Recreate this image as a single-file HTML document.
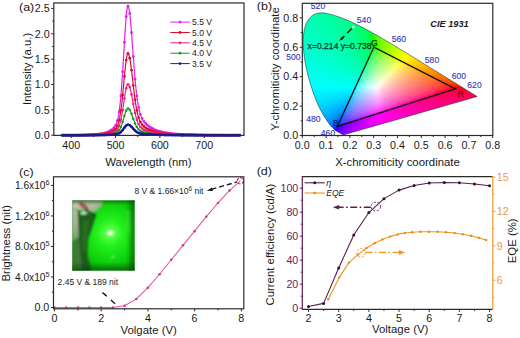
<!DOCTYPE html>
<html><head><meta charset="utf-8"><style>
html,body{margin:0;padding:0;background:#fff;width:520px;height:338px;overflow:hidden}
svg{display:block;font-family:"Liberation Sans", sans-serif}
</style></head><body>
<svg width="520" height="338" viewBox="0 0 520 338">
<defs><clipPath id="cie"><path d="M343.74,134.76 L343.73,134.76 L343.73,134.76 L343.73,134.76 L343.72,134.76 L343.72,134.76 L343.71,134.76 L343.71,134.77 L343.7,134.77 L343.69,134.77 L343.68,134.78 L343.67,134.78 L343.66,134.78 L343.66,134.78 L343.65,134.78 L343.64,134.78 L343.63,134.78 L343.63,134.78 L343.62,134.78 L343.61,134.78 L343.59,134.78 L343.58,134.79 L343.57,134.79 L343.56,134.79 L343.55,134.79 L343.53,134.8 L343.52,134.8 L343.51,134.8 L343.5,134.79 L343.49,134.79 L343.47,134.79 L343.46,134.79 L343.44,134.79 L343.43,134.79 L343.41,134.79 L343.4,134.79 L343.38,134.79 L343.36,134.79 L343.34,134.8 L343.32,134.8 L343.3,134.8 L343.28,134.8 L343.26,134.79 L343.24,134.79 L343.21,134.79 L343.19,134.78 L343.16,134.77 L343.13,134.76 L343.09,134.75 L343.06,134.74 L343.02,134.72 L342.97,134.71 L342.93,134.69 L342.88,134.67 L342.83,134.65 L342.78,134.62 L342.73,134.6 L342.68,134.58 L342.62,134.55 L342.56,134.52 L342.5,134.49 L342.43,134.45 L342.35,134.41 L342.28,134.37 L342.19,134.33 L342.11,134.28 L342.02,134.24 L341.93,134.19 L341.84,134.13 L341.74,134.08 L341.64,134.02 L341.54,133.96 L341.43,133.9 L341.31,133.83 L341.19,133.77 L341.06,133.7 L340.93,133.63 L340.79,133.55 L340.64,133.47 L340.48,133.39 L340.32,133.3 L340.14,133.2 L339.96,133.11 L339.77,133 L339.57,132.9 L339.37,132.79 L339.16,132.68 L338.94,132.56 L338.72,132.44 L338.48,132.3 L338.24,132.16 L337.98,132.01 L337.72,131.86 L337.45,131.7 L337.17,131.52 L336.87,131.34 L336.57,131.13 L336.26,130.92 L335.95,130.71 L335.63,130.48 L335.29,130.24 L334.93,129.96 L334.55,129.63 L334.15,129.28 L333.72,128.9 L333.28,128.49 L332.82,128.04 L332.34,127.55 L331.84,127 L331.31,126.42 L330.77,125.8 L330.21,125.13 L329.63,124.41 L329.02,123.61 L328.38,122.74 L327.72,121.8 L327.04,120.8 L326.33,119.73 L325.59,118.57 L324.82,117.33 L324.03,115.99 L323.19,114.56 L322.32,113.04 L321.41,111.44 L320.49,109.74 L319.57,107.92 L318.65,106 L317.73,103.95 L316.8,101.79 L315.87,99.52 L314.94,97.15 L314.01,94.69 L313.11,92.14 L312.2,89.46 L311.28,86.67 L310.38,83.77 L309.5,80.81 L308.67,77.82 L307.89,74.83 L307.16,71.81 L306.47,68.71 L305.81,65.58 L305.21,62.46 L304.69,59.37 L304.25,56.36 L303.89,53.39 L303.59,50.44 L303.36,47.52 L303.22,44.67 L303.17,41.9 L303.23,39.24 L303.39,36.67 L303.64,34.16 L303.98,31.73 L304.42,29.42 L304.97,27.24 L305.61,25.22 L306.36,23.35 L307.24,21.61 L308.21,20 L309.26,18.55 L310.38,17.25 L311.56,16.14 L312.81,15.21 L314.14,14.47 L315.55,13.9 L317,13.46 L318.49,13.15 L319.98,12.93 L321.5,12.85 L323.06,12.91 L324.66,13.1 L326.26,13.38 L327.88,13.7 L329.48,14.05 L331.08,14.43 L332.7,14.88 L334.32,15.39 L335.94,15.93 L337.54,16.48 L339.12,17.03 L340.67,17.59 L342.2,18.16 L343.72,18.75 L345.23,19.36 L346.72,19.98 L348.21,20.6 L349.69,21.24 L351.15,21.9 L352.61,22.56 L354.06,23.23 L355.5,23.92 L356.94,24.62 L358.39,25.33 L359.83,26.05 L361.27,26.78 L362.7,27.52 L364.13,28.27 L365.56,29.03 L366.99,29.79 L368.41,30.57 L369.83,31.35 L371.25,32.14 L372.66,32.93 L374.08,33.73 L375.5,34.54 L376.91,35.35 L378.33,36.16 L379.74,36.99 L381.16,37.81 L382.58,38.64 L384,39.48 L385.42,40.31 L386.84,41.16 L388.26,42 L389.68,42.85 L391.1,43.7 L392.51,44.55 L393.93,45.4 L395.34,46.26 L396.75,47.12 L398.16,47.97 L399.57,48.83 L400.98,49.68 L402.39,50.54 L403.8,51.4 L405.2,52.25 L406.6,53.11 L408,53.96 L409.38,54.81 L410.77,55.66 L412.15,56.51 L413.53,57.35 L414.89,58.19 L416.25,59.03 L417.61,59.86 L418.96,60.69 L420.3,61.52 L421.63,62.34 L422.96,63.16 L424.27,63.97 L425.58,64.77 L426.88,65.57 L428.17,66.37 L429.45,67.15 L430.71,67.93 L431.96,68.7 L433.2,69.46 L434.43,70.22 L435.65,70.96 L436.85,71.7 L438.03,72.43 L439.2,73.14 L440.34,73.85 L441.47,74.55 L442.59,75.24 L443.68,75.91 L444.75,76.57 L445.79,77.21 L446.8,77.84 L447.79,78.45 L448.75,79.04 L449.7,79.62 L450.62,80.19 L451.53,80.74 L452.42,81.29 L453.29,81.83 L454.15,82.35 L454.98,82.87 L455.79,83.36 L456.57,83.84 L457.33,84.31 L458.06,84.75 L458.77,85.19 L459.45,85.6 L460.12,86.01 L460.76,86.4 L461.38,86.78 L461.98,87.15 L462.55,87.51 L463.11,87.85 L463.65,88.18 L464.16,88.5 L464.66,88.81 L465.14,89.11 L465.6,89.39 L466.04,89.66 L466.46,89.93 L466.88,90.18 L467.27,90.42 L467.66,90.66 L468.02,90.88 L468.37,91.09 L468.71,91.3 L469.04,91.5 L469.36,91.7 L469.66,91.89 L469.96,92.07 L470.24,92.24 L470.51,92.41 L470.78,92.58 L471.04,92.74 L471.29,92.89 L471.54,93.05 L471.78,93.19 L472.01,93.33 L472.23,93.47 L472.45,93.61 L472.66,93.74 L472.86,93.86 L473.05,93.98 L473.24,94.1 L473.42,94.21 L473.6,94.31 L473.77,94.42 L473.93,94.51 L474.08,94.61 L474.23,94.69 L474.37,94.78 L474.51,94.86 L474.64,94.94 L474.76,95.02 L474.87,95.09 L474.98,95.16 L475.09,95.22 L475.19,95.29 L475.29,95.35 L475.38,95.4 L475.47,95.46 L475.55,95.51 L475.64,95.56 L475.71,95.61 L475.79,95.65 L475.86,95.7 L475.92,95.74 L475.98,95.77 L476.04,95.81 L476.09,95.84 L476.14,95.87 L476.18,95.9 L476.22,95.92 L476.26,95.95 L476.3,95.97 L476.34,95.99 L476.37,96.02 L476.4,96.04 L476.44,96.06 L476.47,96.08 L476.52,96.1 L476.57,96.13 L476.62,96.17 L476.68,96.21 L476.74,96.24 L476.8,96.28 L476.85,96.31 L476.9,96.34 L476.94,96.37 L476.98,96.39 L477.02,96.42 L477.06,96.44 L477.09,96.46 L477.11,96.47 L477.13,96.48 L477.14,96.49 L477.15,96.49 L477.15,96.5 L477.16,96.5 Z"/></clipPath><linearGradient id="r0" gradientUnits="userSpaceOnUse" x1="320" y1="0" x2="323" y2="0"><stop offset="0" stop-color="#00ffa7"/><stop offset="1" stop-color="#00ffa7"/></linearGradient><linearGradient id="r1" gradientUnits="userSpaceOnUse" x1="315" y1="0" x2="328" y2="0"><stop offset="0" stop-color="#00ffab"/><stop offset="0.2" stop-color="#00ffab"/><stop offset="0.4" stop-color="#00ffa9"/><stop offset="0.6" stop-color="#00ffa6"/><stop offset="0.8" stop-color="#00ffa4"/><stop offset="1" stop-color="#00ffa3"/></linearGradient><linearGradient id="r2" gradientUnits="userSpaceOnUse" x1="313" y1="0" x2="333" y2="0"><stop offset="0" stop-color="#00ffae"/><stop offset="0.14" stop-color="#00ffad"/><stop offset="0.29" stop-color="#00ffab"/><stop offset="0.43" stop-color="#00ffa8"/><stop offset="0.57" stop-color="#00ffa5"/><stop offset="0.71" stop-color="#00ffa2"/><stop offset="0.86" stop-color="#00ff9f"/><stop offset="1" stop-color="#00ff9e"/></linearGradient><linearGradient id="r3" gradientUnits="userSpaceOnUse" x1="311" y1="0" x2="336" y2="0"><stop offset="0" stop-color="#00ffb0"/><stop offset="0.11" stop-color="#00ffaf"/><stop offset="0.22" stop-color="#00ffad"/><stop offset="0.33" stop-color="#00ffab"/><stop offset="0.44" stop-color="#00ffa8"/><stop offset="0.56" stop-color="#00ffa6"/><stop offset="0.67" stop-color="#00ffa3"/><stop offset="0.78" stop-color="#00ffa0"/><stop offset="0.89" stop-color="#00ff9c"/><stop offset="1" stop-color="#00ff9b"/></linearGradient><linearGradient id="r4" gradientUnits="userSpaceOnUse" x1="310" y1="0" x2="339" y2="0"><stop offset="0" stop-color="#00ffb2"/><stop offset="0.1" stop-color="#00ffb1"/><stop offset="0.2" stop-color="#00ffaf"/><stop offset="0.3" stop-color="#00ffac"/><stop offset="0.4" stop-color="#00ffaa"/><stop offset="0.5" stop-color="#00ffa7"/><stop offset="0.6" stop-color="#00ffa4"/><stop offset="0.7" stop-color="#00ffa1"/><stop offset="0.8" stop-color="#00ff9d"/><stop offset="0.9" stop-color="#00ff99"/><stop offset="1" stop-color="#00ff98"/></linearGradient><linearGradient id="r5" gradientUnits="userSpaceOnUse" x1="309" y1="0" x2="342" y2="0"><stop offset="0" stop-color="#00ffb3"/><stop offset="0.09" stop-color="#00ffb2"/><stop offset="0.18" stop-color="#00ffb0"/><stop offset="0.27" stop-color="#00ffad"/><stop offset="0.36" stop-color="#00ffab"/><stop offset="0.45" stop-color="#00ffa8"/><stop offset="0.55" stop-color="#00ffa5"/><stop offset="0.64" stop-color="#00ffa2"/><stop offset="0.73" stop-color="#00ff9e"/><stop offset="0.82" stop-color="#00ff9a"/><stop offset="0.91" stop-color="#00ff96"/><stop offset="1" stop-color="#00ff94"/></linearGradient><linearGradient id="r6" gradientUnits="userSpaceOnUse" x1="308" y1="0" x2="345" y2="0"><stop offset="0" stop-color="#00ffb5"/><stop offset="0.08" stop-color="#00ffb4"/><stop offset="0.15" stop-color="#00ffb2"/><stop offset="0.23" stop-color="#00ffaf"/><stop offset="0.31" stop-color="#00ffad"/><stop offset="0.38" stop-color="#00ffaa"/><stop offset="0.46" stop-color="#00ffa8"/><stop offset="0.54" stop-color="#00ffa5"/><stop offset="0.62" stop-color="#00ffa2"/><stop offset="0.69" stop-color="#00ff9e"/><stop offset="0.77" stop-color="#00ff9b"/><stop offset="0.85" stop-color="#00ff96"/><stop offset="0.92" stop-color="#00ff92"/><stop offset="1" stop-color="#00ff91"/></linearGradient><linearGradient id="r7" gradientUnits="userSpaceOnUse" x1="307" y1="0" x2="347" y2="0"><stop offset="0" stop-color="#00ffb6"/><stop offset="0.07" stop-color="#00ffb5"/><stop offset="0.14" stop-color="#00ffb3"/><stop offset="0.21" stop-color="#00ffb1"/><stop offset="0.29" stop-color="#00ffaf"/><stop offset="0.36" stop-color="#00ffac"/><stop offset="0.43" stop-color="#00ffa9"/><stop offset="0.5" stop-color="#00ffa6"/><stop offset="0.57" stop-color="#00ffa3"/><stop offset="0.64" stop-color="#00ffa0"/><stop offset="0.71" stop-color="#00ff9c"/><stop offset="0.79" stop-color="#00ff99"/><stop offset="0.86" stop-color="#00ff94"/><stop offset="0.93" stop-color="#00ff90"/><stop offset="1" stop-color="#00ff8e"/></linearGradient><linearGradient id="r8" gradientUnits="userSpaceOnUse" x1="306" y1="0" x2="349" y2="0"><stop offset="0" stop-color="#00ffb7"/><stop offset="0.07" stop-color="#00ffb7"/><stop offset="0.13" stop-color="#00ffb4"/><stop offset="0.2" stop-color="#00ffb2"/><stop offset="0.27" stop-color="#00ffb0"/><stop offset="0.33" stop-color="#00ffae"/><stop offset="0.4" stop-color="#00ffab"/><stop offset="0.47" stop-color="#00ffa8"/><stop offset="0.53" stop-color="#00ffa5"/><stop offset="0.6" stop-color="#00ffa2"/><stop offset="0.67" stop-color="#00ff9e"/><stop offset="0.73" stop-color="#00ff9b"/><stop offset="0.8" stop-color="#00ff96"/><stop offset="0.87" stop-color="#00ff92"/><stop offset="0.93" stop-color="#00ff8d"/><stop offset="1" stop-color="#00ff8a"/></linearGradient><linearGradient id="r9" gradientUnits="userSpaceOnUse" x1="306" y1="0" x2="352" y2="0"><stop offset="0" stop-color="#00ffb8"/><stop offset="0.06" stop-color="#00ffb7"/><stop offset="0.12" stop-color="#00ffb5"/><stop offset="0.19" stop-color="#00ffb3"/><stop offset="0.25" stop-color="#00ffb1"/><stop offset="0.31" stop-color="#00ffae"/><stop offset="0.38" stop-color="#00ffac"/><stop offset="0.44" stop-color="#00ffa9"/><stop offset="0.5" stop-color="#00ffa6"/><stop offset="0.56" stop-color="#00ffa3"/><stop offset="0.62" stop-color="#00ff9f"/><stop offset="0.69" stop-color="#00ff9b"/><stop offset="0.75" stop-color="#00ff97"/><stop offset="0.81" stop-color="#00ff93"/><stop offset="0.88" stop-color="#00ff8e"/><stop offset="0.94" stop-color="#00ff88"/><stop offset="1" stop-color="#00ff86"/></linearGradient><linearGradient id="r10" gradientUnits="userSpaceOnUse" x1="305" y1="0" x2="354" y2="0"><stop offset="0" stop-color="#00ffb9"/><stop offset="0.06" stop-color="#00ffb9"/><stop offset="0.12" stop-color="#00ffb7"/><stop offset="0.18" stop-color="#00ffb5"/><stop offset="0.24" stop-color="#00ffb2"/><stop offset="0.29" stop-color="#00ffb0"/><stop offset="0.35" stop-color="#00ffad"/><stop offset="0.41" stop-color="#00ffab"/><stop offset="0.47" stop-color="#00ffa8"/><stop offset="0.53" stop-color="#00ffa5"/><stop offset="0.59" stop-color="#00ffa1"/><stop offset="0.65" stop-color="#00ff9d"/><stop offset="0.71" stop-color="#00ff99"/><stop offset="0.76" stop-color="#00ff95"/><stop offset="0.82" stop-color="#00ff90"/><stop offset="0.88" stop-color="#00ff8b"/><stop offset="0.94" stop-color="#00ff84"/><stop offset="1" stop-color="#00ff82"/></linearGradient><linearGradient id="r11" gradientUnits="userSpaceOnUse" x1="305" y1="0" x2="356" y2="0"><stop offset="0" stop-color="#00ffba"/><stop offset="0.06" stop-color="#00ffb9"/><stop offset="0.12" stop-color="#00ffb7"/><stop offset="0.18" stop-color="#00ffb5"/><stop offset="0.24" stop-color="#00ffb3"/><stop offset="0.29" stop-color="#00ffb0"/><stop offset="0.35" stop-color="#00ffad"/><stop offset="0.41" stop-color="#00ffab"/><stop offset="0.47" stop-color="#00ffa8"/><stop offset="0.53" stop-color="#00ffa4"/><stop offset="0.59" stop-color="#00ffa0"/><stop offset="0.65" stop-color="#00ff9c"/><stop offset="0.71" stop-color="#00ff98"/><stop offset="0.76" stop-color="#00ff93"/><stop offset="0.82" stop-color="#00ff8e"/><stop offset="0.88" stop-color="#00ff88"/><stop offset="0.94" stop-color="#00ff81"/><stop offset="1" stop-color="#00ff7e"/></linearGradient><linearGradient id="r12" gradientUnits="userSpaceOnUse" x1="304" y1="0" x2="358" y2="0"><stop offset="0" stop-color="#00ffbb"/><stop offset="0.06" stop-color="#00ffbb"/><stop offset="0.11" stop-color="#00ffb9"/><stop offset="0.17" stop-color="#00ffb6"/><stop offset="0.22" stop-color="#00ffb4"/><stop offset="0.28" stop-color="#00ffb2"/><stop offset="0.33" stop-color="#00ffaf"/><stop offset="0.39" stop-color="#00ffac"/><stop offset="0.44" stop-color="#00ffa9"/><stop offset="0.5" stop-color="#00ffa6"/><stop offset="0.56" stop-color="#00ffa3"/><stop offset="0.61" stop-color="#00ff9f"/><stop offset="0.67" stop-color="#00ff9a"/><stop offset="0.72" stop-color="#00ff96"/><stop offset="0.78" stop-color="#00ff91"/><stop offset="0.83" stop-color="#00ff8b"/><stop offset="0.89" stop-color="#00ff84"/><stop offset="0.94" stop-color="#00ff7d"/><stop offset="1" stop-color="#00ff79"/></linearGradient><linearGradient id="r13" gradientUnits="userSpaceOnUse" x1="304" y1="0" x2="360" y2="0"><stop offset="0" stop-color="#00ffbc"/><stop offset="0.05" stop-color="#00ffbb"/><stop offset="0.11" stop-color="#00ffb9"/><stop offset="0.16" stop-color="#00ffb7"/><stop offset="0.21" stop-color="#00ffb5"/><stop offset="0.26" stop-color="#00ffb3"/><stop offset="0.32" stop-color="#00ffb0"/><stop offset="0.37" stop-color="#00ffae"/><stop offset="0.42" stop-color="#00ffab"/><stop offset="0.47" stop-color="#00ffa7"/><stop offset="0.53" stop-color="#00ffa4"/><stop offset="0.58" stop-color="#00ffa0"/><stop offset="0.63" stop-color="#00ff9c"/><stop offset="0.68" stop-color="#00ff98"/><stop offset="0.74" stop-color="#00ff93"/><stop offset="0.79" stop-color="#00ff8d"/><stop offset="0.84" stop-color="#00ff87"/><stop offset="0.89" stop-color="#00ff80"/><stop offset="0.95" stop-color="#00ff78"/><stop offset="1" stop-color="#00ff73"/></linearGradient><linearGradient id="r14" gradientUnits="userSpaceOnUse" x1="304" y1="0" x2="362" y2="0"><stop offset="0" stop-color="#00ffbd"/><stop offset="0.05" stop-color="#00ffbc"/><stop offset="0.1" stop-color="#00ffba"/><stop offset="0.15" stop-color="#00ffb8"/><stop offset="0.2" stop-color="#00ffb6"/><stop offset="0.25" stop-color="#00ffb4"/><stop offset="0.3" stop-color="#00ffb1"/><stop offset="0.35" stop-color="#00ffaf"/><stop offset="0.4" stop-color="#00ffac"/><stop offset="0.45" stop-color="#00ffa9"/><stop offset="0.5" stop-color="#00ffa5"/><stop offset="0.55" stop-color="#00ffa2"/><stop offset="0.6" stop-color="#00ff9e"/><stop offset="0.65" stop-color="#00ff9a"/><stop offset="0.7" stop-color="#00ff95"/><stop offset="0.75" stop-color="#00ff90"/><stop offset="0.8" stop-color="#00ff8a"/><stop offset="0.85" stop-color="#00ff83"/><stop offset="0.9" stop-color="#00ff7b"/><stop offset="0.95" stop-color="#00ff72"/><stop offset="1" stop-color="#00ff6d"/></linearGradient><linearGradient id="r15" gradientUnits="userSpaceOnUse" x1="303" y1="0" x2="364" y2="0"><stop offset="0" stop-color="#00ffbe"/><stop offset="0.05" stop-color="#00ffbe"/><stop offset="0.1" stop-color="#00ffbc"/><stop offset="0.14" stop-color="#00ffba"/><stop offset="0.19" stop-color="#00ffb8"/><stop offset="0.24" stop-color="#00ffb5"/><stop offset="0.29" stop-color="#00ffb3"/><stop offset="0.33" stop-color="#00ffb0"/><stop offset="0.38" stop-color="#00ffae"/><stop offset="0.43" stop-color="#00ffab"/><stop offset="0.48" stop-color="#00ffa7"/><stop offset="0.52" stop-color="#00ffa4"/><stop offset="0.57" stop-color="#00ffa0"/><stop offset="0.62" stop-color="#00ff9c"/><stop offset="0.67" stop-color="#00ff97"/><stop offset="0.71" stop-color="#00ff92"/><stop offset="0.76" stop-color="#00ff8d"/><stop offset="0.81" stop-color="#00ff86"/><stop offset="0.86" stop-color="#00ff7f"/><stop offset="0.9" stop-color="#00ff76"/><stop offset="0.95" stop-color="#00ff6c"/><stop offset="1" stop-color="#00ff67"/></linearGradient><linearGradient id="r16" gradientUnits="userSpaceOnUse" x1="303" y1="0" x2="366" y2="0"><stop offset="0" stop-color="#00ffbf"/><stop offset="0.05" stop-color="#00ffbe"/><stop offset="0.1" stop-color="#00ffbc"/><stop offset="0.14" stop-color="#00ffba"/><stop offset="0.19" stop-color="#00ffb8"/><stop offset="0.24" stop-color="#00ffb6"/><stop offset="0.29" stop-color="#00ffb3"/><stop offset="0.33" stop-color="#00ffb1"/><stop offset="0.38" stop-color="#00ffae"/><stop offset="0.43" stop-color="#00ffab"/><stop offset="0.48" stop-color="#00ffa7"/><stop offset="0.52" stop-color="#00ffa4"/><stop offset="0.57" stop-color="#00ff9f"/><stop offset="0.62" stop-color="#00ff9b"/><stop offset="0.67" stop-color="#00ff96"/><stop offset="0.71" stop-color="#00ff91"/><stop offset="0.76" stop-color="#00ff8a"/><stop offset="0.81" stop-color="#00ff83"/><stop offset="0.86" stop-color="#00ff7b"/><stop offset="0.9" stop-color="#00ff71"/><stop offset="0.95" stop-color="#00ff65"/><stop offset="1" stop-color="#00ff5f"/></linearGradient><linearGradient id="r17" gradientUnits="userSpaceOnUse" x1="303" y1="0" x2="368" y2="0"><stop offset="0" stop-color="#00ffc0"/><stop offset="0.05" stop-color="#00ffbf"/><stop offset="0.09" stop-color="#00ffbd"/><stop offset="0.14" stop-color="#00ffbb"/><stop offset="0.18" stop-color="#00ffb9"/><stop offset="0.23" stop-color="#00ffb7"/><stop offset="0.27" stop-color="#00ffb4"/><stop offset="0.32" stop-color="#00ffb2"/><stop offset="0.36" stop-color="#00ffaf"/><stop offset="0.41" stop-color="#00ffac"/><stop offset="0.45" stop-color="#00ffa9"/><stop offset="0.5" stop-color="#00ffa5"/><stop offset="0.55" stop-color="#00ffa1"/><stop offset="0.59" stop-color="#00ff9d"/><stop offset="0.64" stop-color="#00ff98"/><stop offset="0.68" stop-color="#00ff93"/><stop offset="0.73" stop-color="#00ff8d"/><stop offset="0.77" stop-color="#00ff86"/><stop offset="0.82" stop-color="#00ff7e"/><stop offset="0.86" stop-color="#00ff75"/><stop offset="0.91" stop-color="#00ff6a"/><stop offset="0.95" stop-color="#00ff5c"/><stop offset="1" stop-color="#00ff56"/></linearGradient><linearGradient id="r18" gradientUnits="userSpaceOnUse" x1="303" y1="0" x2="370" y2="0"><stop offset="0" stop-color="#00ffc1"/><stop offset="0.04" stop-color="#00ffc0"/><stop offset="0.09" stop-color="#00ffbe"/><stop offset="0.13" stop-color="#00ffbc"/><stop offset="0.17" stop-color="#00ffba"/><stop offset="0.22" stop-color="#00ffb8"/><stop offset="0.26" stop-color="#00ffb5"/><stop offset="0.3" stop-color="#00ffb3"/><stop offset="0.35" stop-color="#00ffb0"/><stop offset="0.39" stop-color="#00ffad"/><stop offset="0.43" stop-color="#00ffaa"/><stop offset="0.48" stop-color="#00ffa7"/><stop offset="0.52" stop-color="#00ffa3"/><stop offset="0.57" stop-color="#00ff9f"/><stop offset="0.61" stop-color="#00ff9a"/><stop offset="0.65" stop-color="#00ff95"/><stop offset="0.7" stop-color="#00ff8f"/><stop offset="0.74" stop-color="#00ff89"/><stop offset="0.78" stop-color="#00ff81"/><stop offset="0.83" stop-color="#00ff79"/><stop offset="0.87" stop-color="#00ff6e"/><stop offset="0.91" stop-color="#00ff62"/><stop offset="0.96" stop-color="#00ff51"/><stop offset="1" stop-color="#00ff4a"/></linearGradient><linearGradient id="r19" gradientUnits="userSpaceOnUse" x1="303" y1="0" x2="372" y2="0"><stop offset="0" stop-color="#00ffc1"/><stop offset="0.04" stop-color="#00ffc0"/><stop offset="0.09" stop-color="#00ffbf"/><stop offset="0.13" stop-color="#00ffbd"/><stop offset="0.17" stop-color="#00ffba"/><stop offset="0.22" stop-color="#00ffb8"/><stop offset="0.26" stop-color="#00ffb6"/><stop offset="0.3" stop-color="#00ffb3"/><stop offset="0.35" stop-color="#00ffb0"/><stop offset="0.39" stop-color="#00ffad"/><stop offset="0.43" stop-color="#00ffaa"/><stop offset="0.48" stop-color="#00ffa6"/><stop offset="0.52" stop-color="#00ffa2"/><stop offset="0.57" stop-color="#00ff9e"/><stop offset="0.61" stop-color="#00ff99"/><stop offset="0.65" stop-color="#00ff93"/><stop offset="0.7" stop-color="#00ff8d"/><stop offset="0.74" stop-color="#00ff86"/><stop offset="0.78" stop-color="#00ff7e"/><stop offset="0.83" stop-color="#00ff74"/><stop offset="0.87" stop-color="#00ff68"/><stop offset="0.91" stop-color="#00ff59"/><stop offset="0.96" stop-color="#00ff43"/><stop offset="1" stop-color="#00ff3b"/></linearGradient><linearGradient id="r20" gradientUnits="userSpaceOnUse" x1="302" y1="0" x2="373" y2="0"><stop offset="0" stop-color="#00ffc2"/><stop offset="0.04" stop-color="#00ffc2"/><stop offset="0.08" stop-color="#00ffc0"/><stop offset="0.12" stop-color="#00ffbe"/><stop offset="0.17" stop-color="#00ffbc"/><stop offset="0.21" stop-color="#00ffba"/><stop offset="0.25" stop-color="#00ffb8"/><stop offset="0.29" stop-color="#00ffb5"/><stop offset="0.33" stop-color="#00ffb2"/><stop offset="0.38" stop-color="#00ffb0"/><stop offset="0.42" stop-color="#00ffac"/><stop offset="0.46" stop-color="#00ffa9"/><stop offset="0.5" stop-color="#00ffa5"/><stop offset="0.54" stop-color="#00ffa1"/><stop offset="0.58" stop-color="#00ff9d"/><stop offset="0.62" stop-color="#00ff98"/><stop offset="0.67" stop-color="#00ff92"/><stop offset="0.71" stop-color="#00ff8b"/><stop offset="0.75" stop-color="#00ff84"/><stop offset="0.79" stop-color="#00ff7b"/><stop offset="0.83" stop-color="#00ff71"/><stop offset="0.88" stop-color="#00ff64"/><stop offset="0.92" stop-color="#00ff53"/><stop offset="0.96" stop-color="#00ff3a"/><stop offset="1" stop-color="#00ff23"/></linearGradient><linearGradient id="r21" gradientUnits="userSpaceOnUse" x1="302" y1="0" x2="375" y2="0"><stop offset="0" stop-color="#00ffc3"/><stop offset="0.04" stop-color="#00ffc3"/><stop offset="0.08" stop-color="#00ffc1"/><stop offset="0.12" stop-color="#00ffbf"/><stop offset="0.16" stop-color="#00ffbd"/><stop offset="0.2" stop-color="#00ffbb"/><stop offset="0.24" stop-color="#00ffb9"/><stop offset="0.28" stop-color="#00ffb6"/><stop offset="0.32" stop-color="#00ffb4"/><stop offset="0.36" stop-color="#00ffb1"/><stop offset="0.4" stop-color="#00ffae"/><stop offset="0.44" stop-color="#00ffaa"/><stop offset="0.48" stop-color="#00ffa7"/><stop offset="0.52" stop-color="#00ffa3"/><stop offset="0.56" stop-color="#00ff9e"/><stop offset="0.6" stop-color="#00ff9a"/><stop offset="0.64" stop-color="#00ff94"/><stop offset="0.68" stop-color="#00ff8e"/><stop offset="0.72" stop-color="#00ff87"/><stop offset="0.76" stop-color="#00ff7f"/><stop offset="0.8" stop-color="#00ff75"/><stop offset="0.84" stop-color="#00ff69"/><stop offset="0.88" stop-color="#00ff5a"/><stop offset="0.92" stop-color="#00ff44"/><stop offset="0.96" stop-color="#00ff19"/><stop offset="1" stop-color="#1eff00"/></linearGradient><linearGradient id="r22" gradientUnits="userSpaceOnUse" x1="302" y1="0" x2="377" y2="0"><stop offset="0" stop-color="#00ffc4"/><stop offset="0.04" stop-color="#00ffc3"/><stop offset="0.08" stop-color="#00ffc2"/><stop offset="0.12" stop-color="#00ffc0"/><stop offset="0.16" stop-color="#00ffbe"/><stop offset="0.2" stop-color="#00ffbb"/><stop offset="0.24" stop-color="#00ffb9"/><stop offset="0.28" stop-color="#00ffb7"/><stop offset="0.32" stop-color="#00ffb4"/><stop offset="0.36" stop-color="#00ffb1"/><stop offset="0.4" stop-color="#00ffae"/><stop offset="0.44" stop-color="#00ffaa"/><stop offset="0.48" stop-color="#00ffa7"/><stop offset="0.52" stop-color="#00ffa2"/><stop offset="0.56" stop-color="#00ff9e"/><stop offset="0.6" stop-color="#00ff98"/><stop offset="0.64" stop-color="#00ff93"/><stop offset="0.68" stop-color="#00ff8c"/><stop offset="0.72" stop-color="#00ff84"/><stop offset="0.76" stop-color="#00ff7b"/><stop offset="0.8" stop-color="#00ff70"/><stop offset="0.84" stop-color="#00ff62"/><stop offset="0.88" stop-color="#00ff4f"/><stop offset="0.92" stop-color="#00ff30"/><stop offset="0.96" stop-color="#2aff00"/><stop offset="1" stop-color="#3bff00"/></linearGradient><linearGradient id="r23" gradientUnits="userSpaceOnUse" x1="302" y1="0" x2="379" y2="0"><stop offset="0" stop-color="#00ffc5"/><stop offset="0.04" stop-color="#00ffc4"/><stop offset="0.08" stop-color="#00ffc2"/><stop offset="0.12" stop-color="#00ffc1"/><stop offset="0.15" stop-color="#00ffbf"/><stop offset="0.19" stop-color="#00ffbc"/><stop offset="0.23" stop-color="#00ffba"/><stop offset="0.27" stop-color="#00ffb8"/><stop offset="0.31" stop-color="#00ffb5"/><stop offset="0.35" stop-color="#00ffb2"/><stop offset="0.38" stop-color="#00ffaf"/><stop offset="0.42" stop-color="#00ffac"/><stop offset="0.46" stop-color="#00ffa8"/><stop offset="0.5" stop-color="#00ffa4"/><stop offset="0.54" stop-color="#00ffa0"/><stop offset="0.58" stop-color="#00ff9b"/><stop offset="0.62" stop-color="#00ff95"/><stop offset="0.65" stop-color="#00ff8e"/><stop offset="0.69" stop-color="#00ff87"/><stop offset="0.73" stop-color="#00ff7e"/><stop offset="0.77" stop-color="#00ff74"/><stop offset="0.81" stop-color="#00ff67"/><stop offset="0.85" stop-color="#00ff56"/><stop offset="0.88" stop-color="#00ff3d"/><stop offset="0.92" stop-color="#10ff00"/><stop offset="0.96" stop-color="#45ff00"/><stop offset="1" stop-color="#4dff00"/></linearGradient><linearGradient id="r24" gradientUnits="userSpaceOnUse" x1="302" y1="0" x2="380" y2="0"><stop offset="0" stop-color="#00ffc6"/><stop offset="0.04" stop-color="#00ffc5"/><stop offset="0.08" stop-color="#00ffc3"/><stop offset="0.12" stop-color="#00ffc1"/><stop offset="0.15" stop-color="#00ffbf"/><stop offset="0.19" stop-color="#00ffbd"/><stop offset="0.23" stop-color="#00ffbb"/><stop offset="0.27" stop-color="#00ffb8"/><stop offset="0.31" stop-color="#00ffb6"/><stop offset="0.35" stop-color="#00ffb3"/><stop offset="0.38" stop-color="#00ffb0"/><stop offset="0.42" stop-color="#00ffac"/><stop offset="0.46" stop-color="#00ffa9"/><stop offset="0.5" stop-color="#00ffa4"/><stop offset="0.54" stop-color="#00ffa0"/><stop offset="0.58" stop-color="#00ff9b"/><stop offset="0.62" stop-color="#00ff95"/><stop offset="0.65" stop-color="#00ff8e"/><stop offset="0.69" stop-color="#00ff86"/><stop offset="0.73" stop-color="#00ff7d"/><stop offset="0.77" stop-color="#00ff72"/><stop offset="0.81" stop-color="#00ff64"/><stop offset="0.85" stop-color="#00ff52"/><stop offset="0.88" stop-color="#00ff34"/><stop offset="0.92" stop-color="#28ff00"/><stop offset="0.96" stop-color="#4eff00"/><stop offset="1" stop-color="#5cff00"/></linearGradient><linearGradient id="r25" gradientUnits="userSpaceOnUse" x1="302" y1="0" x2="382" y2="0"><stop offset="0" stop-color="#00ffc7"/><stop offset="0.04" stop-color="#00ffc6"/><stop offset="0.07" stop-color="#00ffc4"/><stop offset="0.11" stop-color="#00ffc2"/><stop offset="0.15" stop-color="#00ffc0"/><stop offset="0.19" stop-color="#00ffbe"/><stop offset="0.22" stop-color="#00ffbc"/><stop offset="0.26" stop-color="#00ffba"/><stop offset="0.3" stop-color="#00ffb7"/><stop offset="0.33" stop-color="#00ffb4"/><stop offset="0.37" stop-color="#00ffb1"/><stop offset="0.41" stop-color="#00ffae"/><stop offset="0.44" stop-color="#00ffaa"/><stop offset="0.48" stop-color="#00ffa6"/><stop offset="0.52" stop-color="#00ffa2"/><stop offset="0.56" stop-color="#00ff9d"/><stop offset="0.59" stop-color="#00ff97"/><stop offset="0.63" stop-color="#00ff91"/><stop offset="0.67" stop-color="#00ff89"/><stop offset="0.7" stop-color="#00ff81"/><stop offset="0.74" stop-color="#00ff76"/><stop offset="0.78" stop-color="#00ff69"/><stop offset="0.81" stop-color="#00ff59"/><stop offset="0.85" stop-color="#00ff40"/><stop offset="0.89" stop-color="#0aff00"/><stop offset="0.93" stop-color="#45ff00"/><stop offset="0.96" stop-color="#60ff00"/><stop offset="1" stop-color="#69ff00"/></linearGradient><linearGradient id="r26" gradientUnits="userSpaceOnUse" x1="302" y1="0" x2="384" y2="0"><stop offset="0" stop-color="#00ffc7"/><stop offset="0.04" stop-color="#00ffc7"/><stop offset="0.07" stop-color="#00ffc5"/><stop offset="0.11" stop-color="#00ffc3"/><stop offset="0.14" stop-color="#00ffc1"/><stop offset="0.18" stop-color="#00ffbf"/><stop offset="0.21" stop-color="#00ffbd"/><stop offset="0.25" stop-color="#00ffbb"/><stop offset="0.29" stop-color="#00ffb8"/><stop offset="0.32" stop-color="#00ffb5"/><stop offset="0.36" stop-color="#00ffb2"/><stop offset="0.39" stop-color="#00ffaf"/><stop offset="0.43" stop-color="#00ffac"/><stop offset="0.46" stop-color="#00ffa8"/><stop offset="0.5" stop-color="#00ffa3"/><stop offset="0.54" stop-color="#00ff9f"/><stop offset="0.57" stop-color="#00ff99"/><stop offset="0.61" stop-color="#00ff93"/><stop offset="0.64" stop-color="#00ff8c"/><stop offset="0.68" stop-color="#00ff84"/><stop offset="0.71" stop-color="#00ff7a"/><stop offset="0.75" stop-color="#00ff6e"/><stop offset="0.79" stop-color="#00ff5f"/><stop offset="0.82" stop-color="#00ff49"/><stop offset="0.86" stop-color="#00ff20"/><stop offset="0.89" stop-color="#3aff00"/><stop offset="0.93" stop-color="#59ff00"/><stop offset="0.96" stop-color="#6eff00"/><stop offset="1" stop-color="#74ff00"/></linearGradient><linearGradient id="r27" gradientUnits="userSpaceOnUse" x1="302" y1="0" x2="386" y2="0"><stop offset="0" stop-color="#00ffc8"/><stop offset="0.04" stop-color="#00ffc7"/><stop offset="0.07" stop-color="#00ffc6"/><stop offset="0.11" stop-color="#00ffc4"/><stop offset="0.14" stop-color="#00ffc2"/><stop offset="0.18" stop-color="#00ffc0"/><stop offset="0.21" stop-color="#00ffbe"/><stop offset="0.25" stop-color="#00ffbb"/><stop offset="0.29" stop-color="#00ffb9"/><stop offset="0.32" stop-color="#00ffb6"/><stop offset="0.36" stop-color="#00ffb3"/><stop offset="0.39" stop-color="#00ffaf"/><stop offset="0.43" stop-color="#00ffac"/><stop offset="0.46" stop-color="#00ffa8"/><stop offset="0.5" stop-color="#00ffa3"/><stop offset="0.54" stop-color="#00ff9e"/><stop offset="0.57" stop-color="#00ff98"/><stop offset="0.61" stop-color="#00ff91"/><stop offset="0.64" stop-color="#00ff8a"/><stop offset="0.68" stop-color="#00ff81"/><stop offset="0.71" stop-color="#00ff76"/><stop offset="0.75" stop-color="#00ff68"/><stop offset="0.79" stop-color="#00ff56"/><stop offset="0.82" stop-color="#00ff38"/><stop offset="0.86" stop-color="#24ff00"/><stop offset="0.89" stop-color="#4fff00"/><stop offset="0.93" stop-color="#67ff00"/><stop offset="0.96" stop-color="#7bff00"/><stop offset="1" stop-color="#7fff00"/></linearGradient><linearGradient id="r28" gradientUnits="userSpaceOnUse" x1="302" y1="0" x2="387" y2="0"><stop offset="0" stop-color="#00ffc9"/><stop offset="0.03" stop-color="#00ffc8"/><stop offset="0.07" stop-color="#00ffc7"/><stop offset="0.1" stop-color="#00ffc5"/><stop offset="0.14" stop-color="#00ffc3"/><stop offset="0.17" stop-color="#00ffc1"/><stop offset="0.21" stop-color="#00ffbf"/><stop offset="0.24" stop-color="#00ffbd"/><stop offset="0.28" stop-color="#00ffba"/><stop offset="0.31" stop-color="#00ffb7"/><stop offset="0.34" stop-color="#00ffb4"/><stop offset="0.38" stop-color="#00ffb1"/><stop offset="0.41" stop-color="#00ffae"/><stop offset="0.45" stop-color="#00ffaa"/><stop offset="0.48" stop-color="#00ffa6"/><stop offset="0.52" stop-color="#00ffa1"/><stop offset="0.55" stop-color="#00ff9b"/><stop offset="0.59" stop-color="#00ff95"/><stop offset="0.62" stop-color="#00ff8e"/><stop offset="0.66" stop-color="#00ff86"/><stop offset="0.69" stop-color="#00ff7c"/><stop offset="0.72" stop-color="#00ff70"/><stop offset="0.76" stop-color="#00ff61"/><stop offset="0.79" stop-color="#00ff4b"/><stop offset="0.83" stop-color="#00ff23"/><stop offset="0.86" stop-color="#3aff00"/><stop offset="0.9" stop-color="#5aff00"/><stop offset="0.93" stop-color="#70ff00"/><stop offset="0.97" stop-color="#81ff00"/><stop offset="1" stop-color="#89ff00"/></linearGradient><linearGradient id="r29" gradientUnits="userSpaceOnUse" x1="302" y1="0" x2="389" y2="0"><stop offset="0" stop-color="#00ffca"/><stop offset="0.03" stop-color="#00ffc9"/><stop offset="0.07" stop-color="#00ffc7"/><stop offset="0.1" stop-color="#00ffc6"/><stop offset="0.14" stop-color="#00ffc4"/><stop offset="0.17" stop-color="#00ffc2"/><stop offset="0.21" stop-color="#00ffc0"/><stop offset="0.24" stop-color="#00ffbd"/><stop offset="0.28" stop-color="#00ffbb"/><stop offset="0.31" stop-color="#00ffb8"/><stop offset="0.34" stop-color="#00ffb5"/><stop offset="0.38" stop-color="#00ffb1"/><stop offset="0.41" stop-color="#00ffae"/><stop offset="0.45" stop-color="#00ffaa"/><stop offset="0.48" stop-color="#00ffa5"/><stop offset="0.52" stop-color="#00ffa0"/><stop offset="0.55" stop-color="#00ff9a"/><stop offset="0.59" stop-color="#00ff94"/><stop offset="0.62" stop-color="#00ff8c"/><stop offset="0.66" stop-color="#00ff83"/><stop offset="0.69" stop-color="#00ff78"/><stop offset="0.72" stop-color="#00ff6b"/><stop offset="0.76" stop-color="#00ff58"/><stop offset="0.79" stop-color="#00ff3c"/><stop offset="0.83" stop-color="#21ff00"/><stop offset="0.86" stop-color="#4fff00"/><stop offset="0.9" stop-color="#68ff00"/><stop offset="0.93" stop-color="#7cff00"/><stop offset="0.97" stop-color="#8cff00"/><stop offset="1" stop-color="#92ff00"/></linearGradient><linearGradient id="r30" gradientUnits="userSpaceOnUse" x1="302" y1="0" x2="391" y2="0"><stop offset="0" stop-color="#00ffcb"/><stop offset="0.03" stop-color="#00ffca"/><stop offset="0.07" stop-color="#00ffc8"/><stop offset="0.1" stop-color="#00ffc7"/><stop offset="0.13" stop-color="#00ffc5"/><stop offset="0.17" stop-color="#00ffc3"/><stop offset="0.2" stop-color="#00ffc1"/><stop offset="0.23" stop-color="#00ffbe"/><stop offset="0.27" stop-color="#00ffbc"/><stop offset="0.3" stop-color="#00ffb9"/><stop offset="0.33" stop-color="#00ffb6"/><stop offset="0.37" stop-color="#00ffb3"/><stop offset="0.4" stop-color="#00ffaf"/><stop offset="0.43" stop-color="#00ffab"/><stop offset="0.47" stop-color="#00ffa7"/><stop offset="0.5" stop-color="#00ffa2"/><stop offset="0.53" stop-color="#00ff9d"/><stop offset="0.57" stop-color="#00ff96"/><stop offset="0.6" stop-color="#00ff8f"/><stop offset="0.63" stop-color="#00ff87"/><stop offset="0.67" stop-color="#00ff7c"/><stop offset="0.7" stop-color="#00ff70"/><stop offset="0.73" stop-color="#00ff5f"/><stop offset="0.77" stop-color="#00ff46"/><stop offset="0.8" stop-color="#00ff09"/><stop offset="0.83" stop-color="#45ff00"/><stop offset="0.87" stop-color="#62ff00"/><stop offset="0.9" stop-color="#77ff00"/><stop offset="0.93" stop-color="#89ff00"/><stop offset="0.97" stop-color="#97ff00"/><stop offset="1" stop-color="#9bff00"/></linearGradient><linearGradient id="r31" gradientUnits="userSpaceOnUse" x1="302" y1="0" x2="392" y2="0"><stop offset="0" stop-color="#00ffcc"/><stop offset="0.03" stop-color="#00ffcb"/><stop offset="0.07" stop-color="#00ffc9"/><stop offset="0.1" stop-color="#00ffc7"/><stop offset="0.13" stop-color="#00ffc6"/><stop offset="0.17" stop-color="#00ffc4"/><stop offset="0.2" stop-color="#00ffc1"/><stop offset="0.23" stop-color="#00ffbf"/><stop offset="0.27" stop-color="#00ffbd"/><stop offset="0.3" stop-color="#00ffba"/><stop offset="0.33" stop-color="#00ffb7"/><stop offset="0.37" stop-color="#00ffb4"/><stop offset="0.4" stop-color="#00ffb0"/><stop offset="0.43" stop-color="#00ffac"/><stop offset="0.47" stop-color="#00ffa8"/><stop offset="0.5" stop-color="#00ffa3"/><stop offset="0.53" stop-color="#00ff9d"/><stop offset="0.57" stop-color="#00ff96"/><stop offset="0.6" stop-color="#00ff8f"/><stop offset="0.63" stop-color="#00ff86"/><stop offset="0.67" stop-color="#00ff7b"/><stop offset="0.7" stop-color="#00ff6d"/><stop offset="0.73" stop-color="#00ff5b"/><stop offset="0.77" stop-color="#00ff3f"/><stop offset="0.8" stop-color="#1eff00"/><stop offset="0.83" stop-color="#4fff00"/><stop offset="0.87" stop-color="#6aff00"/><stop offset="0.9" stop-color="#7eff00"/><stop offset="0.93" stop-color="#8fff00"/><stop offset="0.97" stop-color="#9dff00"/><stop offset="1" stop-color="#a4ff00"/></linearGradient><linearGradient id="r32" gradientUnits="userSpaceOnUse" x1="302" y1="0" x2="394" y2="0"><stop offset="0" stop-color="#00ffcd"/><stop offset="0.03" stop-color="#00ffcc"/><stop offset="0.06" stop-color="#00ffca"/><stop offset="0.1" stop-color="#00ffc8"/><stop offset="0.13" stop-color="#00ffc7"/><stop offset="0.16" stop-color="#00ffc5"/><stop offset="0.19" stop-color="#00ffc3"/><stop offset="0.23" stop-color="#00ffc0"/><stop offset="0.26" stop-color="#00ffbe"/><stop offset="0.29" stop-color="#00ffbb"/><stop offset="0.32" stop-color="#00ffb8"/><stop offset="0.35" stop-color="#00ffb5"/><stop offset="0.39" stop-color="#00ffb2"/><stop offset="0.42" stop-color="#00ffae"/><stop offset="0.45" stop-color="#00ffa9"/><stop offset="0.48" stop-color="#00ffa5"/><stop offset="0.52" stop-color="#00ff9f"/><stop offset="0.55" stop-color="#00ff99"/><stop offset="0.58" stop-color="#00ff92"/><stop offset="0.61" stop-color="#00ff89"/><stop offset="0.65" stop-color="#00ff7f"/><stop offset="0.68" stop-color="#00ff72"/><stop offset="0.71" stop-color="#00ff61"/><stop offset="0.74" stop-color="#00ff49"/><stop offset="0.77" stop-color="#00ff11"/><stop offset="0.81" stop-color="#45ff00"/><stop offset="0.84" stop-color="#63ff00"/><stop offset="0.87" stop-color="#79ff00"/><stop offset="0.9" stop-color="#8bff00"/><stop offset="0.94" stop-color="#9aff00"/><stop offset="0.97" stop-color="#a8ff00"/><stop offset="1" stop-color="#acff00"/></linearGradient><linearGradient id="r33" gradientUnits="userSpaceOnUse" x1="302" y1="0" x2="396" y2="0"><stop offset="0" stop-color="#00ffcd"/><stop offset="0.03" stop-color="#00ffcd"/><stop offset="0.06" stop-color="#00ffcb"/><stop offset="0.09" stop-color="#00ffc9"/><stop offset="0.12" stop-color="#00ffc8"/><stop offset="0.16" stop-color="#00ffc6"/><stop offset="0.19" stop-color="#00ffc4"/><stop offset="0.22" stop-color="#00ffc1"/><stop offset="0.25" stop-color="#00ffbf"/><stop offset="0.28" stop-color="#00ffbc"/><stop offset="0.31" stop-color="#00ffba"/><stop offset="0.34" stop-color="#00ffb7"/><stop offset="0.38" stop-color="#00ffb3"/><stop offset="0.41" stop-color="#00ffaf"/><stop offset="0.44" stop-color="#00ffab"/><stop offset="0.47" stop-color="#00ffa7"/><stop offset="0.5" stop-color="#00ffa1"/><stop offset="0.53" stop-color="#00ff9b"/><stop offset="0.56" stop-color="#00ff94"/><stop offset="0.59" stop-color="#00ff8c"/><stop offset="0.62" stop-color="#00ff83"/><stop offset="0.66" stop-color="#00ff77"/><stop offset="0.69" stop-color="#00ff67"/><stop offset="0.72" stop-color="#00ff51"/><stop offset="0.75" stop-color="#00ff2a"/><stop offset="0.78" stop-color="#3aff00"/><stop offset="0.81" stop-color="#5dff00"/><stop offset="0.84" stop-color="#74ff00"/><stop offset="0.88" stop-color="#87ff00"/><stop offset="0.91" stop-color="#97ff00"/><stop offset="0.94" stop-color="#a5ff00"/><stop offset="0.97" stop-color="#b2ff00"/><stop offset="1" stop-color="#b5ff00"/></linearGradient><linearGradient id="r34" gradientUnits="userSpaceOnUse" x1="302" y1="0" x2="397" y2="0"><stop offset="0" stop-color="#00ffce"/><stop offset="0.03" stop-color="#00ffce"/><stop offset="0.06" stop-color="#00ffcc"/><stop offset="0.09" stop-color="#00ffca"/><stop offset="0.12" stop-color="#00ffc9"/><stop offset="0.16" stop-color="#00ffc7"/><stop offset="0.19" stop-color="#00ffc5"/><stop offset="0.22" stop-color="#00ffc2"/><stop offset="0.25" stop-color="#00ffc0"/><stop offset="0.28" stop-color="#00ffbd"/><stop offset="0.31" stop-color="#00ffba"/><stop offset="0.34" stop-color="#00ffb7"/><stop offset="0.38" stop-color="#00ffb4"/><stop offset="0.41" stop-color="#00ffb0"/><stop offset="0.44" stop-color="#00ffac"/><stop offset="0.47" stop-color="#00ffa7"/><stop offset="0.5" stop-color="#00ffa2"/><stop offset="0.53" stop-color="#00ff9b"/><stop offset="0.56" stop-color="#00ff94"/><stop offset="0.59" stop-color="#00ff8c"/><stop offset="0.62" stop-color="#00ff82"/><stop offset="0.66" stop-color="#00ff75"/><stop offset="0.69" stop-color="#00ff64"/><stop offset="0.72" stop-color="#00ff4c"/><stop offset="0.75" stop-color="#00ff18"/><stop offset="0.78" stop-color="#45ff00"/><stop offset="0.81" stop-color="#65ff00"/><stop offset="0.84" stop-color="#7bff00"/><stop offset="0.88" stop-color="#8dff00"/><stop offset="0.91" stop-color="#9dff00"/><stop offset="0.94" stop-color="#abff00"/><stop offset="0.97" stop-color="#b7ff00"/><stop offset="1" stop-color="#bdff00"/></linearGradient><linearGradient id="r35" gradientUnits="userSpaceOnUse" x1="302" y1="0" x2="399" y2="0"><stop offset="0" stop-color="#00ffcf"/><stop offset="0.03" stop-color="#00ffcf"/><stop offset="0.06" stop-color="#00ffcd"/><stop offset="0.09" stop-color="#00ffcb"/><stop offset="0.12" stop-color="#00ffca"/><stop offset="0.15" stop-color="#00ffc8"/><stop offset="0.18" stop-color="#00ffc6"/><stop offset="0.21" stop-color="#00ffc4"/><stop offset="0.24" stop-color="#00ffc1"/><stop offset="0.27" stop-color="#00ffbf"/><stop offset="0.3" stop-color="#00ffbc"/><stop offset="0.33" stop-color="#00ffb9"/><stop offset="0.36" stop-color="#00ffb5"/><stop offset="0.39" stop-color="#00ffb2"/><stop offset="0.42" stop-color="#00ffae"/><stop offset="0.45" stop-color="#00ffa9"/><stop offset="0.48" stop-color="#00ffa4"/><stop offset="0.52" stop-color="#00ff9e"/><stop offset="0.55" stop-color="#00ff97"/><stop offset="0.58" stop-color="#00ff8f"/><stop offset="0.61" stop-color="#00ff85"/><stop offset="0.64" stop-color="#00ff79"/><stop offset="0.67" stop-color="#00ff6a"/><stop offset="0.7" stop-color="#00ff54"/><stop offset="0.73" stop-color="#00ff2e"/><stop offset="0.76" stop-color="#3aff00"/><stop offset="0.79" stop-color="#5eff00"/><stop offset="0.82" stop-color="#76ff00"/><stop offset="0.85" stop-color="#8aff00"/><stop offset="0.88" stop-color="#9aff00"/><stop offset="0.91" stop-color="#a8ff00"/><stop offset="0.94" stop-color="#b5ff00"/><stop offset="0.97" stop-color="#c1ff00"/><stop offset="1" stop-color="#c5ff00"/></linearGradient><linearGradient id="r36" gradientUnits="userSpaceOnUse" x1="302" y1="0" x2="401" y2="0"><stop offset="0" stop-color="#00ffd0"/><stop offset="0.03" stop-color="#00ffcf"/><stop offset="0.06" stop-color="#00ffce"/><stop offset="0.09" stop-color="#00ffcc"/><stop offset="0.12" stop-color="#00ffca"/><stop offset="0.15" stop-color="#00ffc9"/><stop offset="0.18" stop-color="#00ffc6"/><stop offset="0.21" stop-color="#00ffc4"/><stop offset="0.24" stop-color="#00ffc2"/><stop offset="0.27" stop-color="#00ffbf"/><stop offset="0.3" stop-color="#00ffbc"/><stop offset="0.33" stop-color="#00ffb9"/><stop offset="0.36" stop-color="#00ffb6"/><stop offset="0.39" stop-color="#00ffb2"/><stop offset="0.42" stop-color="#00ffae"/><stop offset="0.45" stop-color="#00ffa9"/><stop offset="0.48" stop-color="#00ffa3"/><stop offset="0.52" stop-color="#00ff9d"/><stop offset="0.55" stop-color="#00ff96"/><stop offset="0.58" stop-color="#00ff8d"/><stop offset="0.61" stop-color="#00ff82"/><stop offset="0.64" stop-color="#00ff75"/><stop offset="0.67" stop-color="#00ff63"/><stop offset="0.7" stop-color="#00ff48"/><stop offset="0.73" stop-color="#22ff1b"/><stop offset="0.76" stop-color="#4fff00"/><stop offset="0.79" stop-color="#6dff00"/><stop offset="0.82" stop-color="#83ff00"/><stop offset="0.85" stop-color="#95ff00"/><stop offset="0.88" stop-color="#a4ff00"/><stop offset="0.91" stop-color="#b2ff00"/><stop offset="0.94" stop-color="#bfff00"/><stop offset="0.97" stop-color="#caff00"/><stop offset="1" stop-color="#cdff00"/></linearGradient><linearGradient id="r37" gradientUnits="userSpaceOnUse" x1="302" y1="0" x2="402" y2="0"><stop offset="0" stop-color="#00ffd1"/><stop offset="0.03" stop-color="#00ffd0"/><stop offset="0.06" stop-color="#00ffcf"/><stop offset="0.09" stop-color="#00ffcd"/><stop offset="0.12" stop-color="#00ffcc"/><stop offset="0.15" stop-color="#00ffca"/><stop offset="0.18" stop-color="#00ffc8"/><stop offset="0.21" stop-color="#00ffc6"/><stop offset="0.24" stop-color="#00ffc3"/><stop offset="0.26" stop-color="#00ffc1"/><stop offset="0.29" stop-color="#00ffbe"/><stop offset="0.32" stop-color="#00ffbb"/><stop offset="0.35" stop-color="#00ffb8"/><stop offset="0.38" stop-color="#00ffb4"/><stop offset="0.41" stop-color="#00ffb0"/><stop offset="0.44" stop-color="#00ffac"/><stop offset="0.47" stop-color="#00ffa6"/><stop offset="0.5" stop-color="#00ffa1"/><stop offset="0.53" stop-color="#00ff9a"/><stop offset="0.56" stop-color="#00ff92"/><stop offset="0.59" stop-color="#00ff88"/><stop offset="0.62" stop-color="#00ff7c"/><stop offset="0.65" stop-color="#00ff6d"/><stop offset="0.68" stop-color="#00ff57"/><stop offset="0.71" stop-color="#00ff31"/><stop offset="0.74" stop-color="#42ff1f"/><stop offset="0.76" stop-color="#5fff00"/><stop offset="0.79" stop-color="#79ff00"/><stop offset="0.82" stop-color="#8cff00"/><stop offset="0.85" stop-color="#9dff00"/><stop offset="0.88" stop-color="#acff00"/><stop offset="0.91" stop-color="#b9ff00"/><stop offset="0.94" stop-color="#c5ff00"/><stop offset="0.97" stop-color="#d0ff00"/><stop offset="1" stop-color="#d5ff00"/></linearGradient><linearGradient id="r38" gradientUnits="userSpaceOnUse" x1="302" y1="0" x2="404" y2="0"><stop offset="0" stop-color="#00ffd2"/><stop offset="0.03" stop-color="#00ffd1"/><stop offset="0.06" stop-color="#00ffd0"/><stop offset="0.09" stop-color="#00ffce"/><stop offset="0.12" stop-color="#00ffcc"/><stop offset="0.15" stop-color="#00ffcb"/><stop offset="0.18" stop-color="#00ffc9"/><stop offset="0.21" stop-color="#00ffc6"/><stop offset="0.24" stop-color="#00ffc4"/><stop offset="0.26" stop-color="#00ffc2"/><stop offset="0.29" stop-color="#00ffbf"/><stop offset="0.32" stop-color="#00ffbc"/><stop offset="0.35" stop-color="#00ffb8"/><stop offset="0.38" stop-color="#00ffb4"/><stop offset="0.41" stop-color="#00ffb0"/><stop offset="0.44" stop-color="#00ffac"/><stop offset="0.47" stop-color="#00ffa6"/><stop offset="0.5" stop-color="#00ffa0"/><stop offset="0.53" stop-color="#00ff99"/><stop offset="0.56" stop-color="#00ff90"/><stop offset="0.59" stop-color="#00ff85"/><stop offset="0.62" stop-color="#00ff78"/><stop offset="0.65" stop-color="#00ff66"/><stop offset="0.68" stop-color="#00ff4b"/><stop offset="0.71" stop-color="#34ff33"/><stop offset="0.74" stop-color="#57ff24"/><stop offset="0.76" stop-color="#6eff04"/><stop offset="0.79" stop-color="#85ff00"/><stop offset="0.82" stop-color="#97ff00"/><stop offset="0.85" stop-color="#a7ff00"/><stop offset="0.88" stop-color="#b6ff00"/><stop offset="0.91" stop-color="#c3ff00"/><stop offset="0.94" stop-color="#cfff00"/><stop offset="0.97" stop-color="#daff00"/><stop offset="1" stop-color="#ddff00"/></linearGradient><linearGradient id="r39" gradientUnits="userSpaceOnUse" x1="302" y1="0" x2="405" y2="0"><stop offset="0" stop-color="#00ffd3"/><stop offset="0.03" stop-color="#00ffd2"/><stop offset="0.06" stop-color="#00ffd1"/><stop offset="0.09" stop-color="#00ffcf"/><stop offset="0.11" stop-color="#00ffce"/><stop offset="0.14" stop-color="#00ffcc"/><stop offset="0.17" stop-color="#00ffca"/><stop offset="0.2" stop-color="#00ffc8"/><stop offset="0.23" stop-color="#00ffc6"/><stop offset="0.26" stop-color="#00ffc3"/><stop offset="0.29" stop-color="#00ffc0"/><stop offset="0.31" stop-color="#00ffbe"/><stop offset="0.34" stop-color="#00ffba"/><stop offset="0.37" stop-color="#00ffb7"/><stop offset="0.4" stop-color="#00ffb3"/><stop offset="0.43" stop-color="#00ffae"/><stop offset="0.46" stop-color="#00ffa9"/><stop offset="0.49" stop-color="#00ffa3"/><stop offset="0.51" stop-color="#00ff9d"/><stop offset="0.54" stop-color="#00ff95"/><stop offset="0.57" stop-color="#00ff8b"/><stop offset="0.6" stop-color="#00ff7f"/><stop offset="0.63" stop-color="#00ff70"/><stop offset="0.66" stop-color="#00ff5a"/><stop offset="0.69" stop-color="#22ff40"/><stop offset="0.71" stop-color="#4eff35"/><stop offset="0.74" stop-color="#68ff27"/><stop offset="0.77" stop-color="#7cff0e"/><stop offset="0.8" stop-color="#8fff00"/><stop offset="0.83" stop-color="#a0ff00"/><stop offset="0.86" stop-color="#b0ff00"/><stop offset="0.89" stop-color="#bdff00"/><stop offset="0.91" stop-color="#caff00"/><stop offset="0.94" stop-color="#d5ff00"/><stop offset="0.97" stop-color="#e0ff00"/><stop offset="1" stop-color="#e6ff00"/></linearGradient><linearGradient id="r40" gradientUnits="userSpaceOnUse" x1="302" y1="0" x2="407" y2="0"><stop offset="0" stop-color="#00ffd4"/><stop offset="0.03" stop-color="#00ffd3"/><stop offset="0.06" stop-color="#00ffd2"/><stop offset="0.09" stop-color="#00ffd0"/><stop offset="0.11" stop-color="#00ffcf"/><stop offset="0.14" stop-color="#00ffcd"/><stop offset="0.17" stop-color="#00ffcb"/><stop offset="0.2" stop-color="#00ffc9"/><stop offset="0.23" stop-color="#00ffc6"/><stop offset="0.26" stop-color="#00ffc4"/><stop offset="0.29" stop-color="#00ffc1"/><stop offset="0.31" stop-color="#00ffbe"/><stop offset="0.34" stop-color="#00ffbb"/><stop offset="0.37" stop-color="#00ffb7"/><stop offset="0.4" stop-color="#00ffb3"/><stop offset="0.43" stop-color="#00ffae"/><stop offset="0.46" stop-color="#00ffa9"/><stop offset="0.49" stop-color="#00ffa3"/><stop offset="0.51" stop-color="#00ff9c"/><stop offset="0.54" stop-color="#00ff93"/><stop offset="0.57" stop-color="#00ff88"/><stop offset="0.6" stop-color="#00ff7b"/><stop offset="0.63" stop-color="#00ff69"/><stop offset="0.66" stop-color="#00ff4f"/><stop offset="0.69" stop-color="#41ff43"/><stop offset="0.71" stop-color="#60ff39"/><stop offset="0.74" stop-color="#76ff2b"/><stop offset="0.77" stop-color="#89ff15"/><stop offset="0.8" stop-color="#9aff00"/><stop offset="0.83" stop-color="#abff00"/><stop offset="0.86" stop-color="#baff00"/><stop offset="0.89" stop-color="#c7ff00"/><stop offset="0.91" stop-color="#d3ff00"/><stop offset="0.94" stop-color="#dfff00"/><stop offset="0.97" stop-color="#e9ff00"/><stop offset="1" stop-color="#eeff00"/></linearGradient><linearGradient id="r41" gradientUnits="userSpaceOnUse" x1="302" y1="0" x2="409" y2="0"><stop offset="0" stop-color="#00ffd5"/><stop offset="0.03" stop-color="#00ffd4"/><stop offset="0.06" stop-color="#00ffd3"/><stop offset="0.08" stop-color="#00ffd1"/><stop offset="0.11" stop-color="#00ffd0"/><stop offset="0.14" stop-color="#00ffce"/><stop offset="0.17" stop-color="#00ffcc"/><stop offset="0.19" stop-color="#00ffca"/><stop offset="0.22" stop-color="#00ffc8"/><stop offset="0.25" stop-color="#00ffc5"/><stop offset="0.28" stop-color="#00ffc3"/><stop offset="0.31" stop-color="#00ffc0"/><stop offset="0.33" stop-color="#00ffbd"/><stop offset="0.36" stop-color="#00ffb9"/><stop offset="0.39" stop-color="#00ffb5"/><stop offset="0.42" stop-color="#00ffb0"/><stop offset="0.44" stop-color="#00ffab"/><stop offset="0.47" stop-color="#00ffa5"/><stop offset="0.5" stop-color="#00ff9e"/><stop offset="0.53" stop-color="#00ff96"/><stop offset="0.56" stop-color="#00ff8c"/><stop offset="0.58" stop-color="#00ff80"/><stop offset="0.61" stop-color="#00ff6f"/><stop offset="0.64" stop-color="#00ff58"/><stop offset="0.67" stop-color="#3fff4c"/><stop offset="0.69" stop-color="#5eff43"/><stop offset="0.72" stop-color="#75ff39"/><stop offset="0.75" stop-color="#88ff2b"/><stop offset="0.78" stop-color="#98ff13"/><stop offset="0.81" stop-color="#a9ff00"/><stop offset="0.83" stop-color="#b8ff00"/><stop offset="0.86" stop-color="#c6ff00"/><stop offset="0.89" stop-color="#d2ff00"/><stop offset="0.92" stop-color="#deff00"/><stop offset="0.94" stop-color="#e9ff00"/><stop offset="0.97" stop-color="#f3ff00"/><stop offset="1" stop-color="#f6ff00"/></linearGradient><linearGradient id="r42" gradientUnits="userSpaceOnUse" x1="303" y1="0" x2="410" y2="0"><stop offset="0" stop-color="#00ffd5"/><stop offset="0.03" stop-color="#00ffd5"/><stop offset="0.06" stop-color="#00ffd3"/><stop offset="0.08" stop-color="#00ffd2"/><stop offset="0.11" stop-color="#00ffd0"/><stop offset="0.14" stop-color="#00ffce"/><stop offset="0.17" stop-color="#00ffcc"/><stop offset="0.19" stop-color="#00ffca"/><stop offset="0.22" stop-color="#00ffc8"/><stop offset="0.25" stop-color="#00ffc6"/><stop offset="0.28" stop-color="#00ffc3"/><stop offset="0.31" stop-color="#00ffc0"/><stop offset="0.33" stop-color="#00ffbd"/><stop offset="0.36" stop-color="#00ffb9"/><stop offset="0.39" stop-color="#00ffb5"/><stop offset="0.42" stop-color="#00ffb0"/><stop offset="0.44" stop-color="#00ffab"/><stop offset="0.47" stop-color="#00ffa5"/><stop offset="0.5" stop-color="#00ff9d"/><stop offset="0.53" stop-color="#00ff95"/><stop offset="0.56" stop-color="#00ff8a"/><stop offset="0.58" stop-color="#00ff7d"/><stop offset="0.61" stop-color="#00ff6a"/><stop offset="0.64" stop-color="#25ff57"/><stop offset="0.67" stop-color="#51ff4f"/><stop offset="0.69" stop-color="#6bff47"/><stop offset="0.72" stop-color="#7fff3d"/><stop offset="0.75" stop-color="#91ff31"/><stop offset="0.78" stop-color="#a1ff1e"/><stop offset="0.81" stop-color="#b0ff00"/><stop offset="0.83" stop-color="#bfff00"/><stop offset="0.86" stop-color="#ccff00"/><stop offset="0.89" stop-color="#d9ff00"/><stop offset="0.92" stop-color="#e4ff00"/><stop offset="0.94" stop-color="#efff00"/><stop offset="0.97" stop-color="#faff00"/><stop offset="1" stop-color="#ffff00"/></linearGradient><linearGradient id="r43" gradientUnits="userSpaceOnUse" x1="303" y1="0" x2="412" y2="0"><stop offset="0" stop-color="#00ffd6"/><stop offset="0.03" stop-color="#00ffd6"/><stop offset="0.05" stop-color="#00ffd4"/><stop offset="0.08" stop-color="#00ffd3"/><stop offset="0.11" stop-color="#00ffd1"/><stop offset="0.14" stop-color="#00ffd0"/><stop offset="0.16" stop-color="#00ffce"/><stop offset="0.19" stop-color="#00ffcc"/><stop offset="0.22" stop-color="#00ffca"/><stop offset="0.24" stop-color="#00ffc7"/><stop offset="0.27" stop-color="#00ffc5"/><stop offset="0.3" stop-color="#00ffc2"/><stop offset="0.32" stop-color="#00ffbe"/><stop offset="0.35" stop-color="#00ffbb"/><stop offset="0.38" stop-color="#00ffb7"/><stop offset="0.41" stop-color="#00ffb2"/><stop offset="0.43" stop-color="#00ffad"/><stop offset="0.46" stop-color="#00ffa7"/><stop offset="0.49" stop-color="#00ffa0"/><stop offset="0.51" stop-color="#00ff98"/><stop offset="0.54" stop-color="#00ff8e"/><stop offset="0.57" stop-color="#00ff81"/><stop offset="0.59" stop-color="#00ff70"/><stop offset="0.62" stop-color="#22ff5d"/><stop offset="0.65" stop-color="#4fff57"/><stop offset="0.68" stop-color="#6aff50"/><stop offset="0.7" stop-color="#7fff48"/><stop offset="0.73" stop-color="#91ff3e"/><stop offset="0.76" stop-color="#a1ff31"/><stop offset="0.78" stop-color="#afff1d"/><stop offset="0.81" stop-color="#bdff00"/><stop offset="0.84" stop-color="#cbff00"/><stop offset="0.86" stop-color="#d8ff00"/><stop offset="0.89" stop-color="#e4ff00"/><stop offset="0.92" stop-color="#efff00"/><stop offset="0.95" stop-color="#faff00"/><stop offset="0.97" stop-color="#fffb00"/><stop offset="1" stop-color="#fff700"/></linearGradient><linearGradient id="r44" gradientUnits="userSpaceOnUse" x1="303" y1="0" x2="414" y2="0"><stop offset="0" stop-color="#00ffd7"/><stop offset="0.03" stop-color="#00ffd7"/><stop offset="0.05" stop-color="#00ffd5"/><stop offset="0.08" stop-color="#00ffd4"/><stop offset="0.11" stop-color="#00ffd2"/><stop offset="0.14" stop-color="#00ffd1"/><stop offset="0.16" stop-color="#00ffcf"/><stop offset="0.19" stop-color="#00ffcd"/><stop offset="0.22" stop-color="#00ffca"/><stop offset="0.24" stop-color="#00ffc8"/><stop offset="0.27" stop-color="#00ffc5"/><stop offset="0.3" stop-color="#00ffc2"/><stop offset="0.32" stop-color="#00ffbf"/><stop offset="0.35" stop-color="#00ffbb"/><stop offset="0.38" stop-color="#00ffb7"/><stop offset="0.41" stop-color="#00ffb3"/><stop offset="0.43" stop-color="#00ffad"/><stop offset="0.46" stop-color="#00ffa7"/><stop offset="0.49" stop-color="#00ffa0"/><stop offset="0.51" stop-color="#00ff97"/><stop offset="0.54" stop-color="#00ff8b"/><stop offset="0.57" stop-color="#00ff7d"/><stop offset="0.59" stop-color="#00ff6a"/><stop offset="0.62" stop-color="#41ff60"/><stop offset="0.65" stop-color="#61ff5a"/><stop offset="0.68" stop-color="#78ff53"/><stop offset="0.7" stop-color="#8bff4b"/><stop offset="0.73" stop-color="#9cff41"/><stop offset="0.76" stop-color="#acff34"/><stop offset="0.78" stop-color="#baff22"/><stop offset="0.81" stop-color="#c8ff00"/><stop offset="0.84" stop-color="#d5ff00"/><stop offset="0.86" stop-color="#e2ff00"/><stop offset="0.89" stop-color="#eeff00"/><stop offset="0.92" stop-color="#f9ff00"/><stop offset="0.95" stop-color="#fffb00"/><stop offset="0.97" stop-color="#fff100"/><stop offset="1" stop-color="#ffef00"/></linearGradient><linearGradient id="r45" gradientUnits="userSpaceOnUse" x1="303" y1="0" x2="415" y2="0"><stop offset="0" stop-color="#00ffd8"/><stop offset="0.03" stop-color="#00ffd8"/><stop offset="0.05" stop-color="#00ffd6"/><stop offset="0.08" stop-color="#00ffd5"/><stop offset="0.11" stop-color="#00ffd4"/><stop offset="0.13" stop-color="#00ffd2"/><stop offset="0.16" stop-color="#00ffd0"/><stop offset="0.18" stop-color="#00ffce"/><stop offset="0.21" stop-color="#00ffcc"/><stop offset="0.24" stop-color="#00ffca"/><stop offset="0.26" stop-color="#00ffc7"/><stop offset="0.29" stop-color="#00ffc4"/><stop offset="0.32" stop-color="#00ffc1"/><stop offset="0.34" stop-color="#00ffbe"/><stop offset="0.37" stop-color="#00ffba"/><stop offset="0.39" stop-color="#00ffb5"/><stop offset="0.42" stop-color="#00ffb0"/><stop offset="0.45" stop-color="#00ffab"/><stop offset="0.47" stop-color="#00ffa4"/><stop offset="0.5" stop-color="#00ff9c"/><stop offset="0.53" stop-color="#00ff92"/><stop offset="0.55" stop-color="#00ff85"/><stop offset="0.58" stop-color="#00ff74"/><stop offset="0.61" stop-color="#36ff68"/><stop offset="0.63" stop-color="#5aff62"/><stop offset="0.66" stop-color="#73ff5c"/><stop offset="0.68" stop-color="#87ff55"/><stop offset="0.71" stop-color="#98ff4d"/><stop offset="0.74" stop-color="#a8ff44"/><stop offset="0.76" stop-color="#b6ff38"/><stop offset="0.79" stop-color="#c4ff27"/><stop offset="0.82" stop-color="#d1ff03"/><stop offset="0.84" stop-color="#deff00"/><stop offset="0.87" stop-color="#eaff00"/><stop offset="0.89" stop-color="#f6ff00"/><stop offset="0.92" stop-color="#fffe00"/><stop offset="0.95" stop-color="#fff400"/><stop offset="0.97" stop-color="#ffeb00"/><stop offset="1" stop-color="#ffe700"/></linearGradient><linearGradient id="r46" gradientUnits="userSpaceOnUse" x1="303" y1="0" x2="417" y2="0"><stop offset="0" stop-color="#00ffd9"/><stop offset="0.03" stop-color="#00ffd9"/><stop offset="0.05" stop-color="#00ffd8"/><stop offset="0.08" stop-color="#00ffd6"/><stop offset="0.11" stop-color="#00ffd5"/><stop offset="0.13" stop-color="#00ffd3"/><stop offset="0.16" stop-color="#00ffd1"/><stop offset="0.18" stop-color="#00ffcf"/><stop offset="0.21" stop-color="#00ffcd"/><stop offset="0.24" stop-color="#00ffcb"/><stop offset="0.26" stop-color="#00ffc8"/><stop offset="0.29" stop-color="#00ffc5"/><stop offset="0.32" stop-color="#00ffc2"/><stop offset="0.34" stop-color="#00ffbe"/><stop offset="0.37" stop-color="#00ffba"/><stop offset="0.39" stop-color="#00ffb6"/><stop offset="0.42" stop-color="#00ffb1"/><stop offset="0.45" stop-color="#00ffaa"/><stop offset="0.47" stop-color="#00ffa3"/><stop offset="0.5" stop-color="#00ff9a"/><stop offset="0.53" stop-color="#00ff8f"/><stop offset="0.55" stop-color="#00ff81"/><stop offset="0.58" stop-color="#15ff70"/><stop offset="0.61" stop-color="#4dff6b"/><stop offset="0.63" stop-color="#6aff65"/><stop offset="0.66" stop-color="#80ff5f"/><stop offset="0.68" stop-color="#93ff58"/><stop offset="0.71" stop-color="#a3ff50"/><stop offset="0.74" stop-color="#b3ff47"/><stop offset="0.76" stop-color="#c1ff3b"/><stop offset="0.79" stop-color="#ceff2b"/><stop offset="0.82" stop-color="#dbff0c"/><stop offset="0.84" stop-color="#e8ff00"/><stop offset="0.87" stop-color="#f4ff00"/><stop offset="0.89" stop-color="#fffe00"/><stop offset="0.92" stop-color="#fff400"/><stop offset="0.95" stop-color="#ffeb00"/><stop offset="0.97" stop-color="#ffe300"/><stop offset="1" stop-color="#ffe000"/></linearGradient><linearGradient id="r47" gradientUnits="userSpaceOnUse" x1="303" y1="0" x2="419" y2="0"><stop offset="0" stop-color="#00ffda"/><stop offset="0.03" stop-color="#00ffda"/><stop offset="0.05" stop-color="#00ffd9"/><stop offset="0.08" stop-color="#00ffd7"/><stop offset="0.1" stop-color="#00ffd6"/><stop offset="0.13" stop-color="#00ffd4"/><stop offset="0.15" stop-color="#00ffd2"/><stop offset="0.18" stop-color="#00ffd0"/><stop offset="0.21" stop-color="#00ffce"/><stop offset="0.23" stop-color="#00ffcc"/><stop offset="0.26" stop-color="#00ffca"/><stop offset="0.28" stop-color="#00ffc7"/><stop offset="0.31" stop-color="#00ffc4"/><stop offset="0.33" stop-color="#00ffc0"/><stop offset="0.36" stop-color="#00ffbd"/><stop offset="0.38" stop-color="#00ffb8"/><stop offset="0.41" stop-color="#00ffb3"/><stop offset="0.44" stop-color="#00ffad"/><stop offset="0.46" stop-color="#00ffa6"/><stop offset="0.49" stop-color="#00ff9e"/><stop offset="0.51" stop-color="#00ff93"/><stop offset="0.54" stop-color="#00ff86"/><stop offset="0.56" stop-color="#0fff75"/><stop offset="0.59" stop-color="#4cff71"/><stop offset="0.62" stop-color="#69ff6c"/><stop offset="0.64" stop-color="#80ff66"/><stop offset="0.67" stop-color="#92ff60"/><stop offset="0.69" stop-color="#a3ff59"/><stop offset="0.72" stop-color="#b3ff51"/><stop offset="0.74" stop-color="#c1ff47"/><stop offset="0.77" stop-color="#ceff3b"/><stop offset="0.79" stop-color="#dcff2b"/><stop offset="0.82" stop-color="#e8ff09"/><stop offset="0.85" stop-color="#f5ff00"/><stop offset="0.87" stop-color="#fffe00"/><stop offset="0.9" stop-color="#fff300"/><stop offset="0.92" stop-color="#ffea00"/><stop offset="0.95" stop-color="#ffe200"/><stop offset="0.97" stop-color="#ffda00"/><stop offset="1" stop-color="#ffd900"/></linearGradient><linearGradient id="r48" gradientUnits="userSpaceOnUse" x1="303" y1="0" x2="420" y2="0"><stop offset="0" stop-color="#00ffdb"/><stop offset="0.03" stop-color="#00ffdb"/><stop offset="0.05" stop-color="#00ffda"/><stop offset="0.08" stop-color="#00ffd8"/><stop offset="0.1" stop-color="#00ffd7"/><stop offset="0.13" stop-color="#00ffd5"/><stop offset="0.15" stop-color="#00ffd4"/><stop offset="0.18" stop-color="#00ffd2"/><stop offset="0.21" stop-color="#00ffd0"/><stop offset="0.23" stop-color="#00ffcd"/><stop offset="0.26" stop-color="#00ffcb"/><stop offset="0.28" stop-color="#00ffc8"/><stop offset="0.31" stop-color="#00ffc5"/><stop offset="0.33" stop-color="#00ffc2"/><stop offset="0.36" stop-color="#00ffbe"/><stop offset="0.38" stop-color="#00ffb9"/><stop offset="0.41" stop-color="#00ffb4"/><stop offset="0.44" stop-color="#00ffae"/><stop offset="0.46" stop-color="#00ffa7"/><stop offset="0.49" stop-color="#00ff9e"/><stop offset="0.51" stop-color="#00ff93"/><stop offset="0.54" stop-color="#00ff85"/><stop offset="0.56" stop-color="#2fff79"/><stop offset="0.59" stop-color="#58ff75"/><stop offset="0.62" stop-color="#73ff70"/><stop offset="0.64" stop-color="#88ff6a"/><stop offset="0.67" stop-color="#9aff64"/><stop offset="0.69" stop-color="#aaff5e"/><stop offset="0.72" stop-color="#baff56"/><stop offset="0.74" stop-color="#c8ff4d"/><stop offset="0.77" stop-color="#d6ff42"/><stop offset="0.79" stop-color="#e3ff33"/><stop offset="0.82" stop-color="#efff1d"/><stop offset="0.85" stop-color="#fcff00"/><stop offset="0.87" stop-color="#fff700"/><stop offset="0.9" stop-color="#ffed00"/><stop offset="0.92" stop-color="#ffe400"/><stop offset="0.95" stop-color="#ffdc00"/><stop offset="0.97" stop-color="#ffd500"/><stop offset="1" stop-color="#ffd200"/></linearGradient><linearGradient id="r49" gradientUnits="userSpaceOnUse" x1="304" y1="0" x2="422" y2="0"><stop offset="0" stop-color="#00ffdc"/><stop offset="0.03" stop-color="#00ffdc"/><stop offset="0.05" stop-color="#00ffda"/><stop offset="0.07" stop-color="#00ffd9"/><stop offset="0.1" stop-color="#00ffd8"/><stop offset="0.12" stop-color="#00ffd6"/><stop offset="0.15" stop-color="#00ffd4"/><stop offset="0.17" stop-color="#00ffd3"/><stop offset="0.2" stop-color="#00ffd1"/><stop offset="0.23" stop-color="#00ffce"/><stop offset="0.25" stop-color="#00ffcc"/><stop offset="0.28" stop-color="#00ffc9"/><stop offset="0.3" stop-color="#00ffc6"/><stop offset="0.33" stop-color="#00ffc3"/><stop offset="0.35" stop-color="#00ffbf"/><stop offset="0.38" stop-color="#00ffbb"/><stop offset="0.4" stop-color="#00ffb5"/><stop offset="0.42" stop-color="#00ffb0"/><stop offset="0.45" stop-color="#00ffa9"/><stop offset="0.47" stop-color="#00ffa0"/><stop offset="0.5" stop-color="#00ff95"/><stop offset="0.53" stop-color="#00ff88"/><stop offset="0.55" stop-color="#36ff7e"/><stop offset="0.57" stop-color="#5cff7a"/><stop offset="0.6" stop-color="#75ff75"/><stop offset="0.62" stop-color="#8aff70"/><stop offset="0.65" stop-color="#9cff6b"/><stop offset="0.68" stop-color="#acff65"/><stop offset="0.7" stop-color="#bbff5e"/><stop offset="0.72" stop-color="#caff56"/><stop offset="0.75" stop-color="#d7ff4d"/><stop offset="0.78" stop-color="#e4ff41"/><stop offset="0.8" stop-color="#f1ff32"/><stop offset="0.82" stop-color="#fdff1a"/><stop offset="0.85" stop-color="#fff500"/><stop offset="0.88" stop-color="#ffeb00"/><stop offset="0.9" stop-color="#ffe200"/><stop offset="0.93" stop-color="#ffda00"/><stop offset="0.95" stop-color="#ffd300"/><stop offset="0.97" stop-color="#ffcd00"/><stop offset="1" stop-color="#ffcb00"/></linearGradient><linearGradient id="r50" gradientUnits="userSpaceOnUse" x1="304" y1="0" x2="423" y2="0"><stop offset="0" stop-color="#00ffdd"/><stop offset="0.03" stop-color="#00ffdd"/><stop offset="0.05" stop-color="#00ffdc"/><stop offset="0.07" stop-color="#00ffda"/><stop offset="0.1" stop-color="#00ffd9"/><stop offset="0.12" stop-color="#00ffd7"/><stop offset="0.15" stop-color="#00ffd6"/><stop offset="0.17" stop-color="#00ffd4"/><stop offset="0.2" stop-color="#00ffd2"/><stop offset="0.23" stop-color="#00ffd0"/><stop offset="0.25" stop-color="#00ffcd"/><stop offset="0.28" stop-color="#00ffca"/><stop offset="0.3" stop-color="#00ffc7"/><stop offset="0.33" stop-color="#00ffc4"/><stop offset="0.35" stop-color="#00ffc0"/><stop offset="0.38" stop-color="#00ffbc"/><stop offset="0.4" stop-color="#00ffb7"/><stop offset="0.42" stop-color="#00ffb1"/><stop offset="0.45" stop-color="#00ffa9"/><stop offset="0.47" stop-color="#00ffa1"/><stop offset="0.5" stop-color="#00ff96"/><stop offset="0.53" stop-color="#00ff87"/><stop offset="0.55" stop-color="#46ff82"/><stop offset="0.57" stop-color="#66ff7e"/><stop offset="0.6" stop-color="#7eff79"/><stop offset="0.62" stop-color="#92ff74"/><stop offset="0.65" stop-color="#a4ff6f"/><stop offset="0.68" stop-color="#b4ff69"/><stop offset="0.7" stop-color="#c3ff63"/><stop offset="0.72" stop-color="#d1ff5b"/><stop offset="0.75" stop-color="#deff52"/><stop offset="0.78" stop-color="#ebff48"/><stop offset="0.8" stop-color="#f8ff3a"/><stop offset="0.82" stop-color="#fffa26"/><stop offset="0.85" stop-color="#ffee00"/><stop offset="0.88" stop-color="#ffe500"/><stop offset="0.9" stop-color="#ffdc00"/><stop offset="0.93" stop-color="#ffd500"/><stop offset="0.95" stop-color="#ffce00"/><stop offset="0.97" stop-color="#ffc800"/><stop offset="1" stop-color="#ffc500"/></linearGradient><linearGradient id="r51" gradientUnits="userSpaceOnUse" x1="304" y1="0" x2="425" y2="0"><stop offset="0" stop-color="#00ffde"/><stop offset="0.02" stop-color="#00ffde"/><stop offset="0.05" stop-color="#00ffdd"/><stop offset="0.07" stop-color="#00ffdb"/><stop offset="0.1" stop-color="#00ffda"/><stop offset="0.12" stop-color="#00ffd9"/><stop offset="0.15" stop-color="#00ffd7"/><stop offset="0.17" stop-color="#00ffd5"/><stop offset="0.2" stop-color="#00ffd3"/><stop offset="0.22" stop-color="#00ffd1"/><stop offset="0.24" stop-color="#00ffcf"/><stop offset="0.27" stop-color="#00ffcc"/><stop offset="0.29" stop-color="#00ffc9"/><stop offset="0.32" stop-color="#00ffc6"/><stop offset="0.34" stop-color="#00ffc2"/><stop offset="0.37" stop-color="#00ffbe"/><stop offset="0.39" stop-color="#00ffb9"/><stop offset="0.41" stop-color="#00ffb3"/><stop offset="0.44" stop-color="#00ffad"/><stop offset="0.46" stop-color="#00ffa4"/><stop offset="0.49" stop-color="#00ff9a"/><stop offset="0.51" stop-color="#00ff8c"/><stop offset="0.54" stop-color="#45ff87"/><stop offset="0.56" stop-color="#66ff83"/><stop offset="0.59" stop-color="#7eff7f"/><stop offset="0.61" stop-color="#92ff7b"/><stop offset="0.63" stop-color="#a4ff76"/><stop offset="0.66" stop-color="#b4ff70"/><stop offset="0.68" stop-color="#c3ff6a"/><stop offset="0.71" stop-color="#d1ff64"/><stop offset="0.73" stop-color="#dfff5c"/><stop offset="0.76" stop-color="#ecff53"/><stop offset="0.78" stop-color="#f9ff48"/><stop offset="0.8" stop-color="#fff939"/><stop offset="0.83" stop-color="#ffed23"/><stop offset="0.85" stop-color="#ffe300"/><stop offset="0.88" stop-color="#ffdb00"/><stop offset="0.9" stop-color="#ffd300"/><stop offset="0.93" stop-color="#ffcc00"/><stop offset="0.95" stop-color="#ffc600"/><stop offset="0.98" stop-color="#ffc000"/><stop offset="1" stop-color="#ffbe00"/></linearGradient><linearGradient id="r52" gradientUnits="userSpaceOnUse" x1="304" y1="0" x2="427" y2="0"><stop offset="0" stop-color="#00ffe0"/><stop offset="0.02" stop-color="#00ffdf"/><stop offset="0.05" stop-color="#00ffde"/><stop offset="0.07" stop-color="#00ffdd"/><stop offset="0.1" stop-color="#00ffdb"/><stop offset="0.12" stop-color="#00ffda"/><stop offset="0.15" stop-color="#00ffd8"/><stop offset="0.17" stop-color="#00ffd6"/><stop offset="0.2" stop-color="#00ffd4"/><stop offset="0.22" stop-color="#00ffd2"/><stop offset="0.24" stop-color="#00ffd0"/><stop offset="0.27" stop-color="#00ffcd"/><stop offset="0.29" stop-color="#00ffca"/><stop offset="0.32" stop-color="#00ffc7"/><stop offset="0.34" stop-color="#00ffc3"/><stop offset="0.37" stop-color="#00ffbf"/><stop offset="0.39" stop-color="#00ffba"/><stop offset="0.41" stop-color="#00ffb4"/><stop offset="0.44" stop-color="#00ffac"/><stop offset="0.46" stop-color="#00ffa4"/><stop offset="0.49" stop-color="#00ff98"/><stop offset="0.51" stop-color="#2cff8e"/><stop offset="0.54" stop-color="#59ff8a"/><stop offset="0.56" stop-color="#74ff86"/><stop offset="0.59" stop-color="#8bff82"/><stop offset="0.61" stop-color="#9eff7e"/><stop offset="0.63" stop-color="#afff79"/><stop offset="0.66" stop-color="#bfff74"/><stop offset="0.68" stop-color="#ceff6e"/><stop offset="0.71" stop-color="#dcff67"/><stop offset="0.73" stop-color="#e9ff5f"/><stop offset="0.76" stop-color="#f7ff57"/><stop offset="0.78" stop-color="#fffa4a"/><stop offset="0.8" stop-color="#ffef3a"/><stop offset="0.83" stop-color="#ffe425"/><stop offset="0.85" stop-color="#ffda00"/><stop offset="0.88" stop-color="#ffd200"/><stop offset="0.9" stop-color="#ffcb00"/><stop offset="0.93" stop-color="#ffc400"/><stop offset="0.95" stop-color="#ffbf00"/><stop offset="0.98" stop-color="#ffb900"/><stop offset="1" stop-color="#ffb800"/></linearGradient><linearGradient id="r53" gradientUnits="userSpaceOnUse" x1="304" y1="0" x2="428" y2="0"><stop offset="0" stop-color="#00ffe1"/><stop offset="0.02" stop-color="#00ffe0"/><stop offset="0.05" stop-color="#00ffdf"/><stop offset="0.07" stop-color="#00ffde"/><stop offset="0.1" stop-color="#00ffdd"/><stop offset="0.12" stop-color="#00ffdb"/><stop offset="0.14" stop-color="#00ffda"/><stop offset="0.17" stop-color="#00ffd8"/><stop offset="0.19" stop-color="#00ffd6"/><stop offset="0.21" stop-color="#00ffd4"/><stop offset="0.24" stop-color="#00ffd2"/><stop offset="0.26" stop-color="#00ffcf"/><stop offset="0.29" stop-color="#00ffcd"/><stop offset="0.31" stop-color="#00ffca"/><stop offset="0.33" stop-color="#00ffc6"/><stop offset="0.36" stop-color="#00ffc2"/><stop offset="0.38" stop-color="#00ffbd"/><stop offset="0.4" stop-color="#00ffb8"/><stop offset="0.43" stop-color="#00ffb1"/><stop offset="0.45" stop-color="#00ffa9"/><stop offset="0.48" stop-color="#00ff9f"/><stop offset="0.5" stop-color="#1cff93"/><stop offset="0.52" stop-color="#53ff90"/><stop offset="0.55" stop-color="#70ff8c"/><stop offset="0.57" stop-color="#87ff89"/><stop offset="0.6" stop-color="#9aff85"/><stop offset="0.62" stop-color="#acff80"/><stop offset="0.64" stop-color="#bcff7c"/><stop offset="0.67" stop-color="#cbff76"/><stop offset="0.69" stop-color="#d9ff71"/><stop offset="0.71" stop-color="#e7ff6a"/><stop offset="0.74" stop-color="#f4ff63"/><stop offset="0.76" stop-color="#fffd59"/><stop offset="0.79" stop-color="#fff14b"/><stop offset="0.81" stop-color="#ffe63b"/><stop offset="0.83" stop-color="#ffdc29"/><stop offset="0.86" stop-color="#ffd30a"/><stop offset="0.88" stop-color="#ffcb00"/><stop offset="0.9" stop-color="#ffc400"/><stop offset="0.93" stop-color="#ffbe00"/><stop offset="0.95" stop-color="#ffb900"/><stop offset="0.98" stop-color="#ffb400"/><stop offset="1" stop-color="#ffb200"/></linearGradient><linearGradient id="r54" gradientUnits="userSpaceOnUse" x1="305" y1="0" x2="430" y2="0"><stop offset="0" stop-color="#00ffe2"/><stop offset="0.02" stop-color="#00ffe1"/><stop offset="0.05" stop-color="#00ffe0"/><stop offset="0.07" stop-color="#00ffdf"/><stop offset="0.1" stop-color="#00ffdd"/><stop offset="0.12" stop-color="#00ffdc"/><stop offset="0.14" stop-color="#00ffda"/><stop offset="0.17" stop-color="#00ffd9"/><stop offset="0.19" stop-color="#00ffd7"/><stop offset="0.21" stop-color="#00ffd5"/><stop offset="0.24" stop-color="#00ffd3"/><stop offset="0.26" stop-color="#00ffd0"/><stop offset="0.29" stop-color="#00ffcd"/><stop offset="0.31" stop-color="#00ffca"/><stop offset="0.33" stop-color="#00ffc6"/><stop offset="0.36" stop-color="#00ffc2"/><stop offset="0.38" stop-color="#00ffbd"/><stop offset="0.4" stop-color="#00ffb7"/><stop offset="0.43" stop-color="#00ffb0"/><stop offset="0.45" stop-color="#00ffa7"/><stop offset="0.48" stop-color="#00ff9b"/><stop offset="0.5" stop-color="#46ff96"/><stop offset="0.52" stop-color="#68ff93"/><stop offset="0.55" stop-color="#81ff8f"/><stop offset="0.57" stop-color="#96ff8c"/><stop offset="0.6" stop-color="#a8ff88"/><stop offset="0.62" stop-color="#b9ff83"/><stop offset="0.64" stop-color="#c8ff7e"/><stop offset="0.67" stop-color="#d7ff79"/><stop offset="0.69" stop-color="#e5ff73"/><stop offset="0.71" stop-color="#f3ff6d"/><stop offset="0.74" stop-color="#fffe65"/><stop offset="0.76" stop-color="#fff157"/><stop offset="0.79" stop-color="#ffe64a"/><stop offset="0.81" stop-color="#ffdc3b"/><stop offset="0.83" stop-color="#ffd229"/><stop offset="0.86" stop-color="#ffca0d"/><stop offset="0.88" stop-color="#ffc300"/><stop offset="0.9" stop-color="#ffbd00"/><stop offset="0.93" stop-color="#ffb700"/><stop offset="0.95" stop-color="#ffb200"/><stop offset="0.98" stop-color="#ffad00"/><stop offset="1" stop-color="#ffac00"/></linearGradient><linearGradient id="r55" gradientUnits="userSpaceOnUse" x1="305" y1="0" x2="432" y2="0"><stop offset="0" stop-color="#00ffe3"/><stop offset="0.02" stop-color="#00ffe2"/><stop offset="0.05" stop-color="#00ffe1"/><stop offset="0.07" stop-color="#00ffe0"/><stop offset="0.09" stop-color="#00ffdf"/><stop offset="0.12" stop-color="#00ffdd"/><stop offset="0.14" stop-color="#00ffdc"/><stop offset="0.16" stop-color="#00ffda"/><stop offset="0.19" stop-color="#00ffd9"/><stop offset="0.21" stop-color="#00ffd7"/><stop offset="0.23" stop-color="#00ffd4"/><stop offset="0.26" stop-color="#00ffd2"/><stop offset="0.28" stop-color="#00ffcf"/><stop offset="0.3" stop-color="#00ffcc"/><stop offset="0.33" stop-color="#00ffc9"/><stop offset="0.35" stop-color="#00ffc4"/><stop offset="0.37" stop-color="#00ffc0"/><stop offset="0.4" stop-color="#00ffba"/><stop offset="0.42" stop-color="#00ffb3"/><stop offset="0.44" stop-color="#00ffaa"/><stop offset="0.47" stop-color="#00ffa0"/><stop offset="0.49" stop-color="#46ff9b"/><stop offset="0.51" stop-color="#68ff98"/><stop offset="0.53" stop-color="#81ff95"/><stop offset="0.56" stop-color="#96ff91"/><stop offset="0.58" stop-color="#a9ff8d"/><stop offset="0.6" stop-color="#baff89"/><stop offset="0.63" stop-color="#c9ff85"/><stop offset="0.65" stop-color="#d8ff80"/><stop offset="0.67" stop-color="#e6ff7b"/><stop offset="0.7" stop-color="#f4ff75"/><stop offset="0.72" stop-color="#fffc6d"/><stop offset="0.74" stop-color="#fff060"/><stop offset="0.77" stop-color="#ffe554"/><stop offset="0.79" stop-color="#ffdb47"/><stop offset="0.81" stop-color="#ffd138"/><stop offset="0.84" stop-color="#ffc927"/><stop offset="0.86" stop-color="#ffc10b"/><stop offset="0.88" stop-color="#ffba00"/><stop offset="0.91" stop-color="#ffb500"/><stop offset="0.93" stop-color="#ffb000"/><stop offset="0.95" stop-color="#ffab00"/><stop offset="0.98" stop-color="#ffa700"/><stop offset="1" stop-color="#ffa600"/></linearGradient><linearGradient id="r56" gradientUnits="userSpaceOnUse" x1="305" y1="0" x2="433" y2="0"><stop offset="0" stop-color="#00ffe4"/><stop offset="0.02" stop-color="#00ffe4"/><stop offset="0.05" stop-color="#00ffe3"/><stop offset="0.07" stop-color="#00ffe1"/><stop offset="0.09" stop-color="#00ffe0"/><stop offset="0.12" stop-color="#00ffdf"/><stop offset="0.14" stop-color="#00ffdd"/><stop offset="0.16" stop-color="#00ffdc"/><stop offset="0.19" stop-color="#00ffda"/><stop offset="0.21" stop-color="#00ffd8"/><stop offset="0.23" stop-color="#00ffd6"/><stop offset="0.26" stop-color="#00ffd4"/><stop offset="0.28" stop-color="#00ffd1"/><stop offset="0.3" stop-color="#00ffce"/><stop offset="0.33" stop-color="#00ffca"/><stop offset="0.35" stop-color="#00ffc6"/><stop offset="0.37" stop-color="#00ffc1"/><stop offset="0.4" stop-color="#00ffbb"/><stop offset="0.42" stop-color="#00ffb4"/><stop offset="0.44" stop-color="#00ffac"/><stop offset="0.47" stop-color="#19ffa2"/><stop offset="0.49" stop-color="#53ff9f"/><stop offset="0.51" stop-color="#72ff9c"/><stop offset="0.53" stop-color="#8aff99"/><stop offset="0.56" stop-color="#9eff95"/><stop offset="0.58" stop-color="#b0ff92"/><stop offset="0.6" stop-color="#c1ff8e"/><stop offset="0.63" stop-color="#d1ff8a"/><stop offset="0.65" stop-color="#e0ff85"/><stop offset="0.67" stop-color="#eeff80"/><stop offset="0.7" stop-color="#fcff7a"/><stop offset="0.72" stop-color="#fff56f"/><stop offset="0.74" stop-color="#ffe963"/><stop offset="0.77" stop-color="#ffde56"/><stop offset="0.79" stop-color="#ffd44a"/><stop offset="0.81" stop-color="#ffcb3d"/><stop offset="0.84" stop-color="#ffc32d"/><stop offset="0.86" stop-color="#ffbb18"/><stop offset="0.88" stop-color="#ffb400"/><stop offset="0.91" stop-color="#ffaf00"/><stop offset="0.93" stop-color="#ffaa00"/><stop offset="0.95" stop-color="#ffa600"/><stop offset="0.98" stop-color="#ffa100"/><stop offset="1" stop-color="#ffa000"/></linearGradient><linearGradient id="r57" gradientUnits="userSpaceOnUse" x1="305" y1="0" x2="435" y2="0"><stop offset="0" stop-color="#00ffe5"/><stop offset="0.02" stop-color="#00ffe5"/><stop offset="0.05" stop-color="#00ffe4"/><stop offset="0.07" stop-color="#00ffe3"/><stop offset="0.09" stop-color="#00ffe2"/><stop offset="0.11" stop-color="#00ffe0"/><stop offset="0.14" stop-color="#00ffdf"/><stop offset="0.16" stop-color="#00ffdd"/><stop offset="0.18" stop-color="#00ffdc"/><stop offset="0.2" stop-color="#00ffda"/><stop offset="0.23" stop-color="#00ffd8"/><stop offset="0.25" stop-color="#00ffd6"/><stop offset="0.27" stop-color="#00ffd3"/><stop offset="0.3" stop-color="#00ffd0"/><stop offset="0.32" stop-color="#00ffcd"/><stop offset="0.34" stop-color="#00ffc9"/><stop offset="0.36" stop-color="#00ffc4"/><stop offset="0.39" stop-color="#00ffbf"/><stop offset="0.41" stop-color="#00ffb8"/><stop offset="0.43" stop-color="#00ffb0"/><stop offset="0.45" stop-color="#19ffa6"/><stop offset="0.48" stop-color="#54ffa4"/><stop offset="0.5" stop-color="#73ffa1"/><stop offset="0.52" stop-color="#8bff9e"/><stop offset="0.55" stop-color="#9fff9b"/><stop offset="0.57" stop-color="#b1ff98"/><stop offset="0.59" stop-color="#c2ff94"/><stop offset="0.61" stop-color="#d2ff90"/><stop offset="0.64" stop-color="#e1ff8c"/><stop offset="0.66" stop-color="#efff87"/><stop offset="0.68" stop-color="#fdff82"/><stop offset="0.7" stop-color="#fff376"/><stop offset="0.73" stop-color="#ffe86a"/><stop offset="0.75" stop-color="#ffdd5f"/><stop offset="0.77" stop-color="#ffd353"/><stop offset="0.8" stop-color="#ffca47"/><stop offset="0.82" stop-color="#ffc23a"/><stop offset="0.84" stop-color="#ffba2b"/><stop offset="0.86" stop-color="#ffb317"/><stop offset="0.89" stop-color="#ffac00"/><stop offset="0.91" stop-color="#ffa700"/><stop offset="0.93" stop-color="#ffa300"/><stop offset="0.95" stop-color="#ff9f00"/><stop offset="0.98" stop-color="#ff9b00"/><stop offset="1" stop-color="#ff9a00"/></linearGradient><linearGradient id="r58" gradientUnits="userSpaceOnUse" x1="305" y1="0" x2="436" y2="0"><stop offset="0" stop-color="#00ffe6"/><stop offset="0.02" stop-color="#00ffe6"/><stop offset="0.05" stop-color="#00ffe5"/><stop offset="0.07" stop-color="#00ffe4"/><stop offset="0.09" stop-color="#00ffe3"/><stop offset="0.11" stop-color="#00ffe2"/><stop offset="0.14" stop-color="#00ffe0"/><stop offset="0.16" stop-color="#00ffdf"/><stop offset="0.18" stop-color="#00ffdd"/><stop offset="0.2" stop-color="#00ffdb"/><stop offset="0.23" stop-color="#00ffd9"/><stop offset="0.25" stop-color="#00ffd7"/><stop offset="0.27" stop-color="#00ffd5"/><stop offset="0.3" stop-color="#00ffd2"/><stop offset="0.32" stop-color="#00ffce"/><stop offset="0.34" stop-color="#00ffcb"/><stop offset="0.36" stop-color="#00ffc6"/><stop offset="0.39" stop-color="#00ffc0"/><stop offset="0.41" stop-color="#00ffba"/><stop offset="0.43" stop-color="#00ffb1"/><stop offset="0.45" stop-color="#34ffaa"/><stop offset="0.48" stop-color="#60ffa8"/><stop offset="0.5" stop-color="#7cffa5"/><stop offset="0.52" stop-color="#93ffa2"/><stop offset="0.55" stop-color="#a7ff9f"/><stop offset="0.57" stop-color="#b9ff9c"/><stop offset="0.59" stop-color="#c9ff99"/><stop offset="0.61" stop-color="#d9ff95"/><stop offset="0.64" stop-color="#e8ff91"/><stop offset="0.66" stop-color="#f7ff8c"/><stop offset="0.68" stop-color="#fff984"/><stop offset="0.7" stop-color="#ffec78"/><stop offset="0.73" stop-color="#ffe16c"/><stop offset="0.75" stop-color="#ffd661"/><stop offset="0.77" stop-color="#ffcd56"/><stop offset="0.8" stop-color="#ffc44a"/><stop offset="0.82" stop-color="#ffbc3e"/><stop offset="0.84" stop-color="#ffb431"/><stop offset="0.86" stop-color="#ffad1f"/><stop offset="0.89" stop-color="#ffa600"/><stop offset="0.91" stop-color="#ffa200"/><stop offset="0.93" stop-color="#ff9d00"/><stop offset="0.95" stop-color="#ff9900"/><stop offset="0.98" stop-color="#ff9600"/><stop offset="1" stop-color="#ff9400"/></linearGradient><linearGradient id="r59" gradientUnits="userSpaceOnUse" x1="306" y1="0" x2="438" y2="0"><stop offset="0" stop-color="#00ffe8"/><stop offset="0.02" stop-color="#00ffe7"/><stop offset="0.05" stop-color="#00ffe6"/><stop offset="0.07" stop-color="#00ffe5"/><stop offset="0.09" stop-color="#00ffe4"/><stop offset="0.11" stop-color="#00ffe3"/><stop offset="0.14" stop-color="#00ffe1"/><stop offset="0.16" stop-color="#00ffe0"/><stop offset="0.18" stop-color="#00ffde"/><stop offset="0.2" stop-color="#00ffdc"/><stop offset="0.23" stop-color="#00ffda"/><stop offset="0.25" stop-color="#00ffd8"/><stop offset="0.27" stop-color="#00ffd6"/><stop offset="0.3" stop-color="#00ffd3"/><stop offset="0.32" stop-color="#00ffcf"/><stop offset="0.34" stop-color="#00ffcb"/><stop offset="0.36" stop-color="#00ffc6"/><stop offset="0.39" stop-color="#00ffc0"/><stop offset="0.41" stop-color="#00ffb9"/><stop offset="0.43" stop-color="#0fffb0"/><stop offset="0.45" stop-color="#54ffae"/><stop offset="0.48" stop-color="#74ffab"/><stop offset="0.5" stop-color="#8dffa9"/><stop offset="0.52" stop-color="#a2ffa6"/><stop offset="0.55" stop-color="#b5ffa3"/><stop offset="0.57" stop-color="#c6ffa0"/><stop offset="0.59" stop-color="#d6ff9c"/><stop offset="0.61" stop-color="#e6ff98"/><stop offset="0.64" stop-color="#f5ff94"/><stop offset="0.66" stop-color="#fffa8d"/><stop offset="0.68" stop-color="#ffed81"/><stop offset="0.7" stop-color="#ffe175"/><stop offset="0.73" stop-color="#ffd76a"/><stop offset="0.75" stop-color="#ffcd5f"/><stop offset="0.77" stop-color="#ffc454"/><stop offset="0.8" stop-color="#ffbc49"/><stop offset="0.82" stop-color="#ffb43d"/><stop offset="0.84" stop-color="#ffac30"/><stop offset="0.86" stop-color="#ffa620"/><stop offset="0.89" stop-color="#ff9f01"/><stop offset="0.91" stop-color="#ff9b00"/><stop offset="0.93" stop-color="#ff9700"/><stop offset="0.95" stop-color="#ff9300"/><stop offset="0.98" stop-color="#ff8f00"/><stop offset="1" stop-color="#ff8e00"/></linearGradient><linearGradient id="r60" gradientUnits="userSpaceOnUse" x1="306" y1="0" x2="440" y2="0"><stop offset="0" stop-color="#00ffe9"/><stop offset="0.02" stop-color="#00ffe8"/><stop offset="0.04" stop-color="#00ffe8"/><stop offset="0.07" stop-color="#00ffe7"/><stop offset="0.09" stop-color="#00ffe5"/><stop offset="0.11" stop-color="#00ffe4"/><stop offset="0.13" stop-color="#00ffe3"/><stop offset="0.16" stop-color="#00ffe2"/><stop offset="0.18" stop-color="#00ffe0"/><stop offset="0.2" stop-color="#00ffde"/><stop offset="0.22" stop-color="#00ffdc"/><stop offset="0.24" stop-color="#00ffda"/><stop offset="0.27" stop-color="#00ffd8"/><stop offset="0.29" stop-color="#00ffd5"/><stop offset="0.31" stop-color="#00ffd2"/><stop offset="0.33" stop-color="#00ffce"/><stop offset="0.36" stop-color="#00ffc9"/><stop offset="0.38" stop-color="#00ffc4"/><stop offset="0.4" stop-color="#00ffbd"/><stop offset="0.42" stop-color="#11ffb5"/><stop offset="0.44" stop-color="#54ffb2"/><stop offset="0.47" stop-color="#75ffb0"/><stop offset="0.49" stop-color="#8effae"/><stop offset="0.51" stop-color="#a3ffab"/><stop offset="0.53" stop-color="#b6ffa8"/><stop offset="0.56" stop-color="#c7ffa5"/><stop offset="0.58" stop-color="#d8ffa2"/><stop offset="0.6" stop-color="#e7ff9f"/><stop offset="0.62" stop-color="#f7ff9b"/><stop offset="0.64" stop-color="#fff993"/><stop offset="0.67" stop-color="#ffec87"/><stop offset="0.69" stop-color="#ffe07b"/><stop offset="0.71" stop-color="#ffd571"/><stop offset="0.73" stop-color="#ffcb66"/><stop offset="0.76" stop-color="#ffc25c"/><stop offset="0.78" stop-color="#ffba51"/><stop offset="0.8" stop-color="#ffb247"/><stop offset="0.82" stop-color="#ffab3b"/><stop offset="0.84" stop-color="#ffa42f"/><stop offset="0.87" stop-color="#ff9e1e"/><stop offset="0.89" stop-color="#ff9700"/><stop offset="0.91" stop-color="#ff9300"/><stop offset="0.93" stop-color="#ff9000"/><stop offset="0.96" stop-color="#ff8c00"/><stop offset="0.98" stop-color="#ff8900"/><stop offset="1" stop-color="#ff8800"/></linearGradient><linearGradient id="r61" gradientUnits="userSpaceOnUse" x1="306" y1="0" x2="441" y2="0"><stop offset="0" stop-color="#00ffea"/><stop offset="0.02" stop-color="#00ffea"/><stop offset="0.04" stop-color="#00ffe9"/><stop offset="0.07" stop-color="#00ffe8"/><stop offset="0.09" stop-color="#00ffe7"/><stop offset="0.11" stop-color="#00ffe6"/><stop offset="0.13" stop-color="#00ffe5"/><stop offset="0.16" stop-color="#00ffe3"/><stop offset="0.18" stop-color="#00ffe2"/><stop offset="0.2" stop-color="#00ffe0"/><stop offset="0.22" stop-color="#00ffde"/><stop offset="0.24" stop-color="#00ffdc"/><stop offset="0.27" stop-color="#00ffda"/><stop offset="0.29" stop-color="#00ffd7"/><stop offset="0.31" stop-color="#00ffd4"/><stop offset="0.33" stop-color="#00ffd0"/><stop offset="0.36" stop-color="#00ffcb"/><stop offset="0.38" stop-color="#00ffc6"/><stop offset="0.4" stop-color="#00ffbf"/><stop offset="0.42" stop-color="#31ffb9"/><stop offset="0.44" stop-color="#60ffb7"/><stop offset="0.47" stop-color="#7effb5"/><stop offset="0.49" stop-color="#96ffb2"/><stop offset="0.51" stop-color="#abffb0"/><stop offset="0.53" stop-color="#bdffad"/><stop offset="0.56" stop-color="#cfffaa"/><stop offset="0.58" stop-color="#dfffa7"/><stop offset="0.6" stop-color="#efffa4"/><stop offset="0.62" stop-color="#ffffa0"/><stop offset="0.64" stop-color="#fff194"/><stop offset="0.67" stop-color="#ffe488"/><stop offset="0.69" stop-color="#ffd97c"/><stop offset="0.71" stop-color="#ffcf72"/><stop offset="0.73" stop-color="#ffc568"/><stop offset="0.76" stop-color="#ffbd5e"/><stop offset="0.78" stop-color="#ffb454"/><stop offset="0.8" stop-color="#ffad49"/><stop offset="0.82" stop-color="#ffa63f"/><stop offset="0.84" stop-color="#ff9f33"/><stop offset="0.87" stop-color="#ff9825"/><stop offset="0.89" stop-color="#ff920f"/><stop offset="0.91" stop-color="#ff8e00"/><stop offset="0.93" stop-color="#ff8a00"/><stop offset="0.96" stop-color="#ff8700"/><stop offset="0.98" stop-color="#ff8400"/><stop offset="1" stop-color="#ff8200"/></linearGradient><linearGradient id="r62" gradientUnits="userSpaceOnUse" x1="306" y1="0" x2="443" y2="0"><stop offset="0" stop-color="#00ffeb"/><stop offset="0.02" stop-color="#00ffeb"/><stop offset="0.04" stop-color="#00ffea"/><stop offset="0.07" stop-color="#00ffe9"/><stop offset="0.09" stop-color="#00ffe9"/><stop offset="0.11" stop-color="#00ffe7"/><stop offset="0.13" stop-color="#00ffe6"/><stop offset="0.15" stop-color="#00ffe5"/><stop offset="0.17" stop-color="#00ffe4"/><stop offset="0.2" stop-color="#00ffe2"/><stop offset="0.22" stop-color="#00ffe0"/><stop offset="0.24" stop-color="#00ffde"/><stop offset="0.26" stop-color="#00ffdc"/><stop offset="0.28" stop-color="#00ffda"/><stop offset="0.3" stop-color="#00ffd7"/><stop offset="0.33" stop-color="#00ffd3"/><stop offset="0.35" stop-color="#00ffcf"/><stop offset="0.37" stop-color="#00ffca"/><stop offset="0.39" stop-color="#00ffc3"/><stop offset="0.41" stop-color="#32ffbe"/><stop offset="0.43" stop-color="#61ffbc"/><stop offset="0.46" stop-color="#7fffba"/><stop offset="0.48" stop-color="#97ffb8"/><stop offset="0.5" stop-color="#acffb5"/><stop offset="0.52" stop-color="#bfffb3"/><stop offset="0.54" stop-color="#d0ffb0"/><stop offset="0.57" stop-color="#e1ffad"/><stop offset="0.59" stop-color="#f1ffaa"/><stop offset="0.61" stop-color="#fffea6"/><stop offset="0.63" stop-color="#ffef99"/><stop offset="0.65" stop-color="#ffe38d"/><stop offset="0.67" stop-color="#ffd782"/><stop offset="0.7" stop-color="#ffcd78"/><stop offset="0.72" stop-color="#ffc46e"/><stop offset="0.74" stop-color="#ffbb64"/><stop offset="0.76" stop-color="#ffb35b"/><stop offset="0.78" stop-color="#ffab51"/><stop offset="0.8" stop-color="#ffa447"/><stop offset="0.83" stop-color="#ff9d3d"/><stop offset="0.85" stop-color="#ff9731"/><stop offset="0.87" stop-color="#ff9123"/><stop offset="0.89" stop-color="#ff8b0e"/><stop offset="0.91" stop-color="#ff8600"/><stop offset="0.93" stop-color="#ff8300"/><stop offset="0.96" stop-color="#ff8000"/><stop offset="0.98" stop-color="#ff7d00"/><stop offset="1" stop-color="#ff7c00"/></linearGradient><linearGradient id="r63" gradientUnits="userSpaceOnUse" x1="307" y1="0" x2="445" y2="0"><stop offset="0" stop-color="#00ffed"/><stop offset="0.02" stop-color="#00ffec"/><stop offset="0.04" stop-color="#00ffec"/><stop offset="0.07" stop-color="#00ffeb"/><stop offset="0.09" stop-color="#00ffea"/><stop offset="0.11" stop-color="#00ffe9"/><stop offset="0.13" stop-color="#00ffe8"/><stop offset="0.15" stop-color="#00ffe6"/><stop offset="0.17" stop-color="#00ffe5"/><stop offset="0.2" stop-color="#00ffe3"/><stop offset="0.22" stop-color="#00ffe2"/><stop offset="0.24" stop-color="#00ffe0"/><stop offset="0.26" stop-color="#00ffdd"/><stop offset="0.28" stop-color="#00ffdb"/><stop offset="0.3" stop-color="#00ffd8"/><stop offset="0.33" stop-color="#00ffd4"/><stop offset="0.35" stop-color="#00ffd0"/><stop offset="0.37" stop-color="#00ffca"/><stop offset="0.39" stop-color="#00ffc3"/><stop offset="0.41" stop-color="#54ffc1"/><stop offset="0.43" stop-color="#76ffbf"/><stop offset="0.46" stop-color="#90ffbe"/><stop offset="0.48" stop-color="#a7ffbb"/><stop offset="0.5" stop-color="#baffb9"/><stop offset="0.52" stop-color="#cdffb7"/><stop offset="0.54" stop-color="#deffb4"/><stop offset="0.57" stop-color="#eeffb2"/><stop offset="0.59" stop-color="#feffaf"/><stop offset="0.61" stop-color="#fff1a2"/><stop offset="0.63" stop-color="#ffe495"/><stop offset="0.65" stop-color="#ffd88a"/><stop offset="0.67" stop-color="#ffcd80"/><stop offset="0.7" stop-color="#ffc476"/><stop offset="0.72" stop-color="#ffbb6c"/><stop offset="0.74" stop-color="#ffb263"/><stop offset="0.76" stop-color="#ffab59"/><stop offset="0.78" stop-color="#ffa350"/><stop offset="0.8" stop-color="#ff9c46"/><stop offset="0.83" stop-color="#ff963c"/><stop offset="0.85" stop-color="#ff8f31"/><stop offset="0.87" stop-color="#ff8923"/><stop offset="0.89" stop-color="#ff840f"/><stop offset="0.91" stop-color="#ff7f00"/><stop offset="0.93" stop-color="#ff7c00"/><stop offset="0.96" stop-color="#ff7900"/><stop offset="0.98" stop-color="#ff7700"/><stop offset="1" stop-color="#ff7600"/></linearGradient><linearGradient id="r64" gradientUnits="userSpaceOnUse" x1="307" y1="0" x2="446" y2="0"><stop offset="0" stop-color="#00ffee"/><stop offset="0.02" stop-color="#00ffee"/><stop offset="0.04" stop-color="#00ffed"/><stop offset="0.06" stop-color="#00ffec"/><stop offset="0.09" stop-color="#00ffeb"/><stop offset="0.11" stop-color="#00ffea"/><stop offset="0.13" stop-color="#00ffe9"/><stop offset="0.15" stop-color="#00ffe8"/><stop offset="0.17" stop-color="#00ffe7"/><stop offset="0.19" stop-color="#00ffe6"/><stop offset="0.21" stop-color="#00ffe4"/><stop offset="0.23" stop-color="#00ffe2"/><stop offset="0.26" stop-color="#00ffe0"/><stop offset="0.28" stop-color="#00ffde"/><stop offset="0.3" stop-color="#00ffdb"/><stop offset="0.32" stop-color="#00ffd8"/><stop offset="0.34" stop-color="#00ffd4"/><stop offset="0.36" stop-color="#00ffcf"/><stop offset="0.38" stop-color="#00ffc9"/><stop offset="0.4" stop-color="#50ffc6"/><stop offset="0.43" stop-color="#74ffc5"/><stop offset="0.45" stop-color="#8effc3"/><stop offset="0.47" stop-color="#a5ffc1"/><stop offset="0.49" stop-color="#b9ffbf"/><stop offset="0.51" stop-color="#cbffbd"/><stop offset="0.53" stop-color="#ddffbb"/><stop offset="0.55" stop-color="#edffb8"/><stop offset="0.57" stop-color="#fdffb6"/><stop offset="0.6" stop-color="#fff2a9"/><stop offset="0.62" stop-color="#ffe49d"/><stop offset="0.64" stop-color="#ffd892"/><stop offset="0.66" stop-color="#ffce87"/><stop offset="0.68" stop-color="#ffc47d"/><stop offset="0.7" stop-color="#ffbb74"/><stop offset="0.72" stop-color="#ffb36b"/><stop offset="0.74" stop-color="#ffab62"/><stop offset="0.77" stop-color="#ffa359"/><stop offset="0.79" stop-color="#ff9c50"/><stop offset="0.81" stop-color="#ff9647"/><stop offset="0.83" stop-color="#ff8f3d"/><stop offset="0.85" stop-color="#ff8933"/><stop offset="0.87" stop-color="#ff8326"/><stop offset="0.89" stop-color="#ff7e15"/><stop offset="0.91" stop-color="#ff7900"/><stop offset="0.94" stop-color="#ff7600"/><stop offset="0.96" stop-color="#ff7400"/><stop offset="0.98" stop-color="#ff7100"/><stop offset="1" stop-color="#ff7000"/></linearGradient><linearGradient id="r65" gradientUnits="userSpaceOnUse" x1="307" y1="0" x2="448" y2="0"><stop offset="0" stop-color="#00ffef"/><stop offset="0.02" stop-color="#00ffef"/><stop offset="0.04" stop-color="#00ffef"/><stop offset="0.06" stop-color="#00ffee"/><stop offset="0.09" stop-color="#00ffed"/><stop offset="0.11" stop-color="#00ffec"/><stop offset="0.13" stop-color="#00ffeb"/><stop offset="0.15" stop-color="#00ffea"/><stop offset="0.17" stop-color="#00ffe9"/><stop offset="0.19" stop-color="#00ffe8"/><stop offset="0.21" stop-color="#00ffe6"/><stop offset="0.23" stop-color="#00ffe4"/><stop offset="0.26" stop-color="#00ffe2"/><stop offset="0.28" stop-color="#00ffe0"/><stop offset="0.3" stop-color="#00ffdd"/><stop offset="0.32" stop-color="#00ffda"/><stop offset="0.34" stop-color="#00ffd6"/><stop offset="0.36" stop-color="#00ffd1"/><stop offset="0.38" stop-color="#2effcc"/><stop offset="0.4" stop-color="#62ffcb"/><stop offset="0.43" stop-color="#81ffc9"/><stop offset="0.45" stop-color="#9affc8"/><stop offset="0.47" stop-color="#b0ffc6"/><stop offset="0.49" stop-color="#c4ffc4"/><stop offset="0.51" stop-color="#d6ffc2"/><stop offset="0.53" stop-color="#e8ffc0"/><stop offset="0.55" stop-color="#f9ffbd"/><stop offset="0.57" stop-color="#fff5b4"/><stop offset="0.6" stop-color="#ffe7a7"/><stop offset="0.62" stop-color="#ffdb9b"/><stop offset="0.64" stop-color="#ffcf90"/><stop offset="0.66" stop-color="#ffc586"/><stop offset="0.68" stop-color="#ffbc7c"/><stop offset="0.7" stop-color="#ffb373"/><stop offset="0.72" stop-color="#ffab6a"/><stop offset="0.74" stop-color="#ffa361"/><stop offset="0.77" stop-color="#ff9c59"/><stop offset="0.79" stop-color="#ff9550"/><stop offset="0.81" stop-color="#ff8f47"/><stop offset="0.83" stop-color="#ff883d"/><stop offset="0.85" stop-color="#ff8233"/><stop offset="0.87" stop-color="#ff7c27"/><stop offset="0.89" stop-color="#ff7717"/><stop offset="0.91" stop-color="#ff7200"/><stop offset="0.94" stop-color="#ff6f00"/><stop offset="0.96" stop-color="#ff6d00"/><stop offset="0.98" stop-color="#ff6b00"/><stop offset="1" stop-color="#ff6a00"/></linearGradient><linearGradient id="r66" gradientUnits="userSpaceOnUse" x1="307" y1="0" x2="449" y2="0"><stop offset="0" stop-color="#00fff1"/><stop offset="0.02" stop-color="#00fff1"/><stop offset="0.04" stop-color="#00fff0"/><stop offset="0.06" stop-color="#00ffef"/><stop offset="0.08" stop-color="#00ffef"/><stop offset="0.1" stop-color="#00ffee"/><stop offset="0.12" stop-color="#00ffed"/><stop offset="0.15" stop-color="#00ffec"/><stop offset="0.17" stop-color="#00ffeb"/><stop offset="0.19" stop-color="#00ffea"/><stop offset="0.21" stop-color="#00ffe9"/><stop offset="0.23" stop-color="#00ffe7"/><stop offset="0.25" stop-color="#00ffe5"/><stop offset="0.27" stop-color="#00ffe3"/><stop offset="0.29" stop-color="#00ffe1"/><stop offset="0.31" stop-color="#00ffde"/><stop offset="0.33" stop-color="#00ffda"/><stop offset="0.35" stop-color="#00ffd6"/><stop offset="0.38" stop-color="#24ffd1"/><stop offset="0.4" stop-color="#5effd0"/><stop offset="0.42" stop-color="#7fffcf"/><stop offset="0.44" stop-color="#99ffcd"/><stop offset="0.46" stop-color="#afffcc"/><stop offset="0.48" stop-color="#c3ffca"/><stop offset="0.5" stop-color="#d5ffc8"/><stop offset="0.52" stop-color="#e7ffc6"/><stop offset="0.54" stop-color="#f8ffc4"/><stop offset="0.56" stop-color="#fff6bb"/><stop offset="0.58" stop-color="#ffe8ae"/><stop offset="0.6" stop-color="#ffdba2"/><stop offset="0.62" stop-color="#ffd097"/><stop offset="0.65" stop-color="#ffc58d"/><stop offset="0.67" stop-color="#ffbc83"/><stop offset="0.69" stop-color="#ffb37a"/><stop offset="0.71" stop-color="#ffab71"/><stop offset="0.73" stop-color="#ffa369"/><stop offset="0.75" stop-color="#ff9c61"/><stop offset="0.77" stop-color="#ff9558"/><stop offset="0.79" stop-color="#ff8e50"/><stop offset="0.81" stop-color="#ff8847"/><stop offset="0.83" stop-color="#ff823e"/><stop offset="0.85" stop-color="#ff7c35"/><stop offset="0.88" stop-color="#ff762a"/><stop offset="0.9" stop-color="#ff711b"/><stop offset="0.92" stop-color="#ff6b02"/><stop offset="0.94" stop-color="#ff6900"/><stop offset="0.96" stop-color="#ff6700"/><stop offset="0.98" stop-color="#ff6400"/><stop offset="1" stop-color="#ff6300"/></linearGradient><linearGradient id="r67" gradientUnits="userSpaceOnUse" x1="308" y1="0" x2="451" y2="0"><stop offset="0" stop-color="#00fff2"/><stop offset="0.02" stop-color="#00fff2"/><stop offset="0.04" stop-color="#00fff1"/><stop offset="0.06" stop-color="#00fff1"/><stop offset="0.08" stop-color="#00fff0"/><stop offset="0.1" stop-color="#00ffef"/><stop offset="0.12" stop-color="#00ffef"/><stop offset="0.15" stop-color="#00ffee"/><stop offset="0.17" stop-color="#00ffed"/><stop offset="0.19" stop-color="#00ffec"/><stop offset="0.21" stop-color="#00ffea"/><stop offset="0.23" stop-color="#00ffe9"/><stop offset="0.25" stop-color="#00ffe7"/><stop offset="0.27" stop-color="#00ffe5"/><stop offset="0.29" stop-color="#00ffe3"/><stop offset="0.31" stop-color="#00ffe0"/><stop offset="0.33" stop-color="#00ffdc"/><stop offset="0.35" stop-color="#00ffd8"/><stop offset="0.38" stop-color="#4fffd6"/><stop offset="0.4" stop-color="#75ffd4"/><stop offset="0.42" stop-color="#91ffd3"/><stop offset="0.44" stop-color="#a9ffd2"/><stop offset="0.46" stop-color="#beffd0"/><stop offset="0.48" stop-color="#d1ffcf"/><stop offset="0.5" stop-color="#e4ffcd"/><stop offset="0.52" stop-color="#f5ffcb"/><stop offset="0.54" stop-color="#fff8c4"/><stop offset="0.56" stop-color="#ffe9b6"/><stop offset="0.58" stop-color="#ffdca9"/><stop offset="0.6" stop-color="#ffd09e"/><stop offset="0.62" stop-color="#ffc694"/><stop offset="0.65" stop-color="#ffbc8a"/><stop offset="0.67" stop-color="#ffb381"/><stop offset="0.69" stop-color="#ffaa78"/><stop offset="0.71" stop-color="#ffa270"/><stop offset="0.73" stop-color="#ff9b67"/><stop offset="0.75" stop-color="#ff945f"/><stop offset="0.77" stop-color="#ff8d57"/><stop offset="0.79" stop-color="#ff874f"/><stop offset="0.81" stop-color="#ff8147"/><stop offset="0.83" stop-color="#ff7b3e"/><stop offset="0.85" stop-color="#ff7534"/><stop offset="0.88" stop-color="#ff6f29"/><stop offset="0.9" stop-color="#ff691c"/><stop offset="0.92" stop-color="#ff6403"/><stop offset="0.94" stop-color="#ff6100"/><stop offset="0.96" stop-color="#ff5f00"/><stop offset="0.98" stop-color="#ff5d00"/><stop offset="1" stop-color="#ff5d00"/></linearGradient><linearGradient id="r68" gradientUnits="userSpaceOnUse" x1="308" y1="0" x2="453" y2="0"><stop offset="0" stop-color="#00fff4"/><stop offset="0.02" stop-color="#00fff4"/><stop offset="0.04" stop-color="#00fff3"/><stop offset="0.06" stop-color="#00fff3"/><stop offset="0.08" stop-color="#00fff2"/><stop offset="0.1" stop-color="#00fff1"/><stop offset="0.12" stop-color="#00fff1"/><stop offset="0.14" stop-color="#00fff0"/><stop offset="0.16" stop-color="#00ffef"/><stop offset="0.18" stop-color="#00ffee"/><stop offset="0.2" stop-color="#00ffed"/><stop offset="0.22" stop-color="#00ffeb"/><stop offset="0.24" stop-color="#00ffea"/><stop offset="0.27" stop-color="#00ffe8"/><stop offset="0.29" stop-color="#00ffe6"/><stop offset="0.31" stop-color="#00ffe3"/><stop offset="0.33" stop-color="#00ffe0"/><stop offset="0.35" stop-color="#00ffdc"/><stop offset="0.37" stop-color="#51ffdb"/><stop offset="0.39" stop-color="#77ffda"/><stop offset="0.41" stop-color="#93ffd8"/><stop offset="0.43" stop-color="#abffd7"/><stop offset="0.45" stop-color="#c0ffd6"/><stop offset="0.47" stop-color="#d4ffd5"/><stop offset="0.49" stop-color="#e6ffd3"/><stop offset="0.51" stop-color="#f8ffd2"/><stop offset="0.53" stop-color="#fff5c8"/><stop offset="0.55" stop-color="#ffe7ba"/><stop offset="0.57" stop-color="#ffdaae"/><stop offset="0.59" stop-color="#ffcea2"/><stop offset="0.61" stop-color="#ffc398"/><stop offset="0.63" stop-color="#ffba8e"/><stop offset="0.65" stop-color="#ffb185"/><stop offset="0.67" stop-color="#ffa87d"/><stop offset="0.69" stop-color="#ffa074"/><stop offset="0.71" stop-color="#ff996c"/><stop offset="0.73" stop-color="#ff9265"/><stop offset="0.76" stop-color="#ff8b5d"/><stop offset="0.78" stop-color="#ff8555"/><stop offset="0.8" stop-color="#ff7e4d"/><stop offset="0.82" stop-color="#ff7845"/><stop offset="0.84" stop-color="#ff733c"/><stop offset="0.86" stop-color="#ff6d33"/><stop offset="0.88" stop-color="#ff6728"/><stop offset="0.9" stop-color="#ff621b"/><stop offset="0.92" stop-color="#ff5c02"/><stop offset="0.94" stop-color="#ff5a00"/><stop offset="0.96" stop-color="#ff5800"/><stop offset="0.98" stop-color="#ff5600"/><stop offset="1" stop-color="#ff5600"/></linearGradient><linearGradient id="r69" gradientUnits="userSpaceOnUse" x1="308" y1="0" x2="454" y2="0"><stop offset="0" stop-color="#00fff5"/><stop offset="0.02" stop-color="#00fff5"/><stop offset="0.04" stop-color="#00fff5"/><stop offset="0.06" stop-color="#00fff4"/><stop offset="0.08" stop-color="#00fff4"/><stop offset="0.1" stop-color="#00fff3"/><stop offset="0.12" stop-color="#00fff3"/><stop offset="0.14" stop-color="#00fff2"/><stop offset="0.16" stop-color="#00fff1"/><stop offset="0.18" stop-color="#00fff0"/><stop offset="0.2" stop-color="#00ffef"/><stop offset="0.22" stop-color="#00ffee"/><stop offset="0.24" stop-color="#00ffed"/><stop offset="0.27" stop-color="#00ffeb"/><stop offset="0.29" stop-color="#00ffe9"/><stop offset="0.31" stop-color="#00ffe7"/><stop offset="0.33" stop-color="#00ffe4"/><stop offset="0.35" stop-color="#1bffe1"/><stop offset="0.37" stop-color="#5effe0"/><stop offset="0.39" stop-color="#81ffdf"/><stop offset="0.41" stop-color="#9cffde"/><stop offset="0.43" stop-color="#b3ffdd"/><stop offset="0.45" stop-color="#c8ffdc"/><stop offset="0.47" stop-color="#dcffda"/><stop offset="0.49" stop-color="#eeffd9"/><stop offset="0.51" stop-color="#fffed6"/><stop offset="0.53" stop-color="#ffedc7"/><stop offset="0.55" stop-color="#ffdfba"/><stop offset="0.57" stop-color="#ffd2ae"/><stop offset="0.59" stop-color="#ffc7a3"/><stop offset="0.61" stop-color="#ffbd98"/><stop offset="0.63" stop-color="#ffb38f"/><stop offset="0.65" stop-color="#ffab86"/><stop offset="0.67" stop-color="#ffa27e"/><stop offset="0.69" stop-color="#ff9b75"/><stop offset="0.71" stop-color="#ff936e"/><stop offset="0.73" stop-color="#ff8c66"/><stop offset="0.76" stop-color="#ff865e"/><stop offset="0.78" stop-color="#ff7f57"/><stop offset="0.8" stop-color="#ff794f"/><stop offset="0.82" stop-color="#ff7347"/><stop offset="0.84" stop-color="#ff6d3f"/><stop offset="0.86" stop-color="#ff6736"/><stop offset="0.88" stop-color="#ff612c"/><stop offset="0.9" stop-color="#ff5c20"/><stop offset="0.92" stop-color="#ff560e"/><stop offset="0.94" stop-color="#ff5200"/><stop offset="0.96" stop-color="#ff5000"/><stop offset="0.98" stop-color="#ff4f00"/><stop offset="1" stop-color="#ff4e00"/></linearGradient><linearGradient id="r70" gradientUnits="userSpaceOnUse" x1="309" y1="0" x2="456" y2="0"><stop offset="0" stop-color="#00fff7"/><stop offset="0.02" stop-color="#00fff7"/><stop offset="0.04" stop-color="#00fff6"/><stop offset="0.06" stop-color="#00fff6"/><stop offset="0.08" stop-color="#00fff5"/><stop offset="0.1" stop-color="#00fff5"/><stop offset="0.12" stop-color="#00fff4"/><stop offset="0.14" stop-color="#00fff4"/><stop offset="0.16" stop-color="#00fff3"/><stop offset="0.18" stop-color="#00fff2"/><stop offset="0.2" stop-color="#00fff1"/><stop offset="0.22" stop-color="#00fff0"/><stop offset="0.24" stop-color="#00ffef"/><stop offset="0.27" stop-color="#00ffee"/><stop offset="0.29" stop-color="#00ffec"/><stop offset="0.31" stop-color="#00ffea"/><stop offset="0.33" stop-color="#00ffe7"/><stop offset="0.35" stop-color="#4cffe5"/><stop offset="0.37" stop-color="#76ffe4"/><stop offset="0.39" stop-color="#94ffe4"/><stop offset="0.41" stop-color="#adffe3"/><stop offset="0.43" stop-color="#c3ffe2"/><stop offset="0.45" stop-color="#d7ffe1"/><stop offset="0.47" stop-color="#ebffe0"/><stop offset="0.49" stop-color="#fdffdf"/><stop offset="0.51" stop-color="#ffefd0"/><stop offset="0.53" stop-color="#ffe1c2"/><stop offset="0.55" stop-color="#ffd3b5"/><stop offset="0.57" stop-color="#ffc8aa"/><stop offset="0.59" stop-color="#ffbd9f"/><stop offset="0.61" stop-color="#ffb395"/><stop offset="0.63" stop-color="#ffaa8c"/><stop offset="0.65" stop-color="#ffa284"/><stop offset="0.67" stop-color="#ff9a7c"/><stop offset="0.69" stop-color="#ff9274"/><stop offset="0.71" stop-color="#ff8b6c"/><stop offset="0.73" stop-color="#ff8465"/><stop offset="0.76" stop-color="#ff7e5d"/><stop offset="0.78" stop-color="#ff7756"/><stop offset="0.8" stop-color="#ff714e"/><stop offset="0.82" stop-color="#ff6b46"/><stop offset="0.84" stop-color="#ff653e"/><stop offset="0.86" stop-color="#ff5f36"/><stop offset="0.88" stop-color="#ff592c"/><stop offset="0.9" stop-color="#ff5320"/><stop offset="0.92" stop-color="#ff4d0f"/><stop offset="0.94" stop-color="#ff4900"/><stop offset="0.96" stop-color="#ff4800"/><stop offset="0.98" stop-color="#ff4600"/><stop offset="1" stop-color="#ff4600"/></linearGradient><linearGradient id="r71" gradientUnits="userSpaceOnUse" x1="309" y1="0" x2="458" y2="0"><stop offset="0" stop-color="#00fff9"/><stop offset="0.02" stop-color="#00fff8"/><stop offset="0.04" stop-color="#00fff8"/><stop offset="0.06" stop-color="#00fff8"/><stop offset="0.08" stop-color="#00fff7"/><stop offset="0.1" stop-color="#00fff7"/><stop offset="0.12" stop-color="#00fff7"/><stop offset="0.14" stop-color="#00fff6"/><stop offset="0.16" stop-color="#00fff6"/><stop offset="0.18" stop-color="#00fff5"/><stop offset="0.2" stop-color="#00fff4"/><stop offset="0.22" stop-color="#00fff3"/><stop offset="0.24" stop-color="#00fff2"/><stop offset="0.26" stop-color="#00fff1"/><stop offset="0.28" stop-color="#00fff0"/><stop offset="0.3" stop-color="#00ffee"/><stop offset="0.32" stop-color="#00ffec"/><stop offset="0.34" stop-color="#4fffeb"/><stop offset="0.36" stop-color="#78ffea"/><stop offset="0.38" stop-color="#96ffe9"/><stop offset="0.4" stop-color="#afffe9"/><stop offset="0.42" stop-color="#c5ffe8"/><stop offset="0.44" stop-color="#daffe7"/><stop offset="0.46" stop-color="#eeffe6"/><stop offset="0.48" stop-color="#fffee4"/><stop offset="0.5" stop-color="#ffedd4"/><stop offset="0.52" stop-color="#ffdec6"/><stop offset="0.54" stop-color="#ffd1b9"/><stop offset="0.56" stop-color="#ffc5ae"/><stop offset="0.58" stop-color="#ffbba3"/><stop offset="0.6" stop-color="#ffb19a"/><stop offset="0.62" stop-color="#ffa891"/><stop offset="0.64" stop-color="#ff9f88"/><stop offset="0.66" stop-color="#ff9780"/><stop offset="0.68" stop-color="#ff9078"/><stop offset="0.7" stop-color="#ff8971"/><stop offset="0.72" stop-color="#ff8269"/><stop offset="0.74" stop-color="#ff7b62"/><stop offset="0.76" stop-color="#ff755b"/><stop offset="0.78" stop-color="#ff6f54"/><stop offset="0.8" stop-color="#ff694c"/><stop offset="0.82" stop-color="#ff6345"/><stop offset="0.84" stop-color="#ff5d3d"/><stop offset="0.86" stop-color="#ff5634"/><stop offset="0.88" stop-color="#ff502b"/><stop offset="0.9" stop-color="#ff4a1f"/><stop offset="0.92" stop-color="#ff440e"/><stop offset="0.94" stop-color="#ff4000"/><stop offset="0.96" stop-color="#ff3f00"/><stop offset="0.98" stop-color="#ff3d00"/><stop offset="1" stop-color="#ff3d00"/></linearGradient><linearGradient id="r72" gradientUnits="userSpaceOnUse" x1="309" y1="0" x2="459" y2="0"><stop offset="0" stop-color="#00fffa"/><stop offset="0.02" stop-color="#00fffa"/><stop offset="0.04" stop-color="#00fffa"/><stop offset="0.06" stop-color="#00fffa"/><stop offset="0.08" stop-color="#00fff9"/><stop offset="0.1" stop-color="#00fff9"/><stop offset="0.12" stop-color="#00fff9"/><stop offset="0.14" stop-color="#00fff8"/><stop offset="0.16" stop-color="#00fff8"/><stop offset="0.18" stop-color="#00fff7"/><stop offset="0.2" stop-color="#00fff7"/><stop offset="0.22" stop-color="#00fff6"/><stop offset="0.24" stop-color="#00fff5"/><stop offset="0.26" stop-color="#00fff5"/><stop offset="0.28" stop-color="#00fff3"/><stop offset="0.3" stop-color="#00fff2"/><stop offset="0.32" stop-color="#03fff0"/><stop offset="0.34" stop-color="#5dfff0"/><stop offset="0.36" stop-color="#83ffef"/><stop offset="0.38" stop-color="#9fffef"/><stop offset="0.4" stop-color="#b8ffee"/><stop offset="0.42" stop-color="#ceffee"/><stop offset="0.44" stop-color="#e3ffed"/><stop offset="0.46" stop-color="#f7ffed"/><stop offset="0.48" stop-color="#fff5e2"/><stop offset="0.5" stop-color="#ffe4d3"/><stop offset="0.52" stop-color="#ffd6c5"/><stop offset="0.54" stop-color="#ffcab9"/><stop offset="0.56" stop-color="#ffbead"/><stop offset="0.58" stop-color="#ffb4a3"/><stop offset="0.6" stop-color="#ffab9a"/><stop offset="0.62" stop-color="#ffa291"/><stop offset="0.64" stop-color="#ff9989"/><stop offset="0.66" stop-color="#ff9281"/><stop offset="0.68" stop-color="#ff8a79"/><stop offset="0.7" stop-color="#ff8372"/><stop offset="0.72" stop-color="#ff7c6a"/><stop offset="0.74" stop-color="#ff7663"/><stop offset="0.76" stop-color="#ff6f5c"/><stop offset="0.78" stop-color="#ff6955"/><stop offset="0.8" stop-color="#ff634e"/><stop offset="0.82" stop-color="#ff5c47"/><stop offset="0.84" stop-color="#ff563f"/><stop offset="0.86" stop-color="#ff5037"/><stop offset="0.88" stop-color="#ff492e"/><stop offset="0.9" stop-color="#ff4323"/><stop offset="0.92" stop-color="#ff3c15"/><stop offset="0.94" stop-color="#ff3500"/><stop offset="0.96" stop-color="#ff3400"/><stop offset="0.98" stop-color="#ff3300"/><stop offset="1" stop-color="#ff3300"/></linearGradient><linearGradient id="r73" gradientUnits="userSpaceOnUse" x1="309" y1="0" x2="461" y2="0"><stop offset="0" stop-color="#00fffc"/><stop offset="0.02" stop-color="#00fffc"/><stop offset="0.04" stop-color="#00fffc"/><stop offset="0.06" stop-color="#00fffc"/><stop offset="0.08" stop-color="#00fffb"/><stop offset="0.1" stop-color="#00fffb"/><stop offset="0.12" stop-color="#00fffb"/><stop offset="0.14" stop-color="#00fffb"/><stop offset="0.16" stop-color="#00fffa"/><stop offset="0.18" stop-color="#00fffa"/><stop offset="0.2" stop-color="#00fffa"/><stop offset="0.22" stop-color="#00fff9"/><stop offset="0.24" stop-color="#00fff9"/><stop offset="0.25" stop-color="#00fff8"/><stop offset="0.27" stop-color="#00fff8"/><stop offset="0.29" stop-color="#00fff7"/><stop offset="0.31" stop-color="#12fff6"/><stop offset="0.33" stop-color="#60fff5"/><stop offset="0.35" stop-color="#85fff5"/><stop offset="0.37" stop-color="#a2fff5"/><stop offset="0.39" stop-color="#bbfff5"/><stop offset="0.41" stop-color="#d1fff4"/><stop offset="0.43" stop-color="#e6fff4"/><stop offset="0.45" stop-color="#fafff3"/><stop offset="0.47" stop-color="#fff1e6"/><stop offset="0.49" stop-color="#ffe1d6"/><stop offset="0.51" stop-color="#ffd3c9"/><stop offset="0.53" stop-color="#ffc7bc"/><stop offset="0.55" stop-color="#ffbcb1"/><stop offset="0.57" stop-color="#ffb1a7"/><stop offset="0.59" stop-color="#ffa89e"/><stop offset="0.61" stop-color="#ff9f95"/><stop offset="0.63" stop-color="#ff978c"/><stop offset="0.65" stop-color="#ff8f85"/><stop offset="0.67" stop-color="#ff887d"/><stop offset="0.69" stop-color="#ff8076"/><stop offset="0.71" stop-color="#ff7a6f"/><stop offset="0.73" stop-color="#ff7368"/><stop offset="0.75" stop-color="#ff6c61"/><stop offset="0.76" stop-color="#ff665a"/><stop offset="0.78" stop-color="#ff6053"/><stop offset="0.8" stop-color="#ff594c"/><stop offset="0.82" stop-color="#ff5345"/><stop offset="0.84" stop-color="#ff4d3e"/><stop offset="0.86" stop-color="#ff4636"/><stop offset="0.88" stop-color="#ff3f2d"/><stop offset="0.9" stop-color="#ff3823"/><stop offset="0.92" stop-color="#ff3015"/><stop offset="0.94" stop-color="#ff2800"/><stop offset="0.96" stop-color="#ff2700"/><stop offset="0.98" stop-color="#ff2600"/><stop offset="1" stop-color="#ff2600"/></linearGradient><linearGradient id="r74" gradientUnits="userSpaceOnUse" x1="310" y1="0" x2="462" y2="0"><stop offset="0" stop-color="#00fffe"/><stop offset="0.02" stop-color="#00fffe"/><stop offset="0.04" stop-color="#00fffe"/><stop offset="0.06" stop-color="#00fffd"/><stop offset="0.08" stop-color="#00fffd"/><stop offset="0.1" stop-color="#00fffd"/><stop offset="0.12" stop-color="#00fffd"/><stop offset="0.14" stop-color="#00fffd"/><stop offset="0.16" stop-color="#00fffd"/><stop offset="0.18" stop-color="#00fffd"/><stop offset="0.2" stop-color="#00fffd"/><stop offset="0.22" stop-color="#00fffd"/><stop offset="0.24" stop-color="#00fffc"/><stop offset="0.25" stop-color="#00fffc"/><stop offset="0.27" stop-color="#00fffc"/><stop offset="0.29" stop-color="#00fffb"/><stop offset="0.31" stop-color="#46fffb"/><stop offset="0.33" stop-color="#75fffb"/><stop offset="0.35" stop-color="#96fffb"/><stop offset="0.37" stop-color="#b0fffb"/><stop offset="0.39" stop-color="#c8fffb"/><stop offset="0.41" stop-color="#defffb"/><stop offset="0.43" stop-color="#f3fffb"/><stop offset="0.45" stop-color="#fff7f3"/><stop offset="0.47" stop-color="#ffe6e2"/><stop offset="0.49" stop-color="#ffd7d3"/><stop offset="0.51" stop-color="#ffcac6"/><stop offset="0.53" stop-color="#ffbeba"/><stop offset="0.55" stop-color="#ffb3af"/><stop offset="0.57" stop-color="#ffaaa6"/><stop offset="0.59" stop-color="#ffa09d"/><stop offset="0.61" stop-color="#ff9894"/><stop offset="0.63" stop-color="#ff908c"/><stop offset="0.65" stop-color="#ff8884"/><stop offset="0.67" stop-color="#ff817d"/><stop offset="0.69" stop-color="#ff7a76"/><stop offset="0.71" stop-color="#ff736f"/><stop offset="0.73" stop-color="#ff6c68"/><stop offset="0.75" stop-color="#ff6662"/><stop offset="0.76" stop-color="#ff5f5b"/><stop offset="0.78" stop-color="#ff5954"/><stop offset="0.8" stop-color="#ff524e"/><stop offset="0.82" stop-color="#ff4c47"/><stop offset="0.84" stop-color="#ff453f"/><stop offset="0.86" stop-color="#ff3e38"/><stop offset="0.88" stop-color="#ff362f"/><stop offset="0.9" stop-color="#ff2d26"/><stop offset="0.92" stop-color="#ff241a"/><stop offset="0.94" stop-color="#ff1705"/><stop offset="0.96" stop-color="#ff1300"/><stop offset="0.98" stop-color="#ff1200"/><stop offset="1" stop-color="#ff1200"/></linearGradient><linearGradient id="r75" gradientUnits="userSpaceOnUse" x1="310" y1="0" x2="464" y2="0"><stop offset="0" stop-color="#00ffff"/><stop offset="0.02" stop-color="#00ffff"/><stop offset="0.04" stop-color="#00ffff"/><stop offset="0.06" stop-color="#00feff"/><stop offset="0.08" stop-color="#00feff"/><stop offset="0.1" stop-color="#00feff"/><stop offset="0.12" stop-color="#00feff"/><stop offset="0.13" stop-color="#00feff"/><stop offset="0.15" stop-color="#00feff"/><stop offset="0.17" stop-color="#00feff"/><stop offset="0.19" stop-color="#00feff"/><stop offset="0.21" stop-color="#00feff"/><stop offset="0.23" stop-color="#00feff"/><stop offset="0.25" stop-color="#00feff"/><stop offset="0.27" stop-color="#00feff"/><stop offset="0.29" stop-color="#00fdff"/><stop offset="0.31" stop-color="#49fdff"/><stop offset="0.33" stop-color="#77fdff"/><stop offset="0.35" stop-color="#97fdff"/><stop offset="0.37" stop-color="#b2fdff"/><stop offset="0.38" stop-color="#cafdff"/><stop offset="0.4" stop-color="#dffdff"/><stop offset="0.42" stop-color="#f4fcff"/><stop offset="0.44" stop-color="#fff4f6"/><stop offset="0.46" stop-color="#ffe3e5"/><stop offset="0.48" stop-color="#ffd4d6"/><stop offset="0.5" stop-color="#ffc7c9"/><stop offset="0.52" stop-color="#ffbbbe"/><stop offset="0.54" stop-color="#ffb0b3"/><stop offset="0.56" stop-color="#ffa7a9"/><stop offset="0.58" stop-color="#ff9ea0"/><stop offset="0.6" stop-color="#ff9598"/><stop offset="0.62" stop-color="#ff8d90"/><stop offset="0.63" stop-color="#ff8588"/><stop offset="0.65" stop-color="#ff7e81"/><stop offset="0.67" stop-color="#ff777a"/><stop offset="0.69" stop-color="#ff7073"/><stop offset="0.71" stop-color="#ff696c"/><stop offset="0.73" stop-color="#ff6366"/><stop offset="0.75" stop-color="#ff5c5f"/><stop offset="0.77" stop-color="#ff5559"/><stop offset="0.79" stop-color="#ff4f53"/><stop offset="0.81" stop-color="#ff484c"/><stop offset="0.83" stop-color="#ff4145"/><stop offset="0.85" stop-color="#ff393e"/><stop offset="0.87" stop-color="#ff3137"/><stop offset="0.88" stop-color="#ff272f"/><stop offset="0.9" stop-color="#ff1c25"/><stop offset="0.92" stop-color="#ff0919"/><stop offset="0.94" stop-color="#ff0014"/><stop offset="0.96" stop-color="#ff0013"/><stop offset="0.98" stop-color="#ff0013"/><stop offset="1" stop-color="#ff0013"/></linearGradient><linearGradient id="r76" gradientUnits="userSpaceOnUse" x1="310" y1="0" x2="466" y2="0"><stop offset="0" stop-color="#00fdff"/><stop offset="0.02" stop-color="#00fdff"/><stop offset="0.04" stop-color="#00fdff"/><stop offset="0.06" stop-color="#00fcff"/><stop offset="0.08" stop-color="#00fcff"/><stop offset="0.1" stop-color="#00fcff"/><stop offset="0.12" stop-color="#00fcff"/><stop offset="0.13" stop-color="#00fcff"/><stop offset="0.15" stop-color="#00fbff"/><stop offset="0.17" stop-color="#00fbff"/><stop offset="0.19" stop-color="#00fbff"/><stop offset="0.21" stop-color="#00faff"/><stop offset="0.23" stop-color="#00faff"/><stop offset="0.25" stop-color="#00f9ff"/><stop offset="0.27" stop-color="#00f9ff"/><stop offset="0.29" stop-color="#00f8ff"/><stop offset="0.31" stop-color="#5cf7ff"/><stop offset="0.33" stop-color="#82f7ff"/><stop offset="0.35" stop-color="#a0f7ff"/><stop offset="0.37" stop-color="#b9f6ff"/><stop offset="0.38" stop-color="#d0f6ff"/><stop offset="0.4" stop-color="#e5f6ff"/><stop offset="0.42" stop-color="#faf5ff"/><stop offset="0.44" stop-color="#ffe8f2"/><stop offset="0.46" stop-color="#ffd8e1"/><stop offset="0.48" stop-color="#ffcad3"/><stop offset="0.5" stop-color="#ffbec7"/><stop offset="0.52" stop-color="#ffb2bb"/><stop offset="0.54" stop-color="#ffa8b1"/><stop offset="0.56" stop-color="#ff9ea7"/><stop offset="0.58" stop-color="#ff959f"/><stop offset="0.6" stop-color="#ff8d96"/><stop offset="0.62" stop-color="#ff858e"/><stop offset="0.63" stop-color="#ff7e87"/><stop offset="0.65" stop-color="#ff7680"/><stop offset="0.67" stop-color="#ff6f79"/><stop offset="0.69" stop-color="#ff6872"/><stop offset="0.71" stop-color="#ff616c"/><stop offset="0.73" stop-color="#ff5a65"/><stop offset="0.75" stop-color="#ff535f"/><stop offset="0.77" stop-color="#ff4c59"/><stop offset="0.79" stop-color="#ff4552"/><stop offset="0.81" stop-color="#ff3e4c"/><stop offset="0.83" stop-color="#ff3545"/><stop offset="0.85" stop-color="#ff2c3e"/><stop offset="0.87" stop-color="#ff2237"/><stop offset="0.88" stop-color="#ff132f"/><stop offset="0.9" stop-color="#ff0028"/><stop offset="0.92" stop-color="#ff0027"/><stop offset="0.94" stop-color="#ff0026"/><stop offset="0.96" stop-color="#ff0025"/><stop offset="0.98" stop-color="#ff0025"/><stop offset="1" stop-color="#ff0025"/></linearGradient><linearGradient id="r77" gradientUnits="userSpaceOnUse" x1="311" y1="0" x2="467" y2="0"><stop offset="0" stop-color="#00fbff"/><stop offset="0.02" stop-color="#00fbff"/><stop offset="0.04" stop-color="#00faff"/><stop offset="0.06" stop-color="#00faff"/><stop offset="0.08" stop-color="#00faff"/><stop offset="0.1" stop-color="#00faff"/><stop offset="0.12" stop-color="#00f9ff"/><stop offset="0.13" stop-color="#00f9ff"/><stop offset="0.15" stop-color="#00f8ff"/><stop offset="0.17" stop-color="#00f8ff"/><stop offset="0.19" stop-color="#00f7ff"/><stop offset="0.21" stop-color="#00f7ff"/><stop offset="0.23" stop-color="#00f6ff"/><stop offset="0.25" stop-color="#00f5ff"/><stop offset="0.27" stop-color="#00f3ff"/><stop offset="0.29" stop-color="#3df2ff"/><stop offset="0.31" stop-color="#6ff2ff"/><stop offset="0.33" stop-color="#90f1ff"/><stop offset="0.35" stop-color="#abf1ff"/><stop offset="0.37" stop-color="#c2f0ff"/><stop offset="0.38" stop-color="#d8f0ff"/><stop offset="0.4" stop-color="#ecefff"/><stop offset="0.42" stop-color="#ffeefe"/><stop offset="0.44" stop-color="#ffdced"/><stop offset="0.46" stop-color="#ffcede"/><stop offset="0.48" stop-color="#ffc0d0"/><stop offset="0.5" stop-color="#ffb5c4"/><stop offset="0.52" stop-color="#ffaab9"/><stop offset="0.54" stop-color="#ffa0af"/><stop offset="0.56" stop-color="#ff97a6"/><stop offset="0.58" stop-color="#ff8e9e"/><stop offset="0.6" stop-color="#ff8696"/><stop offset="0.62" stop-color="#ff7e8e"/><stop offset="0.63" stop-color="#ff7687"/><stop offset="0.65" stop-color="#ff6f80"/><stop offset="0.67" stop-color="#ff6879"/><stop offset="0.69" stop-color="#ff6172"/><stop offset="0.71" stop-color="#ff5a6c"/><stop offset="0.73" stop-color="#ff5366"/><stop offset="0.75" stop-color="#ff4b60"/><stop offset="0.77" stop-color="#ff4459"/><stop offset="0.79" stop-color="#ff3c53"/><stop offset="0.81" stop-color="#ff344d"/><stop offset="0.83" stop-color="#ff2a46"/><stop offset="0.85" stop-color="#ff1e40"/><stop offset="0.87" stop-color="#ff0c39"/><stop offset="0.88" stop-color="#ff0035"/><stop offset="0.9" stop-color="#ff0034"/><stop offset="0.92" stop-color="#ff0033"/><stop offset="0.94" stop-color="#ff0032"/><stop offset="0.96" stop-color="#ff0031"/><stop offset="0.98" stop-color="#ff0030"/><stop offset="1" stop-color="#ff0030"/></linearGradient><linearGradient id="r78" gradientUnits="userSpaceOnUse" x1="311" y1="0" x2="469" y2="0"><stop offset="0" stop-color="#00f9ff"/><stop offset="0.02" stop-color="#00f9ff"/><stop offset="0.04" stop-color="#00f8ff"/><stop offset="0.06" stop-color="#00f8ff"/><stop offset="0.08" stop-color="#00f8ff"/><stop offset="0.09" stop-color="#00f7ff"/><stop offset="0.11" stop-color="#00f7ff"/><stop offset="0.13" stop-color="#00f6ff"/><stop offset="0.15" stop-color="#00f6ff"/><stop offset="0.17" stop-color="#00f5ff"/><stop offset="0.19" stop-color="#00f4ff"/><stop offset="0.21" stop-color="#00f3ff"/><stop offset="0.23" stop-color="#00f2ff"/><stop offset="0.25" stop-color="#00f0ff"/><stop offset="0.26" stop-color="#00eeff"/><stop offset="0.28" stop-color="#40edff"/><stop offset="0.3" stop-color="#6fecff"/><stop offset="0.32" stop-color="#8febff"/><stop offset="0.34" stop-color="#aaebff"/><stop offset="0.36" stop-color="#c1eaff"/><stop offset="0.38" stop-color="#d6e9ff"/><stop offset="0.4" stop-color="#e9e8ff"/><stop offset="0.42" stop-color="#fde7ff"/><stop offset="0.43" stop-color="#ffd9f0"/><stop offset="0.45" stop-color="#ffcae1"/><stop offset="0.47" stop-color="#ffbdd3"/><stop offset="0.49" stop-color="#ffb1c7"/><stop offset="0.51" stop-color="#ffa6bc"/><stop offset="0.53" stop-color="#ff9db3"/><stop offset="0.55" stop-color="#ff93a9"/><stop offset="0.57" stop-color="#ff8ba1"/><stop offset="0.58" stop-color="#ff8299"/><stop offset="0.6" stop-color="#ff7b91"/><stop offset="0.62" stop-color="#ff738a"/><stop offset="0.64" stop-color="#ff6c83"/><stop offset="0.66" stop-color="#ff647d"/><stop offset="0.68" stop-color="#ff5d76"/><stop offset="0.7" stop-color="#ff5670"/><stop offset="0.72" stop-color="#ff4f6a"/><stop offset="0.74" stop-color="#ff4764"/><stop offset="0.75" stop-color="#ff3f5e"/><stop offset="0.77" stop-color="#ff3758"/><stop offset="0.79" stop-color="#ff2e52"/><stop offset="0.81" stop-color="#ff224b"/><stop offset="0.83" stop-color="#ff1345"/><stop offset="0.85" stop-color="#ff0040"/><stop offset="0.87" stop-color="#ff003f"/><stop offset="0.89" stop-color="#ff003e"/><stop offset="0.91" stop-color="#ff003c"/><stop offset="0.92" stop-color="#ff003b"/><stop offset="0.94" stop-color="#ff003a"/><stop offset="0.96" stop-color="#ff0039"/><stop offset="0.98" stop-color="#ff0038"/><stop offset="1" stop-color="#ff0038"/></linearGradient><linearGradient id="r79" gradientUnits="userSpaceOnUse" x1="311" y1="0" x2="471" y2="0"><stop offset="0" stop-color="#00f7ff"/><stop offset="0.02" stop-color="#00f7ff"/><stop offset="0.04" stop-color="#00f6ff"/><stop offset="0.06" stop-color="#00f6ff"/><stop offset="0.07" stop-color="#00f5ff"/><stop offset="0.09" stop-color="#00f5ff"/><stop offset="0.11" stop-color="#00f4ff"/><stop offset="0.13" stop-color="#00f3ff"/><stop offset="0.15" stop-color="#00f3ff"/><stop offset="0.17" stop-color="#00f2ff"/><stop offset="0.19" stop-color="#00f0ff"/><stop offset="0.2" stop-color="#00efff"/><stop offset="0.22" stop-color="#00edff"/><stop offset="0.24" stop-color="#00ebff"/><stop offset="0.26" stop-color="#00e9ff"/><stop offset="0.28" stop-color="#43e7ff"/><stop offset="0.3" stop-color="#70e6ff"/><stop offset="0.31" stop-color="#8fe6ff"/><stop offset="0.33" stop-color="#a9e5ff"/><stop offset="0.35" stop-color="#bfe4ff"/><stop offset="0.37" stop-color="#d4e3ff"/><stop offset="0.39" stop-color="#e7e2ff"/><stop offset="0.41" stop-color="#fae1ff"/><stop offset="0.43" stop-color="#ffd5f3"/><stop offset="0.44" stop-color="#ffc6e4"/><stop offset="0.46" stop-color="#ffb9d6"/><stop offset="0.48" stop-color="#ffaeca"/><stop offset="0.5" stop-color="#ffa3c0"/><stop offset="0.52" stop-color="#ff99b6"/><stop offset="0.54" stop-color="#ff90ad"/><stop offset="0.56" stop-color="#ff87a4"/><stop offset="0.57" stop-color="#ff7f9c"/><stop offset="0.59" stop-color="#ff7795"/><stop offset="0.61" stop-color="#ff6f8d"/><stop offset="0.63" stop-color="#ff6887"/><stop offset="0.65" stop-color="#ff6180"/><stop offset="0.67" stop-color="#ff597a"/><stop offset="0.69" stop-color="#ff5274"/><stop offset="0.7" stop-color="#ff4a6d"/><stop offset="0.72" stop-color="#ff4268"/><stop offset="0.74" stop-color="#ff3a62"/><stop offset="0.76" stop-color="#ff315c"/><stop offset="0.78" stop-color="#ff2656"/><stop offset="0.8" stop-color="#ff1950"/><stop offset="0.81" stop-color="#ff004a"/><stop offset="0.83" stop-color="#ff0049"/><stop offset="0.85" stop-color="#ff0047"/><stop offset="0.87" stop-color="#ff0046"/><stop offset="0.89" stop-color="#ff0045"/><stop offset="0.91" stop-color="#ff0043"/><stop offset="0.93" stop-color="#ff0042"/><stop offset="0.94" stop-color="#ff0041"/><stop offset="0.96" stop-color="#ff0040"/><stop offset="0.98" stop-color="#ff003f"/><stop offset="1" stop-color="#ff003f"/></linearGradient><linearGradient id="r80" gradientUnits="userSpaceOnUse" x1="312" y1="0" x2="472" y2="0"><stop offset="0" stop-color="#00f5ff"/><stop offset="0.02" stop-color="#00f5ff"/><stop offset="0.04" stop-color="#00f4ff"/><stop offset="0.06" stop-color="#00f4ff"/><stop offset="0.07" stop-color="#00f3ff"/><stop offset="0.09" stop-color="#00f2ff"/><stop offset="0.11" stop-color="#00f1ff"/><stop offset="0.13" stop-color="#00f0ff"/><stop offset="0.15" stop-color="#00efff"/><stop offset="0.17" stop-color="#00eeff"/><stop offset="0.19" stop-color="#00ecff"/><stop offset="0.2" stop-color="#00ebff"/><stop offset="0.22" stop-color="#00e8ff"/><stop offset="0.24" stop-color="#00e6ff"/><stop offset="0.26" stop-color="#0ce2ff"/><stop offset="0.28" stop-color="#5be1ff"/><stop offset="0.3" stop-color="#7fe1ff"/><stop offset="0.31" stop-color="#9ae0ff"/><stop offset="0.33" stop-color="#b2deff"/><stop offset="0.35" stop-color="#c7ddff"/><stop offset="0.37" stop-color="#dbdcff"/><stop offset="0.39" stop-color="#eddbff"/><stop offset="0.41" stop-color="#ffd9ff"/><stop offset="0.43" stop-color="#ffcaee"/><stop offset="0.44" stop-color="#ffbce0"/><stop offset="0.46" stop-color="#ffb0d3"/><stop offset="0.48" stop-color="#ffa5c8"/><stop offset="0.5" stop-color="#ff9abe"/><stop offset="0.52" stop-color="#ff91b4"/><stop offset="0.54" stop-color="#ff88ab"/><stop offset="0.56" stop-color="#ff7fa3"/><stop offset="0.57" stop-color="#ff779b"/><stop offset="0.59" stop-color="#ff6f94"/><stop offset="0.61" stop-color="#ff688d"/><stop offset="0.63" stop-color="#ff6086"/><stop offset="0.65" stop-color="#ff5880"/><stop offset="0.67" stop-color="#ff517a"/><stop offset="0.69" stop-color="#ff4974"/><stop offset="0.7" stop-color="#ff416e"/><stop offset="0.72" stop-color="#ff3868"/><stop offset="0.74" stop-color="#ff2e62"/><stop offset="0.76" stop-color="#ff235d"/><stop offset="0.78" stop-color="#ff1357"/><stop offset="0.8" stop-color="#ff0052"/><stop offset="0.81" stop-color="#ff0051"/><stop offset="0.83" stop-color="#ff004f"/><stop offset="0.85" stop-color="#ff004e"/><stop offset="0.87" stop-color="#ff004c"/><stop offset="0.89" stop-color="#ff004b"/><stop offset="0.91" stop-color="#ff004a"/><stop offset="0.93" stop-color="#ff0048"/><stop offset="0.94" stop-color="#ff0047"/><stop offset="0.96" stop-color="#ff0046"/><stop offset="0.98" stop-color="#ff0045"/><stop offset="1" stop-color="#ff0045"/></linearGradient><linearGradient id="r81" gradientUnits="userSpaceOnUse" x1="312" y1="0" x2="474" y2="0"><stop offset="0" stop-color="#00f3ff"/><stop offset="0.02" stop-color="#00f3ff"/><stop offset="0.04" stop-color="#00f2ff"/><stop offset="0.06" stop-color="#00f1ff"/><stop offset="0.07" stop-color="#00f1ff"/><stop offset="0.09" stop-color="#00f0ff"/><stop offset="0.11" stop-color="#00efff"/><stop offset="0.13" stop-color="#00edff"/><stop offset="0.15" stop-color="#00ecff"/><stop offset="0.17" stop-color="#00eaff"/><stop offset="0.19" stop-color="#00e8ff"/><stop offset="0.2" stop-color="#00e6ff"/><stop offset="0.22" stop-color="#00e3ff"/><stop offset="0.24" stop-color="#00e0ff"/><stop offset="0.26" stop-color="#35ddff"/><stop offset="0.28" stop-color="#68dcff"/><stop offset="0.3" stop-color="#88dbff"/><stop offset="0.31" stop-color="#a1daff"/><stop offset="0.33" stop-color="#b8d8ff"/><stop offset="0.35" stop-color="#ccd7ff"/><stop offset="0.37" stop-color="#e0d5ff"/><stop offset="0.39" stop-color="#f2d4ff"/><stop offset="0.41" stop-color="#ffcefa"/><stop offset="0.43" stop-color="#ffc0eb"/><stop offset="0.44" stop-color="#ffb3dd"/><stop offset="0.46" stop-color="#ffa7d1"/><stop offset="0.48" stop-color="#ff9cc6"/><stop offset="0.5" stop-color="#ff92bc"/><stop offset="0.52" stop-color="#ff88b2"/><stop offset="0.54" stop-color="#ff80aa"/><stop offset="0.56" stop-color="#ff77a2"/><stop offset="0.57" stop-color="#ff6f9a"/><stop offset="0.59" stop-color="#ff6793"/><stop offset="0.61" stop-color="#ff5f8c"/><stop offset="0.63" stop-color="#ff5785"/><stop offset="0.65" stop-color="#ff4f7f"/><stop offset="0.67" stop-color="#ff4779"/><stop offset="0.69" stop-color="#ff3e73"/><stop offset="0.7" stop-color="#ff356d"/><stop offset="0.72" stop-color="#ff2a67"/><stop offset="0.74" stop-color="#ff1d62"/><stop offset="0.76" stop-color="#ff065c"/><stop offset="0.78" stop-color="#ff005a"/><stop offset="0.8" stop-color="#ff0058"/><stop offset="0.81" stop-color="#ff0056"/><stop offset="0.83" stop-color="#ff0054"/><stop offset="0.85" stop-color="#ff0053"/><stop offset="0.87" stop-color="#ff0051"/><stop offset="0.89" stop-color="#ff0050"/><stop offset="0.91" stop-color="#ff004f"/><stop offset="0.93" stop-color="#ff004d"/><stop offset="0.94" stop-color="#ff004c"/><stop offset="0.96" stop-color="#ff004b"/><stop offset="0.98" stop-color="#ff004a"/><stop offset="1" stop-color="#ff004a"/></linearGradient><linearGradient id="r82" gradientUnits="userSpaceOnUse" x1="312" y1="0" x2="475" y2="0"><stop offset="0" stop-color="#00f1ff"/><stop offset="0.02" stop-color="#00f1ff"/><stop offset="0.04" stop-color="#00f0ff"/><stop offset="0.05" stop-color="#00efff"/><stop offset="0.07" stop-color="#00eeff"/><stop offset="0.09" stop-color="#00edff"/><stop offset="0.11" stop-color="#00ecff"/><stop offset="0.13" stop-color="#00ebff"/><stop offset="0.15" stop-color="#00e9ff"/><stop offset="0.16" stop-color="#00e7ff"/><stop offset="0.18" stop-color="#00e5ff"/><stop offset="0.2" stop-color="#00e2ff"/><stop offset="0.22" stop-color="#00dfff"/><stop offset="0.24" stop-color="#00dbff"/><stop offset="0.25" stop-color="#33d8ff"/><stop offset="0.27" stop-color="#65d7ff"/><stop offset="0.29" stop-color="#85d5ff"/><stop offset="0.31" stop-color="#9ed4ff"/><stop offset="0.33" stop-color="#b5d3ff"/><stop offset="0.35" stop-color="#c9d1ff"/><stop offset="0.36" stop-color="#dbcfff"/><stop offset="0.38" stop-color="#edceff"/><stop offset="0.4" stop-color="#ffccff"/><stop offset="0.42" stop-color="#ffbdf0"/><stop offset="0.44" stop-color="#ffb0e2"/><stop offset="0.45" stop-color="#ffa4d5"/><stop offset="0.47" stop-color="#ff9aca"/><stop offset="0.49" stop-color="#ff90c0"/><stop offset="0.51" stop-color="#ff86b7"/><stop offset="0.53" stop-color="#ff7dae"/><stop offset="0.55" stop-color="#ff75a6"/><stop offset="0.56" stop-color="#ff6c9e"/><stop offset="0.58" stop-color="#ff6497"/><stop offset="0.6" stop-color="#ff5c90"/><stop offset="0.62" stop-color="#ff548a"/><stop offset="0.64" stop-color="#ff4c84"/><stop offset="0.65" stop-color="#ff437e"/><stop offset="0.67" stop-color="#ff3a78"/><stop offset="0.69" stop-color="#ff3072"/><stop offset="0.71" stop-color="#ff246c"/><stop offset="0.73" stop-color="#ff1467"/><stop offset="0.75" stop-color="#ff0062"/><stop offset="0.76" stop-color="#ff0060"/><stop offset="0.78" stop-color="#ff005e"/><stop offset="0.8" stop-color="#ff005d"/><stop offset="0.82" stop-color="#ff005b"/><stop offset="0.84" stop-color="#ff0059"/><stop offset="0.85" stop-color="#ff0058"/><stop offset="0.87" stop-color="#ff0056"/><stop offset="0.89" stop-color="#ff0055"/><stop offset="0.91" stop-color="#ff0053"/><stop offset="0.93" stop-color="#ff0052"/><stop offset="0.95" stop-color="#ff0051"/><stop offset="0.96" stop-color="#ff0050"/><stop offset="0.98" stop-color="#ff004f"/><stop offset="1" stop-color="#ff004e"/></linearGradient><linearGradient id="r83" gradientUnits="userSpaceOnUse" x1="313" y1="0" x2="477" y2="0"><stop offset="0" stop-color="#00efff"/><stop offset="0.02" stop-color="#00eeff"/><stop offset="0.04" stop-color="#00edff"/><stop offset="0.05" stop-color="#00ecff"/><stop offset="0.07" stop-color="#00ebff"/><stop offset="0.09" stop-color="#00eaff"/><stop offset="0.11" stop-color="#00e9ff"/><stop offset="0.13" stop-color="#00e7ff"/><stop offset="0.15" stop-color="#00e5ff"/><stop offset="0.16" stop-color="#00e3ff"/><stop offset="0.18" stop-color="#00e0ff"/><stop offset="0.2" stop-color="#00ddff"/><stop offset="0.22" stop-color="#00d9ff"/><stop offset="0.24" stop-color="#00d4ff"/><stop offset="0.25" stop-color="#53d2ff"/><stop offset="0.27" stop-color="#78d1ff"/><stop offset="0.29" stop-color="#93cfff"/><stop offset="0.31" stop-color="#aaceff"/><stop offset="0.33" stop-color="#bfccff"/><stop offset="0.35" stop-color="#d2caff"/><stop offset="0.36" stop-color="#e4c8ff"/><stop offset="0.38" stop-color="#f5c6ff"/><stop offset="0.4" stop-color="#ffbff8"/><stop offset="0.42" stop-color="#ffb1ea"/><stop offset="0.44" stop-color="#ffa5dd"/><stop offset="0.45" stop-color="#ff99d1"/><stop offset="0.47" stop-color="#ff8fc6"/><stop offset="0.49" stop-color="#ff85bd"/><stop offset="0.51" stop-color="#ff7cb4"/><stop offset="0.53" stop-color="#ff73ab"/><stop offset="0.55" stop-color="#ff6ba4"/><stop offset="0.56" stop-color="#ff629c"/><stop offset="0.58" stop-color="#ff5a95"/><stop offset="0.6" stop-color="#ff518f"/><stop offset="0.62" stop-color="#ff4988"/><stop offset="0.64" stop-color="#ff4082"/><stop offset="0.65" stop-color="#ff367c"/><stop offset="0.67" stop-color="#ff2b76"/><stop offset="0.69" stop-color="#ff1d71"/><stop offset="0.71" stop-color="#ff046b"/><stop offset="0.73" stop-color="#ff0069"/><stop offset="0.75" stop-color="#ff0066"/><stop offset="0.76" stop-color="#ff0064"/><stop offset="0.78" stop-color="#ff0062"/><stop offset="0.8" stop-color="#ff0061"/><stop offset="0.82" stop-color="#ff005f"/><stop offset="0.84" stop-color="#ff005d"/><stop offset="0.85" stop-color="#ff005c"/><stop offset="0.87" stop-color="#ff005a"/><stop offset="0.89" stop-color="#ff0059"/><stop offset="0.91" stop-color="#ff0057"/><stop offset="0.93" stop-color="#ff0056"/><stop offset="0.95" stop-color="#ff0055"/><stop offset="0.96" stop-color="#ff0054"/><stop offset="0.98" stop-color="#ff0052"/><stop offset="1" stop-color="#ff0052"/></linearGradient><linearGradient id="r84" gradientUnits="userSpaceOnUse" x1="313" y1="0" x2="479" y2="0"><stop offset="0" stop-color="#00edff"/><stop offset="0.02" stop-color="#00ecff"/><stop offset="0.04" stop-color="#00ebff"/><stop offset="0.05" stop-color="#00eaff"/><stop offset="0.07" stop-color="#00e9ff"/><stop offset="0.09" stop-color="#00e7ff"/><stop offset="0.11" stop-color="#00e6ff"/><stop offset="0.12" stop-color="#00e4ff"/><stop offset="0.14" stop-color="#00e2ff"/><stop offset="0.16" stop-color="#00dfff"/><stop offset="0.18" stop-color="#00dcff"/><stop offset="0.2" stop-color="#00d9ff"/><stop offset="0.21" stop-color="#00d4ff"/><stop offset="0.23" stop-color="#00ceff"/><stop offset="0.25" stop-color="#55cdff"/><stop offset="0.27" stop-color="#78cbff"/><stop offset="0.29" stop-color="#93caff"/><stop offset="0.3" stop-color="#a9c8ff"/><stop offset="0.32" stop-color="#bec6ff"/><stop offset="0.34" stop-color="#d0c4ff"/><stop offset="0.36" stop-color="#e2c2ff"/><stop offset="0.38" stop-color="#f3c0ff"/><stop offset="0.39" stop-color="#ffbafb"/><stop offset="0.41" stop-color="#ffadec"/><stop offset="0.43" stop-color="#ffa0df"/><stop offset="0.45" stop-color="#ff95d4"/><stop offset="0.46" stop-color="#ff8bc9"/><stop offset="0.48" stop-color="#ff81bf"/><stop offset="0.5" stop-color="#ff78b6"/><stop offset="0.52" stop-color="#ff6fae"/><stop offset="0.54" stop-color="#ff66a6"/><stop offset="0.55" stop-color="#ff5d9f"/><stop offset="0.57" stop-color="#ff5598"/><stop offset="0.59" stop-color="#ff4c92"/><stop offset="0.61" stop-color="#ff438b"/><stop offset="0.62" stop-color="#ff3985"/><stop offset="0.64" stop-color="#ff2e7f"/><stop offset="0.66" stop-color="#ff217a"/><stop offset="0.68" stop-color="#ff0d74"/><stop offset="0.7" stop-color="#ff0070"/><stop offset="0.71" stop-color="#ff006e"/><stop offset="0.73" stop-color="#ff006c"/><stop offset="0.75" stop-color="#ff006a"/><stop offset="0.77" stop-color="#ff0068"/><stop offset="0.79" stop-color="#ff0066"/><stop offset="0.8" stop-color="#ff0064"/><stop offset="0.82" stop-color="#ff0062"/><stop offset="0.84" stop-color="#ff0061"/><stop offset="0.86" stop-color="#ff005f"/><stop offset="0.88" stop-color="#ff005d"/><stop offset="0.89" stop-color="#ff005c"/><stop offset="0.91" stop-color="#ff005b"/><stop offset="0.93" stop-color="#ff0059"/><stop offset="0.95" stop-color="#ff0058"/><stop offset="0.96" stop-color="#ff0057"/><stop offset="0.98" stop-color="#ff0056"/><stop offset="1" stop-color="#ff0056"/></linearGradient><linearGradient id="r85" gradientUnits="userSpaceOnUse" x1="314" y1="0" x2="475" y2="0"><stop offset="0" stop-color="#00eaff"/><stop offset="0.02" stop-color="#00eaff"/><stop offset="0.04" stop-color="#00e9ff"/><stop offset="0.06" stop-color="#00e7ff"/><stop offset="0.07" stop-color="#00e6ff"/><stop offset="0.09" stop-color="#00e4ff"/><stop offset="0.11" stop-color="#00e2ff"/><stop offset="0.13" stop-color="#00e0ff"/><stop offset="0.15" stop-color="#00ddff"/><stop offset="0.17" stop-color="#00daff"/><stop offset="0.19" stop-color="#00d7ff"/><stop offset="0.2" stop-color="#00d2ff"/><stop offset="0.22" stop-color="#00ccff"/><stop offset="0.24" stop-color="#3fc9ff"/><stop offset="0.26" stop-color="#6ac7ff"/><stop offset="0.28" stop-color="#87c5ff"/><stop offset="0.3" stop-color="#9fc3ff"/><stop offset="0.31" stop-color="#b4c1ff"/><stop offset="0.33" stop-color="#c7bfff"/><stop offset="0.35" stop-color="#d9bdff"/><stop offset="0.37" stop-color="#eabaff"/><stop offset="0.39" stop-color="#fab8ff"/><stop offset="0.41" stop-color="#ffadf4"/><stop offset="0.43" stop-color="#ffa0e7"/><stop offset="0.44" stop-color="#ff95da"/><stop offset="0.46" stop-color="#ff8acf"/><stop offset="0.48" stop-color="#ff80c5"/><stop offset="0.5" stop-color="#ff76bc"/><stop offset="0.52" stop-color="#ff6db4"/><stop offset="0.54" stop-color="#ff64ac"/><stop offset="0.56" stop-color="#ff5ba4"/><stop offset="0.57" stop-color="#ff529d"/><stop offset="0.59" stop-color="#ff4996"/><stop offset="0.61" stop-color="#ff3f90"/><stop offset="0.63" stop-color="#ff358a"/><stop offset="0.65" stop-color="#ff2984"/><stop offset="0.67" stop-color="#ff187e"/><stop offset="0.69" stop-color="#ff0079"/><stop offset="0.7" stop-color="#ff0076"/><stop offset="0.72" stop-color="#ff0074"/><stop offset="0.74" stop-color="#ff0071"/><stop offset="0.76" stop-color="#ff006f"/><stop offset="0.78" stop-color="#ff006d"/><stop offset="0.8" stop-color="#ff006b"/><stop offset="0.81" stop-color="#ff0069"/><stop offset="0.83" stop-color="#ff0067"/><stop offset="0.85" stop-color="#ff0065"/><stop offset="0.87" stop-color="#ff0064"/><stop offset="0.89" stop-color="#ff0062"/><stop offset="0.91" stop-color="#ff0061"/><stop offset="0.93" stop-color="#ff005f"/><stop offset="0.94" stop-color="#ff005e"/><stop offset="0.96" stop-color="#ff005d"/><stop offset="0.98" stop-color="#ff005b"/><stop offset="1" stop-color="#ff005b"/></linearGradient><linearGradient id="r86" gradientUnits="userSpaceOnUse" x1="314" y1="0" x2="472" y2="0"><stop offset="0" stop-color="#00e8ff"/><stop offset="0.02" stop-color="#00e8ff"/><stop offset="0.04" stop-color="#00e6ff"/><stop offset="0.06" stop-color="#00e5ff"/><stop offset="0.08" stop-color="#00e3ff"/><stop offset="0.09" stop-color="#00e1ff"/><stop offset="0.11" stop-color="#00dfff"/><stop offset="0.13" stop-color="#00ddff"/><stop offset="0.15" stop-color="#00daff"/><stop offset="0.17" stop-color="#00d6ff"/><stop offset="0.19" stop-color="#00d2ff"/><stop offset="0.21" stop-color="#00cdff"/><stop offset="0.23" stop-color="#00c7ff"/><stop offset="0.25" stop-color="#46c3ff"/><stop offset="0.26" stop-color="#6ec2ff"/><stop offset="0.28" stop-color="#89c0ff"/><stop offset="0.3" stop-color="#a0beff"/><stop offset="0.32" stop-color="#b5bbff"/><stop offset="0.34" stop-color="#c7b9ff"/><stop offset="0.36" stop-color="#d9b7ff"/><stop offset="0.38" stop-color="#eab4ff"/><stop offset="0.4" stop-color="#fab1ff"/><stop offset="0.42" stop-color="#ffa7f5"/><stop offset="0.43" stop-color="#ff9ae7"/><stop offset="0.45" stop-color="#ff8fdb"/><stop offset="0.47" stop-color="#ff84d0"/><stop offset="0.49" stop-color="#ff7ac6"/><stop offset="0.51" stop-color="#ff70bd"/><stop offset="0.53" stop-color="#ff67b5"/><stop offset="0.55" stop-color="#ff5dad"/><stop offset="0.57" stop-color="#ff54a6"/><stop offset="0.58" stop-color="#ff4b9f"/><stop offset="0.6" stop-color="#ff4198"/><stop offset="0.62" stop-color="#ff3691"/><stop offset="0.64" stop-color="#ff2a8b"/><stop offset="0.66" stop-color="#ff1986"/><stop offset="0.68" stop-color="#ff0080"/><stop offset="0.7" stop-color="#ff007d"/><stop offset="0.72" stop-color="#ff007a"/><stop offset="0.74" stop-color="#ff0078"/><stop offset="0.75" stop-color="#ff0075"/><stop offset="0.77" stop-color="#ff0073"/><stop offset="0.79" stop-color="#ff0071"/><stop offset="0.81" stop-color="#ff006f"/><stop offset="0.83" stop-color="#ff006d"/><stop offset="0.85" stop-color="#ff006b"/><stop offset="0.87" stop-color="#ff0069"/><stop offset="0.89" stop-color="#ff0068"/><stop offset="0.91" stop-color="#ff0066"/><stop offset="0.92" stop-color="#ff0064"/><stop offset="0.94" stop-color="#ff0063"/><stop offset="0.96" stop-color="#ff0062"/><stop offset="0.98" stop-color="#ff0060"/><stop offset="1" stop-color="#ff0060"/></linearGradient><linearGradient id="r87" gradientUnits="userSpaceOnUse" x1="314" y1="0" x2="468" y2="0"><stop offset="0" stop-color="#00e6ff"/><stop offset="0.02" stop-color="#00e5ff"/><stop offset="0.04" stop-color="#00e4ff"/><stop offset="0.06" stop-color="#00e2ff"/><stop offset="0.08" stop-color="#00e1ff"/><stop offset="0.1" stop-color="#00dfff"/><stop offset="0.12" stop-color="#00dcff"/><stop offset="0.13" stop-color="#00d9ff"/><stop offset="0.15" stop-color="#00d6ff"/><stop offset="0.17" stop-color="#00d3ff"/><stop offset="0.19" stop-color="#00ceff"/><stop offset="0.21" stop-color="#00c9ff"/><stop offset="0.23" stop-color="#00c2ff"/><stop offset="0.25" stop-color="#49beff"/><stop offset="0.27" stop-color="#6ebcff"/><stop offset="0.29" stop-color="#89baff"/><stop offset="0.31" stop-color="#a0b8ff"/><stop offset="0.33" stop-color="#b4b6ff"/><stop offset="0.35" stop-color="#c6b3ff"/><stop offset="0.37" stop-color="#d7b1ff"/><stop offset="0.38" stop-color="#e8aeff"/><stop offset="0.4" stop-color="#f7abff"/><stop offset="0.42" stop-color="#ffa2f8"/><stop offset="0.44" stop-color="#ff96ea"/><stop offset="0.46" stop-color="#ff8ade"/><stop offset="0.48" stop-color="#ff7fd3"/><stop offset="0.5" stop-color="#ff75c9"/><stop offset="0.52" stop-color="#ff6bc0"/><stop offset="0.54" stop-color="#ff62b8"/><stop offset="0.56" stop-color="#ff58b0"/><stop offset="0.58" stop-color="#ff4fa8"/><stop offset="0.6" stop-color="#ff45a1"/><stop offset="0.62" stop-color="#ff3a9b"/><stop offset="0.63" stop-color="#ff2e94"/><stop offset="0.65" stop-color="#ff1f8e"/><stop offset="0.67" stop-color="#ff0388"/><stop offset="0.69" stop-color="#ff0085"/><stop offset="0.71" stop-color="#ff0082"/><stop offset="0.73" stop-color="#ff007f"/><stop offset="0.75" stop-color="#ff007c"/><stop offset="0.77" stop-color="#ff007a"/><stop offset="0.79" stop-color="#ff0077"/><stop offset="0.81" stop-color="#ff0075"/><stop offset="0.83" stop-color="#ff0073"/><stop offset="0.85" stop-color="#ff0071"/><stop offset="0.87" stop-color="#ff006f"/><stop offset="0.88" stop-color="#ff006d"/><stop offset="0.9" stop-color="#ff006c"/><stop offset="0.92" stop-color="#ff006a"/><stop offset="0.94" stop-color="#ff0068"/><stop offset="0.96" stop-color="#ff0067"/><stop offset="0.98" stop-color="#ff0066"/><stop offset="1" stop-color="#ff0065"/></linearGradient><linearGradient id="r88" gradientUnits="userSpaceOnUse" x1="315" y1="0" x2="465" y2="0"><stop offset="0" stop-color="#00e3ff"/><stop offset="0.02" stop-color="#00e3ff"/><stop offset="0.04" stop-color="#00e1ff"/><stop offset="0.06" stop-color="#00dfff"/><stop offset="0.08" stop-color="#00ddff"/><stop offset="0.1" stop-color="#00dbff"/><stop offset="0.12" stop-color="#00d8ff"/><stop offset="0.14" stop-color="#00d5ff"/><stop offset="0.16" stop-color="#00d1ff"/><stop offset="0.18" stop-color="#00ccff"/><stop offset="0.2" stop-color="#00c7ff"/><stop offset="0.22" stop-color="#00c0ff"/><stop offset="0.24" stop-color="#34baff"/><stop offset="0.26" stop-color="#62b8ff"/><stop offset="0.28" stop-color="#80b6ff"/><stop offset="0.3" stop-color="#98b4ff"/><stop offset="0.32" stop-color="#acb1ff"/><stop offset="0.34" stop-color="#bfaeff"/><stop offset="0.36" stop-color="#d1abff"/><stop offset="0.38" stop-color="#e1a8ff"/><stop offset="0.4" stop-color="#f1a5ff"/><stop offset="0.42" stop-color="#ffa0fe"/><stop offset="0.44" stop-color="#ff93f0"/><stop offset="0.46" stop-color="#ff88e3"/><stop offset="0.48" stop-color="#ff7cd8"/><stop offset="0.5" stop-color="#ff72cd"/><stop offset="0.52" stop-color="#ff68c4"/><stop offset="0.54" stop-color="#ff5ebb"/><stop offset="0.56" stop-color="#ff53b3"/><stop offset="0.58" stop-color="#ff49ac"/><stop offset="0.6" stop-color="#ff3ea5"/><stop offset="0.62" stop-color="#ff329e"/><stop offset="0.64" stop-color="#ff2497"/><stop offset="0.66" stop-color="#ff0d91"/><stop offset="0.68" stop-color="#ff008d"/><stop offset="0.7" stop-color="#ff0089"/><stop offset="0.72" stop-color="#ff0086"/><stop offset="0.74" stop-color="#ff0083"/><stop offset="0.76" stop-color="#ff0080"/><stop offset="0.78" stop-color="#ff007e"/><stop offset="0.8" stop-color="#ff007b"/><stop offset="0.82" stop-color="#ff0079"/><stop offset="0.84" stop-color="#ff0077"/><stop offset="0.86" stop-color="#ff0075"/><stop offset="0.88" stop-color="#ff0073"/><stop offset="0.9" stop-color="#ff0071"/><stop offset="0.92" stop-color="#ff006f"/><stop offset="0.94" stop-color="#ff006d"/><stop offset="0.96" stop-color="#ff006c"/><stop offset="0.98" stop-color="#ff006a"/><stop offset="1" stop-color="#ff006a"/></linearGradient><linearGradient id="r89" gradientUnits="userSpaceOnUse" x1="315" y1="0" x2="461" y2="0"><stop offset="0" stop-color="#00e1ff"/><stop offset="0.02" stop-color="#00e0ff"/><stop offset="0.04" stop-color="#00dfff"/><stop offset="0.06" stop-color="#00ddff"/><stop offset="0.08" stop-color="#00daff"/><stop offset="0.1" stop-color="#00d8ff"/><stop offset="0.12" stop-color="#00d5ff"/><stop offset="0.14" stop-color="#00d1ff"/><stop offset="0.16" stop-color="#00cdff"/><stop offset="0.18" stop-color="#00c8ff"/><stop offset="0.2" stop-color="#00c2ff"/><stop offset="0.22" stop-color="#00bbff"/><stop offset="0.24" stop-color="#38b5ff"/><stop offset="0.27" stop-color="#64b3ff"/><stop offset="0.29" stop-color="#80b1ff"/><stop offset="0.31" stop-color="#97aeff"/><stop offset="0.33" stop-color="#acabff"/><stop offset="0.35" stop-color="#bea9ff"/><stop offset="0.37" stop-color="#cfa5ff"/><stop offset="0.39" stop-color="#dfa2ff"/><stop offset="0.41" stop-color="#ef9fff"/><stop offset="0.43" stop-color="#fe9bff"/><stop offset="0.45" stop-color="#ff8ef2"/><stop offset="0.47" stop-color="#ff82e6"/><stop offset="0.49" stop-color="#ff77da"/><stop offset="0.51" stop-color="#ff6dd0"/><stop offset="0.53" stop-color="#ff62c7"/><stop offset="0.55" stop-color="#ff58be"/><stop offset="0.57" stop-color="#ff4db6"/><stop offset="0.59" stop-color="#ff42ae"/><stop offset="0.61" stop-color="#ff36a7"/><stop offset="0.63" stop-color="#ff28a1"/><stop offset="0.65" stop-color="#ff159a"/><stop offset="0.67" stop-color="#ff0095"/><stop offset="0.69" stop-color="#ff0091"/><stop offset="0.71" stop-color="#ff008e"/><stop offset="0.73" stop-color="#ff008a"/><stop offset="0.76" stop-color="#ff0087"/><stop offset="0.78" stop-color="#ff0085"/><stop offset="0.8" stop-color="#ff0082"/><stop offset="0.82" stop-color="#ff007f"/><stop offset="0.84" stop-color="#ff007d"/><stop offset="0.86" stop-color="#ff007b"/><stop offset="0.88" stop-color="#ff0079"/><stop offset="0.9" stop-color="#ff0077"/><stop offset="0.92" stop-color="#ff0075"/><stop offset="0.94" stop-color="#ff0073"/><stop offset="0.96" stop-color="#ff0071"/><stop offset="0.98" stop-color="#ff0070"/><stop offset="1" stop-color="#ff006f"/></linearGradient><linearGradient id="r90" gradientUnits="userSpaceOnUse" x1="316" y1="0" x2="458" y2="0"><stop offset="0" stop-color="#00deff"/><stop offset="0.02" stop-color="#00ddff"/><stop offset="0.04" stop-color="#00dbff"/><stop offset="0.06" stop-color="#00d9ff"/><stop offset="0.08" stop-color="#00d7ff"/><stop offset="0.1" stop-color="#00d4ff"/><stop offset="0.12" stop-color="#00d0ff"/><stop offset="0.15" stop-color="#00cdff"/><stop offset="0.17" stop-color="#00c8ff"/><stop offset="0.19" stop-color="#00c2ff"/><stop offset="0.21" stop-color="#00bbff"/><stop offset="0.23" stop-color="#00b3ff"/><stop offset="0.25" stop-color="#4cafff"/><stop offset="0.27" stop-color="#6fadff"/><stop offset="0.29" stop-color="#88aaff"/><stop offset="0.31" stop-color="#9ea8ff"/><stop offset="0.33" stop-color="#b1a5ff"/><stop offset="0.35" stop-color="#c2a2ff"/><stop offset="0.38" stop-color="#d39eff"/><stop offset="0.4" stop-color="#e29bff"/><stop offset="0.42" stop-color="#f297ff"/><stop offset="0.44" stop-color="#ff92fe"/><stop offset="0.46" stop-color="#ff85f0"/><stop offset="0.48" stop-color="#ff79e4"/><stop offset="0.5" stop-color="#ff6ed9"/><stop offset="0.52" stop-color="#ff63d0"/><stop offset="0.54" stop-color="#ff59c6"/><stop offset="0.56" stop-color="#ff4ebe"/><stop offset="0.58" stop-color="#ff43b6"/><stop offset="0.6" stop-color="#ff36af"/><stop offset="0.62" stop-color="#ff28a8"/><stop offset="0.65" stop-color="#ff12a1"/><stop offset="0.67" stop-color="#ff009c"/><stop offset="0.69" stop-color="#ff0098"/><stop offset="0.71" stop-color="#ff0094"/><stop offset="0.73" stop-color="#ff0091"/><stop offset="0.75" stop-color="#ff008d"/><stop offset="0.77" stop-color="#ff008a"/><stop offset="0.79" stop-color="#ff0088"/><stop offset="0.81" stop-color="#ff0085"/><stop offset="0.83" stop-color="#ff0082"/><stop offset="0.85" stop-color="#ff0080"/><stop offset="0.88" stop-color="#ff007e"/><stop offset="0.9" stop-color="#ff007c"/><stop offset="0.92" stop-color="#ff007a"/><stop offset="0.94" stop-color="#ff0078"/><stop offset="0.96" stop-color="#ff0076"/><stop offset="0.98" stop-color="#ff0074"/><stop offset="1" stop-color="#ff0074"/></linearGradient><linearGradient id="r91" gradientUnits="userSpaceOnUse" x1="316" y1="0" x2="454" y2="0"><stop offset="0" stop-color="#00dcff"/><stop offset="0.02" stop-color="#00dbff"/><stop offset="0.04" stop-color="#00d9ff"/><stop offset="0.07" stop-color="#00d6ff"/><stop offset="0.09" stop-color="#00d4ff"/><stop offset="0.11" stop-color="#00d0ff"/><stop offset="0.13" stop-color="#00cdff"/><stop offset="0.15" stop-color="#00c8ff"/><stop offset="0.17" stop-color="#00c3ff"/><stop offset="0.2" stop-color="#00bdff"/><stop offset="0.22" stop-color="#00b5ff"/><stop offset="0.24" stop-color="#21acff"/><stop offset="0.26" stop-color="#58aaff"/><stop offset="0.28" stop-color="#77a7ff"/><stop offset="0.3" stop-color="#8fa4ff"/><stop offset="0.33" stop-color="#a4a1ff"/><stop offset="0.35" stop-color="#b69eff"/><stop offset="0.37" stop-color="#c79bff"/><stop offset="0.39" stop-color="#d797ff"/><stop offset="0.41" stop-color="#e793ff"/><stop offset="0.43" stop-color="#f58eff"/><stop offset="0.46" stop-color="#ff86fa"/><stop offset="0.48" stop-color="#ff7aed"/><stop offset="0.5" stop-color="#ff6ee1"/><stop offset="0.52" stop-color="#ff63d7"/><stop offset="0.54" stop-color="#ff57cd"/><stop offset="0.57" stop-color="#ff4cc4"/><stop offset="0.59" stop-color="#ff40bc"/><stop offset="0.61" stop-color="#ff32b4"/><stop offset="0.63" stop-color="#ff21ad"/><stop offset="0.65" stop-color="#ff02a6"/><stop offset="0.67" stop-color="#ff00a1"/><stop offset="0.7" stop-color="#ff009d"/><stop offset="0.72" stop-color="#ff0099"/><stop offset="0.74" stop-color="#ff0095"/><stop offset="0.76" stop-color="#ff0092"/><stop offset="0.78" stop-color="#ff008f"/><stop offset="0.8" stop-color="#ff008c"/><stop offset="0.83" stop-color="#ff0089"/><stop offset="0.85" stop-color="#ff0086"/><stop offset="0.87" stop-color="#ff0084"/><stop offset="0.89" stop-color="#ff0082"/><stop offset="0.91" stop-color="#ff007f"/><stop offset="0.93" stop-color="#ff007d"/><stop offset="0.96" stop-color="#ff007b"/><stop offset="0.98" stop-color="#ff0079"/><stop offset="1" stop-color="#ff0079"/></linearGradient><linearGradient id="r92" gradientUnits="userSpaceOnUse" x1="316" y1="0" x2="451" y2="0"><stop offset="0" stop-color="#00d9ff"/><stop offset="0.02" stop-color="#00d9ff"/><stop offset="0.04" stop-color="#00d6ff"/><stop offset="0.07" stop-color="#00d4ff"/><stop offset="0.09" stop-color="#00d1ff"/><stop offset="0.11" stop-color="#00cdff"/><stop offset="0.13" stop-color="#00c9ff"/><stop offset="0.16" stop-color="#00c4ff"/><stop offset="0.18" stop-color="#00bfff"/><stop offset="0.2" stop-color="#00b8ff"/><stop offset="0.22" stop-color="#00afff"/><stop offset="0.24" stop-color="#2ea7ff"/><stop offset="0.27" stop-color="#5da4ff"/><stop offset="0.29" stop-color="#7aa2ff"/><stop offset="0.31" stop-color="#919fff"/><stop offset="0.33" stop-color="#a59bff"/><stop offset="0.36" stop-color="#b798ff"/><stop offset="0.38" stop-color="#c894ff"/><stop offset="0.4" stop-color="#d890ff"/><stop offset="0.42" stop-color="#e78bff"/><stop offset="0.44" stop-color="#f586ff"/><stop offset="0.47" stop-color="#ff7ffb"/><stop offset="0.49" stop-color="#ff72ee"/><stop offset="0.51" stop-color="#ff66e2"/><stop offset="0.53" stop-color="#ff5ad8"/><stop offset="0.56" stop-color="#ff4ece"/><stop offset="0.58" stop-color="#ff42c5"/><stop offset="0.6" stop-color="#ff34bd"/><stop offset="0.62" stop-color="#ff23b6"/><stop offset="0.64" stop-color="#ff03ae"/><stop offset="0.67" stop-color="#ff00a9"/><stop offset="0.69" stop-color="#ff00a4"/><stop offset="0.71" stop-color="#ff00a0"/><stop offset="0.73" stop-color="#ff009c"/><stop offset="0.76" stop-color="#ff0098"/><stop offset="0.78" stop-color="#ff0095"/><stop offset="0.8" stop-color="#ff0092"/><stop offset="0.82" stop-color="#ff008f"/><stop offset="0.84" stop-color="#ff008c"/><stop offset="0.87" stop-color="#ff0089"/><stop offset="0.89" stop-color="#ff0087"/><stop offset="0.91" stop-color="#ff0084"/><stop offset="0.93" stop-color="#ff0082"/><stop offset="0.96" stop-color="#ff0080"/><stop offset="0.98" stop-color="#ff007e"/><stop offset="1" stop-color="#ff007d"/></linearGradient><linearGradient id="r93" gradientUnits="userSpaceOnUse" x1="317" y1="0" x2="447" y2="0"><stop offset="0" stop-color="#00d6ff"/><stop offset="0.02" stop-color="#00d5ff"/><stop offset="0.05" stop-color="#00d3ff"/><stop offset="0.07" stop-color="#00d0ff"/><stop offset="0.09" stop-color="#00cdff"/><stop offset="0.11" stop-color="#00c9ff"/><stop offset="0.14" stop-color="#00c4ff"/><stop offset="0.16" stop-color="#00bfff"/><stop offset="0.18" stop-color="#00b9ff"/><stop offset="0.2" stop-color="#00b1ff"/><stop offset="0.23" stop-color="#00a7ff"/><stop offset="0.25" stop-color="#40a1ff"/><stop offset="0.27" stop-color="#669fff"/><stop offset="0.3" stop-color="#809cff"/><stop offset="0.32" stop-color="#9598ff"/><stop offset="0.34" stop-color="#a895ff"/><stop offset="0.36" stop-color="#ba91ff"/><stop offset="0.39" stop-color="#ca8dff"/><stop offset="0.41" stop-color="#d989ff"/><stop offset="0.43" stop-color="#e784ff"/><stop offset="0.45" stop-color="#f67eff"/><stop offset="0.48" stop-color="#ff76fb"/><stop offset="0.5" stop-color="#ff6aee"/><stop offset="0.52" stop-color="#ff5de3"/><stop offset="0.55" stop-color="#ff51d9"/><stop offset="0.57" stop-color="#ff44cf"/><stop offset="0.59" stop-color="#ff37c7"/><stop offset="0.61" stop-color="#ff26bf"/><stop offset="0.64" stop-color="#ff09b7"/><stop offset="0.66" stop-color="#ff00b1"/><stop offset="0.68" stop-color="#ff00ac"/><stop offset="0.7" stop-color="#ff00a8"/><stop offset="0.73" stop-color="#ff00a3"/><stop offset="0.75" stop-color="#ff009f"/><stop offset="0.77" stop-color="#ff009c"/><stop offset="0.8" stop-color="#ff0098"/><stop offset="0.82" stop-color="#ff0095"/><stop offset="0.84" stop-color="#ff0092"/><stop offset="0.86" stop-color="#ff008f"/><stop offset="0.89" stop-color="#ff008d"/><stop offset="0.91" stop-color="#ff008a"/><stop offset="0.93" stop-color="#ff0088"/><stop offset="0.95" stop-color="#ff0086"/><stop offset="0.98" stop-color="#ff0083"/><stop offset="1" stop-color="#ff0082"/></linearGradient><linearGradient id="r94" gradientUnits="userSpaceOnUse" x1="317" y1="0" x2="444" y2="0"><stop offset="0" stop-color="#00d4ff"/><stop offset="0.02" stop-color="#00d3ff"/><stop offset="0.05" stop-color="#00d0ff"/><stop offset="0.07" stop-color="#00cdff"/><stop offset="0.09" stop-color="#00caff"/><stop offset="0.12" stop-color="#00c5ff"/><stop offset="0.14" stop-color="#00c1ff"/><stop offset="0.16" stop-color="#00bbff"/><stop offset="0.19" stop-color="#00b4ff"/><stop offset="0.21" stop-color="#00acff"/><stop offset="0.23" stop-color="#00a1ff"/><stop offset="0.26" stop-color="#479cff"/><stop offset="0.28" stop-color="#6999ff"/><stop offset="0.3" stop-color="#8296ff"/><stop offset="0.33" stop-color="#9792ff"/><stop offset="0.35" stop-color="#a98fff"/><stop offset="0.37" stop-color="#ba8bff"/><stop offset="0.4" stop-color="#ca86ff"/><stop offset="0.42" stop-color="#d981ff"/><stop offset="0.44" stop-color="#e77cff"/><stop offset="0.47" stop-color="#f576ff"/><stop offset="0.49" stop-color="#ff6efb"/><stop offset="0.51" stop-color="#ff61ef"/><stop offset="0.53" stop-color="#ff54e4"/><stop offset="0.56" stop-color="#ff47da"/><stop offset="0.58" stop-color="#ff38d0"/><stop offset="0.6" stop-color="#ff27c8"/><stop offset="0.63" stop-color="#ff0ac0"/><stop offset="0.65" stop-color="#ff00ba"/><stop offset="0.67" stop-color="#ff00b4"/><stop offset="0.7" stop-color="#ff00af"/><stop offset="0.72" stop-color="#ff00aa"/><stop offset="0.74" stop-color="#ff00a6"/><stop offset="0.77" stop-color="#ff00a2"/><stop offset="0.79" stop-color="#ff009e"/><stop offset="0.81" stop-color="#ff009b"/><stop offset="0.84" stop-color="#ff0098"/><stop offset="0.86" stop-color="#ff0095"/><stop offset="0.88" stop-color="#ff0092"/><stop offset="0.91" stop-color="#ff008f"/><stop offset="0.93" stop-color="#ff008d"/><stop offset="0.95" stop-color="#ff008a"/><stop offset="0.98" stop-color="#ff0088"/><stop offset="1" stop-color="#ff0087"/></linearGradient><linearGradient id="r95" gradientUnits="userSpaceOnUse" x1="318" y1="0" x2="440" y2="0"><stop offset="0" stop-color="#00d1ff"/><stop offset="0.02" stop-color="#00cfff"/><stop offset="0.05" stop-color="#00ccff"/><stop offset="0.07" stop-color="#00c9ff"/><stop offset="0.1" stop-color="#00c5ff"/><stop offset="0.12" stop-color="#00c0ff"/><stop offset="0.15" stop-color="#00bbff"/><stop offset="0.17" stop-color="#00b4ff"/><stop offset="0.2" stop-color="#00acff"/><stop offset="0.22" stop-color="#00a2ff"/><stop offset="0.24" stop-color="#2f99ff"/><stop offset="0.27" stop-color="#5b95ff"/><stop offset="0.29" stop-color="#7792ff"/><stop offset="0.32" stop-color="#8e8eff"/><stop offset="0.34" stop-color="#a18aff"/><stop offset="0.37" stop-color="#b286ff"/><stop offset="0.39" stop-color="#c282ff"/><stop offset="0.41" stop-color="#d27dff"/><stop offset="0.44" stop-color="#e077ff"/><stop offset="0.46" stop-color="#ee71ff"/><stop offset="0.49" stop-color="#fc6aff"/><stop offset="0.51" stop-color="#ff5ef5"/><stop offset="0.54" stop-color="#ff50ea"/><stop offset="0.56" stop-color="#ff42df"/><stop offset="0.59" stop-color="#ff32d6"/><stop offset="0.61" stop-color="#ff1ccd"/><stop offset="0.63" stop-color="#ff00c5"/><stop offset="0.66" stop-color="#ff00bf"/><stop offset="0.68" stop-color="#ff00b9"/><stop offset="0.71" stop-color="#ff00b3"/><stop offset="0.73" stop-color="#ff00af"/><stop offset="0.76" stop-color="#ff00aa"/><stop offset="0.78" stop-color="#ff00a6"/><stop offset="0.8" stop-color="#ff00a2"/><stop offset="0.83" stop-color="#ff009f"/><stop offset="0.85" stop-color="#ff009b"/><stop offset="0.88" stop-color="#ff0098"/><stop offset="0.9" stop-color="#ff0095"/><stop offset="0.93" stop-color="#ff0093"/><stop offset="0.95" stop-color="#ff0090"/><stop offset="0.98" stop-color="#ff008e"/><stop offset="1" stop-color="#ff008d"/></linearGradient><linearGradient id="r96" gradientUnits="userSpaceOnUse" x1="318" y1="0" x2="437" y2="0"><stop offset="0" stop-color="#00cdff"/><stop offset="0.03" stop-color="#00cdff"/><stop offset="0.05" stop-color="#00c9ff"/><stop offset="0.07" stop-color="#00c6ff"/><stop offset="0.1" stop-color="#00c1ff"/><stop offset="0.12" stop-color="#00bcff"/><stop offset="0.15" stop-color="#00b6ff"/><stop offset="0.17" stop-color="#00afff"/><stop offset="0.2" stop-color="#00a7ff"/><stop offset="0.23" stop-color="#009bff"/><stop offset="0.25" stop-color="#3893ff"/><stop offset="0.28" stop-color="#5f90ff"/><stop offset="0.3" stop-color="#7a8cff"/><stop offset="0.33" stop-color="#8f88ff"/><stop offset="0.35" stop-color="#a284ff"/><stop offset="0.38" stop-color="#b37fff"/><stop offset="0.4" stop-color="#c37aff"/><stop offset="0.42" stop-color="#d275ff"/><stop offset="0.45" stop-color="#e06fff"/><stop offset="0.47" stop-color="#ee68ff"/><stop offset="0.5" stop-color="#fb60ff"/><stop offset="0.53" stop-color="#ff53f6"/><stop offset="0.55" stop-color="#ff44ea"/><stop offset="0.57" stop-color="#ff33e0"/><stop offset="0.6" stop-color="#ff1ed6"/><stop offset="0.62" stop-color="#ff00ce"/><stop offset="0.65" stop-color="#ff00c7"/><stop offset="0.68" stop-color="#ff00c1"/><stop offset="0.7" stop-color="#ff00bb"/><stop offset="0.72" stop-color="#ff00b6"/><stop offset="0.75" stop-color="#ff00b1"/><stop offset="0.78" stop-color="#ff00ad"/><stop offset="0.8" stop-color="#ff00a8"/><stop offset="0.82" stop-color="#ff00a5"/><stop offset="0.85" stop-color="#ff00a1"/><stop offset="0.88" stop-color="#ff009e"/><stop offset="0.9" stop-color="#ff009b"/><stop offset="0.93" stop-color="#ff0098"/><stop offset="0.95" stop-color="#ff0095"/><stop offset="0.97" stop-color="#ff0092"/><stop offset="1" stop-color="#ff0092"/></linearGradient><linearGradient id="r97" gradientUnits="userSpaceOnUse" x1="319" y1="0" x2="433" y2="0"><stop offset="0" stop-color="#00caff"/><stop offset="0.03" stop-color="#00c9ff"/><stop offset="0.05" stop-color="#00c5ff"/><stop offset="0.08" stop-color="#00c1ff"/><stop offset="0.11" stop-color="#00bcff"/><stop offset="0.13" stop-color="#00b6ff"/><stop offset="0.16" stop-color="#00afff"/><stop offset="0.18" stop-color="#00a7ff"/><stop offset="0.21" stop-color="#009cff"/><stop offset="0.24" stop-color="#1390ff"/><stop offset="0.26" stop-color="#508cff"/><stop offset="0.29" stop-color="#6f88ff"/><stop offset="0.32" stop-color="#8684ff"/><stop offset="0.34" stop-color="#9a80ff"/><stop offset="0.37" stop-color="#ab7bff"/><stop offset="0.39" stop-color="#bb76ff"/><stop offset="0.42" stop-color="#cb70ff"/><stop offset="0.45" stop-color="#d96aff"/><stop offset="0.47" stop-color="#e762ff"/><stop offset="0.5" stop-color="#f45aff"/><stop offset="0.53" stop-color="#ff4efd"/><stop offset="0.55" stop-color="#ff3ef0"/><stop offset="0.58" stop-color="#ff2be6"/><stop offset="0.61" stop-color="#ff0adc"/><stop offset="0.63" stop-color="#ff00d3"/><stop offset="0.66" stop-color="#ff00cc"/><stop offset="0.68" stop-color="#ff00c5"/><stop offset="0.71" stop-color="#ff00bf"/><stop offset="0.74" stop-color="#ff00ba"/><stop offset="0.76" stop-color="#ff00b5"/><stop offset="0.79" stop-color="#ff00b0"/><stop offset="0.82" stop-color="#ff00ac"/><stop offset="0.84" stop-color="#ff00a8"/><stop offset="0.87" stop-color="#ff00a5"/><stop offset="0.89" stop-color="#ff00a1"/><stop offset="0.92" stop-color="#ff009e"/><stop offset="0.95" stop-color="#ff009b"/><stop offset="0.97" stop-color="#ff0098"/><stop offset="1" stop-color="#ff0097"/></linearGradient><linearGradient id="r98" gradientUnits="userSpaceOnUse" x1="319" y1="0" x2="430" y2="0"><stop offset="0" stop-color="#00c7ff"/><stop offset="0.03" stop-color="#00c6ff"/><stop offset="0.05" stop-color="#00c2ff"/><stop offset="0.08" stop-color="#00beff"/><stop offset="0.11" stop-color="#00b8ff"/><stop offset="0.14" stop-color="#00b2ff"/><stop offset="0.16" stop-color="#00abff"/><stop offset="0.19" stop-color="#00a2ff"/><stop offset="0.22" stop-color="#0096ff"/><stop offset="0.24" stop-color="#238aff"/><stop offset="0.27" stop-color="#5586ff"/><stop offset="0.3" stop-color="#7282ff"/><stop offset="0.32" stop-color="#887eff"/><stop offset="0.35" stop-color="#9b79ff"/><stop offset="0.38" stop-color="#ac74ff"/><stop offset="0.41" stop-color="#bc6eff"/><stop offset="0.43" stop-color="#cb68ff"/><stop offset="0.46" stop-color="#d961ff"/><stop offset="0.49" stop-color="#e758ff"/><stop offset="0.51" stop-color="#f44eff"/><stop offset="0.54" stop-color="#ff41fd"/><stop offset="0.57" stop-color="#ff2df1"/><stop offset="0.59" stop-color="#ff0ce6"/><stop offset="0.62" stop-color="#ff00dd"/><stop offset="0.65" stop-color="#ff00d5"/><stop offset="0.68" stop-color="#ff00ce"/><stop offset="0.7" stop-color="#ff00c7"/><stop offset="0.73" stop-color="#ff00c1"/><stop offset="0.76" stop-color="#ff00bc"/><stop offset="0.78" stop-color="#ff00b7"/><stop offset="0.81" stop-color="#ff00b3"/><stop offset="0.84" stop-color="#ff00ae"/><stop offset="0.86" stop-color="#ff00aa"/><stop offset="0.89" stop-color="#ff00a7"/><stop offset="0.92" stop-color="#ff00a3"/><stop offset="0.95" stop-color="#ff00a0"/><stop offset="0.97" stop-color="#ff009d"/><stop offset="1" stop-color="#ff009c"/></linearGradient><linearGradient id="r99" gradientUnits="userSpaceOnUse" x1="320" y1="0" x2="426" y2="0"><stop offset="0" stop-color="#00c3ff"/><stop offset="0.03" stop-color="#00c2ff"/><stop offset="0.06" stop-color="#00beff"/><stop offset="0.08" stop-color="#00b9ff"/><stop offset="0.11" stop-color="#00b3ff"/><stop offset="0.14" stop-color="#00acff"/><stop offset="0.17" stop-color="#00a4ff"/><stop offset="0.19" stop-color="#009aff"/><stop offset="0.22" stop-color="#008dff"/><stop offset="0.25" stop-color="#3884ff"/><stop offset="0.28" stop-color="#5e80ff"/><stop offset="0.31" stop-color="#777cff"/><stop offset="0.33" stop-color="#8c77ff"/><stop offset="0.36" stop-color="#9e72ff"/><stop offset="0.39" stop-color="#af6cff"/><stop offset="0.42" stop-color="#be66ff"/><stop offset="0.44" stop-color="#cc5fff"/><stop offset="0.47" stop-color="#da57ff"/><stop offset="0.5" stop-color="#e74dff"/><stop offset="0.53" stop-color="#f441ff"/><stop offset="0.56" stop-color="#ff30fe"/><stop offset="0.58" stop-color="#ff11f2"/><stop offset="0.61" stop-color="#ff00e8"/><stop offset="0.64" stop-color="#ff00df"/><stop offset="0.67" stop-color="#ff00d7"/><stop offset="0.69" stop-color="#ff00d0"/><stop offset="0.72" stop-color="#ff00ca"/><stop offset="0.75" stop-color="#ff00c4"/><stop offset="0.78" stop-color="#ff00bf"/><stop offset="0.81" stop-color="#ff00ba"/><stop offset="0.83" stop-color="#ff00b5"/><stop offset="0.86" stop-color="#ff00b1"/><stop offset="0.89" stop-color="#ff00ad"/><stop offset="0.92" stop-color="#ff00aa"/><stop offset="0.94" stop-color="#ff00a6"/><stop offset="0.97" stop-color="#ff00a3"/><stop offset="1" stop-color="#ff00a2"/></linearGradient><linearGradient id="r100" gradientUnits="userSpaceOnUse" x1="321" y1="0" x2="423" y2="0"><stop offset="0" stop-color="#00c0ff"/><stop offset="0.03" stop-color="#00bdff"/><stop offset="0.06" stop-color="#00b9ff"/><stop offset="0.09" stop-color="#00b3ff"/><stop offset="0.12" stop-color="#00acff"/><stop offset="0.15" stop-color="#00a4ff"/><stop offset="0.18" stop-color="#009bff"/><stop offset="0.21" stop-color="#008eff"/><stop offset="0.24" stop-color="#2080ff"/><stop offset="0.26" stop-color="#527cff"/><stop offset="0.29" stop-color="#6f77ff"/><stop offset="0.32" stop-color="#8572ff"/><stop offset="0.35" stop-color="#986dff"/><stop offset="0.38" stop-color="#a967ff"/><stop offset="0.41" stop-color="#b960ff"/><stop offset="0.44" stop-color="#c758ff"/><stop offset="0.47" stop-color="#d54fff"/><stop offset="0.5" stop-color="#e344ff"/><stop offset="0.53" stop-color="#f035ff"/><stop offset="0.56" stop-color="#fc1eff"/><stop offset="0.59" stop-color="#ff00f6"/><stop offset="0.62" stop-color="#ff00eb"/><stop offset="0.65" stop-color="#ff00e2"/><stop offset="0.68" stop-color="#ff00da"/><stop offset="0.71" stop-color="#ff00d3"/><stop offset="0.74" stop-color="#ff00cd"/><stop offset="0.76" stop-color="#ff00c7"/><stop offset="0.79" stop-color="#ff00c1"/><stop offset="0.82" stop-color="#ff00bc"/><stop offset="0.85" stop-color="#ff00b8"/><stop offset="0.88" stop-color="#ff00b4"/><stop offset="0.91" stop-color="#ff00b0"/><stop offset="0.94" stop-color="#ff00ac"/><stop offset="0.97" stop-color="#ff00a8"/><stop offset="1" stop-color="#ff00a7"/></linearGradient><linearGradient id="r101" gradientUnits="userSpaceOnUse" x1="321" y1="0" x2="419" y2="0"><stop offset="0" stop-color="#00bcff"/><stop offset="0.03" stop-color="#00baff"/><stop offset="0.06" stop-color="#00b5ff"/><stop offset="0.09" stop-color="#00afff"/><stop offset="0.12" stop-color="#00a8ff"/><stop offset="0.15" stop-color="#00a0ff"/><stop offset="0.18" stop-color="#0096ff"/><stop offset="0.21" stop-color="#0088ff"/><stop offset="0.24" stop-color="#257bff"/><stop offset="0.27" stop-color="#5476ff"/><stop offset="0.3" stop-color="#6f71ff"/><stop offset="0.33" stop-color="#856cff"/><stop offset="0.36" stop-color="#9866ff"/><stop offset="0.39" stop-color="#a860ff"/><stop offset="0.42" stop-color="#b858ff"/><stop offset="0.45" stop-color="#c64fff"/><stop offset="0.48" stop-color="#d445ff"/><stop offset="0.52" stop-color="#e137ff"/><stop offset="0.55" stop-color="#ed23ff"/><stop offset="0.58" stop-color="#fa00ff"/><stop offset="0.61" stop-color="#ff00f9"/><stop offset="0.64" stop-color="#ff00ee"/><stop offset="0.67" stop-color="#ff00e5"/><stop offset="0.7" stop-color="#ff00dd"/><stop offset="0.73" stop-color="#ff00d6"/><stop offset="0.76" stop-color="#ff00d0"/><stop offset="0.79" stop-color="#ff00ca"/><stop offset="0.82" stop-color="#ff00c4"/><stop offset="0.85" stop-color="#ff00bf"/><stop offset="0.88" stop-color="#ff00bb"/><stop offset="0.91" stop-color="#ff00b7"/><stop offset="0.94" stop-color="#ff00b3"/><stop offset="0.97" stop-color="#ff00af"/><stop offset="1" stop-color="#ff00ad"/></linearGradient><linearGradient id="r102" gradientUnits="userSpaceOnUse" x1="322" y1="0" x2="416" y2="0"><stop offset="0" stop-color="#00b8ff"/><stop offset="0.03" stop-color="#00b5ff"/><stop offset="0.06" stop-color="#00b0ff"/><stop offset="0.09" stop-color="#00a9ff"/><stop offset="0.12" stop-color="#00a2ff"/><stop offset="0.16" stop-color="#0098ff"/><stop offset="0.19" stop-color="#008cff"/><stop offset="0.22" stop-color="#007dff"/><stop offset="0.25" stop-color="#3c73ff"/><stop offset="0.28" stop-color="#5f6fff"/><stop offset="0.31" stop-color="#7769ff"/><stop offset="0.34" stop-color="#8b63ff"/><stop offset="0.38" stop-color="#9d5dff"/><stop offset="0.41" stop-color="#ac55ff"/><stop offset="0.44" stop-color="#bb4cff"/><stop offset="0.47" stop-color="#c942ff"/><stop offset="0.5" stop-color="#d634ff"/><stop offset="0.53" stop-color="#e31fff"/><stop offset="0.56" stop-color="#ef00ff"/><stop offset="0.59" stop-color="#fb00ff"/><stop offset="0.62" stop-color="#ff00f8"/><stop offset="0.66" stop-color="#ff00ee"/><stop offset="0.69" stop-color="#ff00e5"/><stop offset="0.72" stop-color="#ff00de"/><stop offset="0.75" stop-color="#ff00d7"/><stop offset="0.78" stop-color="#ff00d1"/><stop offset="0.81" stop-color="#ff00cb"/><stop offset="0.84" stop-color="#ff00c6"/><stop offset="0.88" stop-color="#ff00c1"/><stop offset="0.91" stop-color="#ff00bc"/><stop offset="0.94" stop-color="#ff00b8"/><stop offset="0.97" stop-color="#ff00b4"/><stop offset="1" stop-color="#ff00b3"/></linearGradient><linearGradient id="r103" gradientUnits="userSpaceOnUse" x1="322" y1="0" x2="412" y2="0"><stop offset="0" stop-color="#00b4ff"/><stop offset="0.03" stop-color="#00b2ff"/><stop offset="0.07" stop-color="#00acff"/><stop offset="0.1" stop-color="#00a5ff"/><stop offset="0.13" stop-color="#009cff"/><stop offset="0.17" stop-color="#0092ff"/><stop offset="0.2" stop-color="#0084ff"/><stop offset="0.23" stop-color="#0071ff"/><stop offset="0.27" stop-color="#496cff"/><stop offset="0.3" stop-color="#6767ff"/><stop offset="0.33" stop-color="#7e61ff"/><stop offset="0.37" stop-color="#915aff"/><stop offset="0.4" stop-color="#a252ff"/><stop offset="0.43" stop-color="#b148ff"/><stop offset="0.47" stop-color="#c03dff"/><stop offset="0.5" stop-color="#ce2dff"/><stop offset="0.53" stop-color="#db12ff"/><stop offset="0.57" stop-color="#e800ff"/><stop offset="0.6" stop-color="#f400ff"/><stop offset="0.63" stop-color="#ff00ff"/><stop offset="0.67" stop-color="#ff00f4"/><stop offset="0.7" stop-color="#ff00eb"/><stop offset="0.73" stop-color="#ff00e3"/><stop offset="0.77" stop-color="#ff00dc"/><stop offset="0.8" stop-color="#ff00d5"/><stop offset="0.83" stop-color="#ff00cf"/><stop offset="0.87" stop-color="#ff00c9"/><stop offset="0.9" stop-color="#ff00c4"/><stop offset="0.93" stop-color="#ff00c0"/><stop offset="0.97" stop-color="#ff00bb"/><stop offset="1" stop-color="#ff00b9"/></linearGradient><linearGradient id="r104" gradientUnits="userSpaceOnUse" x1="323" y1="0" x2="409" y2="0"><stop offset="0" stop-color="#00afff"/><stop offset="0.03" stop-color="#00adff"/><stop offset="0.07" stop-color="#00a6ff"/><stop offset="0.1" stop-color="#009eff"/><stop offset="0.14" stop-color="#0094ff"/><stop offset="0.17" stop-color="#0088ff"/><stop offset="0.21" stop-color="#0078ff"/><stop offset="0.24" stop-color="#2d69ff"/><stop offset="0.28" stop-color="#5664ff"/><stop offset="0.31" stop-color="#705eff"/><stop offset="0.34" stop-color="#8457ff"/><stop offset="0.38" stop-color="#964fff"/><stop offset="0.41" stop-color="#a645ff"/><stop offset="0.45" stop-color="#b53aff"/><stop offset="0.48" stop-color="#c32aff"/><stop offset="0.52" stop-color="#d00aff"/><stop offset="0.55" stop-color="#dd00ff"/><stop offset="0.59" stop-color="#ea00ff"/><stop offset="0.62" stop-color="#f500ff"/><stop offset="0.66" stop-color="#ff00fe"/><stop offset="0.69" stop-color="#ff00f4"/><stop offset="0.72" stop-color="#ff00eb"/><stop offset="0.76" stop-color="#ff00e3"/><stop offset="0.79" stop-color="#ff00dc"/><stop offset="0.83" stop-color="#ff00d6"/><stop offset="0.86" stop-color="#ff00d0"/><stop offset="0.9" stop-color="#ff00cb"/><stop offset="0.93" stop-color="#ff00c6"/><stop offset="0.97" stop-color="#ff00c1"/><stop offset="1" stop-color="#ff00c0"/></linearGradient><linearGradient id="r105" gradientUnits="userSpaceOnUse" x1="323" y1="0" x2="405" y2="0"><stop offset="0" stop-color="#00abff"/><stop offset="0.04" stop-color="#00a9ff"/><stop offset="0.07" stop-color="#00a2ff"/><stop offset="0.11" stop-color="#009aff"/><stop offset="0.14" stop-color="#0090ff"/><stop offset="0.18" stop-color="#0083ff"/><stop offset="0.21" stop-color="#0072ff"/><stop offset="0.25" stop-color="#3063ff"/><stop offset="0.29" stop-color="#575dff"/><stop offset="0.32" stop-color="#7056ff"/><stop offset="0.36" stop-color="#844fff"/><stop offset="0.39" stop-color="#9546ff"/><stop offset="0.43" stop-color="#a53bff"/><stop offset="0.46" stop-color="#b42cff"/><stop offset="0.5" stop-color="#c113ff"/><stop offset="0.54" stop-color="#cf00ff"/><stop offset="0.57" stop-color="#dc00ff"/><stop offset="0.61" stop-color="#e800ff"/><stop offset="0.64" stop-color="#f300ff"/><stop offset="0.68" stop-color="#fe00ff"/><stop offset="0.71" stop-color="#ff00f7"/><stop offset="0.75" stop-color="#ff00ee"/><stop offset="0.79" stop-color="#ff00e6"/><stop offset="0.82" stop-color="#ff00df"/><stop offset="0.86" stop-color="#ff00d9"/><stop offset="0.89" stop-color="#ff00d3"/><stop offset="0.93" stop-color="#ff00ce"/><stop offset="0.96" stop-color="#ff00c9"/><stop offset="1" stop-color="#ff00c6"/></linearGradient><linearGradient id="r106" gradientUnits="userSpaceOnUse" x1="324" y1="0" x2="402" y2="0"><stop offset="0" stop-color="#00a6ff"/><stop offset="0.04" stop-color="#00a3ff"/><stop offset="0.08" stop-color="#009bff"/><stop offset="0.12" stop-color="#0091ff"/><stop offset="0.15" stop-color="#0085ff"/><stop offset="0.19" stop-color="#0074ff"/><stop offset="0.23" stop-color="#135fff"/><stop offset="0.27" stop-color="#4b59ff"/><stop offset="0.31" stop-color="#6851ff"/><stop offset="0.35" stop-color="#7e49ff"/><stop offset="0.38" stop-color="#903fff"/><stop offset="0.42" stop-color="#a032ff"/><stop offset="0.46" stop-color="#af1eff"/><stop offset="0.5" stop-color="#be00ff"/><stop offset="0.54" stop-color="#cc00ff"/><stop offset="0.58" stop-color="#d900ff"/><stop offset="0.62" stop-color="#e500ff"/><stop offset="0.65" stop-color="#f100ff"/><stop offset="0.69" stop-color="#fb00ff"/><stop offset="0.73" stop-color="#ff00f9"/><stop offset="0.77" stop-color="#ff00f0"/><stop offset="0.81" stop-color="#ff00e8"/><stop offset="0.85" stop-color="#ff00e1"/><stop offset="0.88" stop-color="#ff00db"/><stop offset="0.92" stop-color="#ff00d5"/><stop offset="0.96" stop-color="#ff00cf"/><stop offset="1" stop-color="#ff00cd"/></linearGradient><linearGradient id="r107" gradientUnits="userSpaceOnUse" x1="325" y1="0" x2="398" y2="0"><stop offset="0" stop-color="#00a0ff"/><stop offset="0.04" stop-color="#009cff"/><stop offset="0.08" stop-color="#0094ff"/><stop offset="0.12" stop-color="#0089ff"/><stop offset="0.16" stop-color="#007bff"/><stop offset="0.2" stop-color="#0068ff"/><stop offset="0.24" stop-color="#2e56ff"/><stop offset="0.28" stop-color="#544fff"/><stop offset="0.32" stop-color="#6d47ff"/><stop offset="0.36" stop-color="#813dff"/><stop offset="0.4" stop-color="#9330ff"/><stop offset="0.44" stop-color="#a21dff"/><stop offset="0.48" stop-color="#b100ff"/><stop offset="0.52" stop-color="#c000ff"/><stop offset="0.56" stop-color="#cd00ff"/><stop offset="0.6" stop-color="#d900ff"/><stop offset="0.64" stop-color="#e500ff"/><stop offset="0.68" stop-color="#ef00ff"/><stop offset="0.72" stop-color="#fa00ff"/><stop offset="0.76" stop-color="#ff00fb"/><stop offset="0.8" stop-color="#ff00f2"/><stop offset="0.84" stop-color="#ff00eb"/><stop offset="0.88" stop-color="#ff00e4"/><stop offset="0.92" stop-color="#ff00dd"/><stop offset="0.96" stop-color="#ff00d7"/><stop offset="1" stop-color="#ff00d5"/></linearGradient><linearGradient id="r108" gradientUnits="userSpaceOnUse" x1="325" y1="0" x2="395" y2="0"><stop offset="0" stop-color="#009aff"/><stop offset="0.04" stop-color="#0098ff"/><stop offset="0.08" stop-color="#008fff"/><stop offset="0.12" stop-color="#0083ff"/><stop offset="0.17" stop-color="#0074ff"/><stop offset="0.21" stop-color="#005eff"/><stop offset="0.25" stop-color="#354eff"/><stop offset="0.29" stop-color="#5846ff"/><stop offset="0.33" stop-color="#703cff"/><stop offset="0.38" stop-color="#832fff"/><stop offset="0.42" stop-color="#941cff"/><stop offset="0.46" stop-color="#a400ff"/><stop offset="0.5" stop-color="#b300ff"/><stop offset="0.54" stop-color="#c100ff"/><stop offset="0.58" stop-color="#ce00ff"/><stop offset="0.62" stop-color="#da00ff"/><stop offset="0.67" stop-color="#e500ff"/><stop offset="0.71" stop-color="#f000ff"/><stop offset="0.75" stop-color="#f900ff"/><stop offset="0.79" stop-color="#ff00fb"/><stop offset="0.83" stop-color="#ff00f3"/><stop offset="0.88" stop-color="#ff00eb"/><stop offset="0.92" stop-color="#ff00e5"/><stop offset="0.96" stop-color="#ff00de"/><stop offset="1" stop-color="#ff00dc"/></linearGradient><linearGradient id="r109" gradientUnits="userSpaceOnUse" x1="326" y1="0" x2="391" y2="0"><stop offset="0" stop-color="#0094ff"/><stop offset="0.05" stop-color="#0090ff"/><stop offset="0.09" stop-color="#0085ff"/><stop offset="0.14" stop-color="#0077ff"/><stop offset="0.18" stop-color="#0064ff"/><stop offset="0.23" stop-color="#184aff"/><stop offset="0.27" stop-color="#4b41ff"/><stop offset="0.32" stop-color="#6636ff"/><stop offset="0.36" stop-color="#7b27ff"/><stop offset="0.41" stop-color="#8d0cff"/><stop offset="0.45" stop-color="#9f00ff"/><stop offset="0.5" stop-color="#ae00ff"/><stop offset="0.55" stop-color="#bd00ff"/><stop offset="0.59" stop-color="#ca00ff"/><stop offset="0.64" stop-color="#d600ff"/><stop offset="0.68" stop-color="#e100ff"/><stop offset="0.73" stop-color="#eb00ff"/><stop offset="0.77" stop-color="#f500ff"/><stop offset="0.82" stop-color="#ff00ff"/><stop offset="0.86" stop-color="#ff00f7"/><stop offset="0.91" stop-color="#ff00ef"/><stop offset="0.95" stop-color="#ff00e8"/><stop offset="1" stop-color="#ff00e4"/></linearGradient><linearGradient id="r110" gradientUnits="userSpaceOnUse" x1="327" y1="0" x2="388" y2="0"><stop offset="0" stop-color="#008dff"/><stop offset="0.05" stop-color="#0088ff"/><stop offset="0.1" stop-color="#007bff"/><stop offset="0.14" stop-color="#006bff"/><stop offset="0.19" stop-color="#0052ff"/><stop offset="0.24" stop-color="#333eff"/><stop offset="0.29" stop-color="#5632ff"/><stop offset="0.33" stop-color="#6e23ff"/><stop offset="0.38" stop-color="#8101ff"/><stop offset="0.43" stop-color="#9400ff"/><stop offset="0.48" stop-color="#a500ff"/><stop offset="0.52" stop-color="#b300ff"/><stop offset="0.57" stop-color="#c000ff"/><stop offset="0.62" stop-color="#cd00ff"/><stop offset="0.67" stop-color="#d800ff"/><stop offset="0.71" stop-color="#e200ff"/><stop offset="0.76" stop-color="#ec00ff"/><stop offset="0.81" stop-color="#f600ff"/><stop offset="0.86" stop-color="#ff00ff"/><stop offset="0.9" stop-color="#ff00f7"/><stop offset="0.95" stop-color="#ff00f0"/><stop offset="1" stop-color="#ff00ed"/></linearGradient><linearGradient id="r111" gradientUnits="userSpaceOnUse" x1="327" y1="0" x2="385" y2="0"><stop offset="0" stop-color="#0086ff"/><stop offset="0.05" stop-color="#0083ff"/><stop offset="0.1" stop-color="#0075ff"/><stop offset="0.15" stop-color="#0063ff"/><stop offset="0.2" stop-color="#0046ff"/><stop offset="0.25" stop-color="#3932ff"/><stop offset="0.3" stop-color="#5922ff"/><stop offset="0.35" stop-color="#7001ff"/><stop offset="0.4" stop-color="#8600ff"/><stop offset="0.45" stop-color="#9800ff"/><stop offset="0.5" stop-color="#a700ff"/><stop offset="0.55" stop-color="#b500ff"/><stop offset="0.6" stop-color="#c200ff"/><stop offset="0.65" stop-color="#ce00ff"/><stop offset="0.7" stop-color="#d900ff"/><stop offset="0.75" stop-color="#e300ff"/><stop offset="0.8" stop-color="#ec00ff"/><stop offset="0.85" stop-color="#f500ff"/><stop offset="0.9" stop-color="#fe00ff"/><stop offset="0.95" stop-color="#ff00f8"/><stop offset="1" stop-color="#ff00f6"/></linearGradient><linearGradient id="r112" gradientUnits="userSpaceOnUse" x1="328" y1="0" x2="381" y2="0"><stop offset="0" stop-color="#007dff"/><stop offset="0.06" stop-color="#0078ff"/><stop offset="0.11" stop-color="#0068ff"/><stop offset="0.17" stop-color="#004fff"/><stop offset="0.22" stop-color="#212bff"/><stop offset="0.28" stop-color="#4d18ff"/><stop offset="0.33" stop-color="#6900ff"/><stop offset="0.39" stop-color="#8000ff"/><stop offset="0.44" stop-color="#9300ff"/><stop offset="0.5" stop-color="#a300ff"/><stop offset="0.56" stop-color="#b100ff"/><stop offset="0.61" stop-color="#be00ff"/><stop offset="0.67" stop-color="#ca00ff"/><stop offset="0.72" stop-color="#d500ff"/><stop offset="0.78" stop-color="#df00ff"/><stop offset="0.83" stop-color="#e900ff"/><stop offset="0.89" stop-color="#f200ff"/><stop offset="0.94" stop-color="#fb00ff"/><stop offset="1" stop-color="#fe00ff"/></linearGradient><linearGradient id="r113" gradientUnits="userSpaceOnUse" x1="329" y1="0" x2="378" y2="0"><stop offset="0" stop-color="#0073ff"/><stop offset="0.06" stop-color="#006dff"/><stop offset="0.12" stop-color="#0058ff"/><stop offset="0.18" stop-color="#0035ff"/><stop offset="0.24" stop-color="#370fff"/><stop offset="0.29" stop-color="#5b00ff"/><stop offset="0.35" stop-color="#7500ff"/><stop offset="0.41" stop-color="#8800ff"/><stop offset="0.47" stop-color="#9900ff"/><stop offset="0.53" stop-color="#a800ff"/><stop offset="0.59" stop-color="#b500ff"/><stop offset="0.65" stop-color="#c100ff"/><stop offset="0.71" stop-color="#cc00ff"/><stop offset="0.76" stop-color="#d600ff"/><stop offset="0.82" stop-color="#e000ff"/><stop offset="0.88" stop-color="#e900ff"/><stop offset="0.94" stop-color="#f200ff"/><stop offset="1" stop-color="#f400ff"/></linearGradient><linearGradient id="r114" gradientUnits="userSpaceOnUse" x1="330" y1="0" x2="374" y2="0"><stop offset="0" stop-color="#0067ff"/><stop offset="0.07" stop-color="#005eff"/><stop offset="0.13" stop-color="#0041ff"/><stop offset="0.2" stop-color="#2100ff"/><stop offset="0.27" stop-color="#5300ff"/><stop offset="0.33" stop-color="#6e00ff"/><stop offset="0.4" stop-color="#8300ff"/><stop offset="0.47" stop-color="#9400ff"/><stop offset="0.53" stop-color="#a300ff"/><stop offset="0.6" stop-color="#b100ff"/><stop offset="0.67" stop-color="#bd00ff"/><stop offset="0.73" stop-color="#c800ff"/><stop offset="0.8" stop-color="#d300ff"/><stop offset="0.87" stop-color="#dd00ff"/><stop offset="0.93" stop-color="#e600ff"/><stop offset="1" stop-color="#ea00ff"/></linearGradient><linearGradient id="r115" gradientUnits="userSpaceOnUse" x1="331" y1="0" x2="371" y2="0"><stop offset="0" stop-color="#0058ff"/><stop offset="0.07" stop-color="#004cff"/><stop offset="0.14" stop-color="#001bff"/><stop offset="0.21" stop-color="#4300ff"/><stop offset="0.29" stop-color="#6200ff"/><stop offset="0.36" stop-color="#7900ff"/><stop offset="0.43" stop-color="#8b00ff"/><stop offset="0.5" stop-color="#9a00ff"/><stop offset="0.57" stop-color="#a800ff"/><stop offset="0.64" stop-color="#b400ff"/><stop offset="0.71" stop-color="#c000ff"/><stop offset="0.79" stop-color="#ca00ff"/><stop offset="0.86" stop-color="#d400ff"/><stop offset="0.93" stop-color="#de00ff"/><stop offset="1" stop-color="#df00ff"/></linearGradient><linearGradient id="r116" gradientUnits="userSpaceOnUse" x1="332" y1="0" x2="367" y2="0"><stop offset="0" stop-color="#0043ff"/><stop offset="0.08" stop-color="#0030ff"/><stop offset="0.17" stop-color="#3600ff"/><stop offset="0.25" stop-color="#5b00ff"/><stop offset="0.33" stop-color="#7300ff"/><stop offset="0.42" stop-color="#8600ff"/><stop offset="0.5" stop-color="#9600ff"/><stop offset="0.58" stop-color="#a400ff"/><stop offset="0.67" stop-color="#b100ff"/><stop offset="0.75" stop-color="#bc00ff"/><stop offset="0.83" stop-color="#c700ff"/><stop offset="0.92" stop-color="#d100ff"/><stop offset="1" stop-color="#d500ff"/></linearGradient><linearGradient id="r117" gradientUnits="userSpaceOnUse" x1="333" y1="0" x2="364" y2="0"><stop offset="0" stop-color="#001dff"/><stop offset="0.09" stop-color="#1e00ff"/><stop offset="0.18" stop-color="#4e00ff"/><stop offset="0.27" stop-color="#6800ff"/><stop offset="0.36" stop-color="#7c00ff"/><stop offset="0.45" stop-color="#8d00ff"/><stop offset="0.55" stop-color="#9b00ff"/><stop offset="0.64" stop-color="#a800ff"/><stop offset="0.73" stop-color="#b400ff"/><stop offset="0.82" stop-color="#be00ff"/><stop offset="0.91" stop-color="#c800ff"/><stop offset="1" stop-color="#cb00ff"/></linearGradient><linearGradient id="r118" gradientUnits="userSpaceOnUse" x1="334" y1="0" x2="360" y2="0"><stop offset="0" stop-color="#3600ff"/><stop offset="0.11" stop-color="#4400ff"/><stop offset="0.22" stop-color="#6100ff"/><stop offset="0.33" stop-color="#7700ff"/><stop offset="0.44" stop-color="#8800ff"/><stop offset="0.56" stop-color="#9700ff"/><stop offset="0.67" stop-color="#a400ff"/><stop offset="0.78" stop-color="#b000ff"/><stop offset="0.89" stop-color="#bb00ff"/><stop offset="1" stop-color="#c000ff"/></linearGradient><linearGradient id="r119" gradientUnits="userSpaceOnUse" x1="336" y1="0" x2="357" y2="0"><stop offset="0" stop-color="#5400ff"/><stop offset="0.14" stop-color="#6200ff"/><stop offset="0.29" stop-color="#7800ff"/><stop offset="0.43" stop-color="#8900ff"/><stop offset="0.57" stop-color="#9800ff"/><stop offset="0.71" stop-color="#a600ff"/><stop offset="0.86" stop-color="#b200ff"/><stop offset="1" stop-color="#b500ff"/></linearGradient><linearGradient id="r120" gradientUnits="userSpaceOnUse" x1="337" y1="0" x2="353" y2="0"><stop offset="0" stop-color="#6a00ff"/><stop offset="0.17" stop-color="#6d00ff"/><stop offset="0.33" stop-color="#7e00ff"/><stop offset="0.5" stop-color="#8d00ff"/><stop offset="0.67" stop-color="#9a00ff"/><stop offset="0.83" stop-color="#a500ff"/><stop offset="1" stop-color="#a900ff"/></linearGradient><linearGradient id="r121" gradientUnits="userSpaceOnUse" x1="339" y1="0" x2="350" y2="0"><stop offset="0" stop-color="#7b00ff"/><stop offset="0.25" stop-color="#7f00ff"/><stop offset="0.5" stop-color="#8e00ff"/><stop offset="0.75" stop-color="#9b00ff"/><stop offset="1" stop-color="#9d00ff"/></linearGradient><linearGradient id="r122" gradientUnits="userSpaceOnUse" x1="341" y1="0" x2="346" y2="0"><stop offset="0" stop-color="#8900ff"/><stop offset="0.5" stop-color="#8c00ff"/><stop offset="1" stop-color="#9000ff"/></linearGradient><linearGradient id="r123" gradientUnits="userSpaceOnUse" x1="342" y1="0" x2="345" y2="0"><stop offset="0" stop-color="#8d00ff"/><stop offset="1" stop-color="#8d00ff"/></linearGradient><radialGradient id="ph1" cx="110" cy="233" r="46" gradientUnits="userSpaceOnUse">
<stop offset="0" stop-color="#d0ffc0"/><stop offset="0.07" stop-color="#5cff4c"/><stop offset="0.3" stop-color="#20f01a"/><stop offset="0.65" stop-color="#0ed00e"/><stop offset="1" stop-color="#089a08"/></radialGradient>
<linearGradient id="ph2" x1="0" y1="0" x2="1" y2="0.6"><stop offset="0" stop-color="#cfc6b8"/><stop offset="0.7" stop-color="#b8b8a4"/><stop offset="1" stop-color="#8fb080"/></linearGradient>
<linearGradient id="ph3" x1="0" y1="0" x2="0" y2="1"><stop offset="0" stop-color="#0a3a0a" stop-opacity="0.55"/><stop offset="0.07" stop-color="#0a3a0a" stop-opacity="0"/><stop offset="0.88" stop-color="#063006" stop-opacity="0"/><stop offset="1" stop-color="#063006" stop-opacity="0.55"/></linearGradient>
<linearGradient id="ph4" x1="0" y1="0" x2="1" y2="0"><stop offset="0" stop-color="#063006" stop-opacity="0"/><stop offset="0.85" stop-color="#063006" stop-opacity="0"/><stop offset="1" stop-color="#063006" stop-opacity="0.35"/></linearGradient>
<radialGradient id="ph5"><stop offset="0" stop-color="#ffffff"/><stop offset="0.5" stop-color="#e8ffe0"/><stop offset="1" stop-color="#a0ff90" stop-opacity="0"/></radialGradient><clipPath id="phc"><rect x="72.2" y="200.2" width="62.6" height="70.6"/></clipPath><filter id="blr" x="-10%" y="-10%" width="120%" height="120%"><feGaussianBlur stdDeviation="1.1"/></filter><linearGradient id="ph6" x1="0" y1="0" x2="0" y2="1"><stop offset="0" stop-color="#c0bcac"/><stop offset="0.6" stop-color="#9cae8c"/><stop offset="1" stop-color="#6e9a60"/></linearGradient></defs>
<rect width="520" height="338" fill="#fff"/>
<polyline points="62.33,135.19 62.77,135.19 63.22,135.19 63.66,135.19 64.1,135.19 64.55,135.18 64.99,135.18 65.43,135.18 65.88,135.18 66.32,135.18 66.77,135.18 67.21,135.18 67.65,135.18 68.1,135.17 68.54,135.17 68.98,135.17 69.43,135.17 69.87,135.17 70.31,135.17 70.76,135.16 71.2,135.16 71.64,135.16 72.09,135.16 72.53,135.15 72.97,135.15 73.42,135.15 73.86,135.14 74.3,135.14 74.75,135.14 75.19,135.13 75.64,135.13 76.08,135.13 76.52,135.12 76.97,135.12 77.41,135.11 77.85,135.11 78.3,135.1 78.74,135.1 79.18,135.09 79.63,135.08 80.07,135.08 80.51,135.07 80.96,135.06 81.4,135.05 81.84,135.05 82.29,135.04 82.73,135.03 83.17,135.02 83.62,135.01 84.06,135 84.5,134.99 84.95,134.98 85.39,134.96 85.84,134.95 86.28,134.94 86.72,134.92 87.17,134.91 87.61,134.89 88.05,134.88 88.5,134.86 88.94,134.84 89.38,134.82 89.83,134.8 90.27,134.78 90.71,134.76 91.16,134.73 91.6,134.71 92.04,134.68 92.49,134.65 92.93,134.62 93.38,134.59 93.82,134.56 94.26,134.53 94.71,134.49 95.15,134.46 95.59,134.42 96.04,134.38 96.48,134.33 96.92,134.29 97.37,134.24 97.81,134.19 98.25,134.13 98.7,134.08 99.14,134.02 99.58,133.96 100.03,133.89 100.47,133.82 100.91,133.75 101.36,133.67 101.8,133.59 102.25,133.51 102.69,133.42 103.13,133.32 103.58,133.22 104.02,133.12 104.46,133 104.91,132.88 105.35,132.76 105.79,132.62 106.24,132.48 106.68,132.33 107.12,132.18 107.57,132.01 108.01,131.83 108.45,131.64 108.9,131.44 109.34,131.22 109.78,130.99 110.23,130.75 110.67,130.49 111.12,130.21 111.56,129.9 112,129.57 112.45,129.22 112.89,128.83 113.33,128.4 113.78,127.93 114.22,127.39 114.66,126.79 115.11,126.11 115.55,125.32 115.99,124.41 116.44,123.35 116.88,122.11 117.32,120.64 117.77,118.93 118.21,116.91 118.65,114.54 119.1,111.78 119.54,108.58 119.99,104.89 120.43,100.7 120.87,95.96 121.32,90.67 121.76,84.85 122.2,78.52 122.65,71.74 123.09,64.59 123.53,57.2 123.98,49.68 124.42,42.21 124.86,34.97 125.31,28.15 125.75,21.95 126.19,16.56 126.64,12.16 127.08,8.9 127.52,6.9 127.97,6.22 128.41,6.69 128.86,8.09 129.3,10.38 129.74,13.5 130.19,17.38 130.63,21.91 131.07,27 131.52,32.51 131.96,38.34 132.4,44.37 132.85,50.47 133.29,56.56 133.73,62.52 134.18,68.29 134.62,73.79 135.06,78.98 135.51,83.82 135.95,88.29 136.39,92.37 136.84,96.07 137.28,99.4 137.73,102.38 138.17,105.03 138.61,107.37 139.06,109.44 139.5,111.27 139.94,112.88 140.39,114.3 140.83,115.55 141.27,116.67 141.72,117.67 142.16,118.56 142.6,119.37 143.05,120.11 143.49,120.78 143.93,121.41 144.38,121.99 144.82,122.53 145.26,123.04 145.71,123.52 146.15,123.97 146.59,124.4 147.04,124.81 147.48,125.2 147.93,125.57 148.37,125.93 148.81,126.27 149.26,126.59 149.7,126.9 150.14,127.2 150.59,127.49 151.03,127.77 151.47,128.03 151.92,128.28 152.36,128.52 152.8,128.76 153.25,128.98 153.69,129.2 154.13,129.4 154.58,129.6 155.02,129.79 155.47,129.98 155.91,130.15 156.35,130.32 156.8,130.49 157.24,130.64 157.68,130.79 158.13,130.94 158.57,131.08 159.01,131.21 159.46,131.34 159.9,131.47 160.34,131.59 160.79,131.71 161.23,131.82 161.67,131.93 162.12,132.03 162.56,132.13 163,132.23 163.45,132.33 163.89,132.42 164.34,132.5 164.78,132.59 165.22,132.67 165.67,132.75 166.11,132.83 166.55,132.9 167,132.97 167.44,133.04 167.88,133.11 168.33,133.17 168.77,133.24 169.21,133.3 169.66,133.35 170.1,133.41 170.54,133.47 170.99,133.52 171.43,133.57 171.87,133.62 172.32,133.67 172.76,133.71 173.2,133.76 173.65,133.8 174.09,133.85 174.54,133.89 174.98,133.93 175.42,133.97 175.87,134 176.31,134.04 176.75,134.07 177.2,134.11 177.64,134.14 178.08,134.17 178.53,134.2 178.97,134.23 179.41,134.26 179.86,134.29 180.3,134.32 180.74,134.35 181.19,134.37 181.63,134.4 182.07,134.42 182.52,134.44 182.96,134.47 183.41,134.49 183.85,134.51 184.29,134.53 184.74,134.55 185.18,134.57 185.62,134.59 186.07,134.61 186.51,134.63 186.95,134.65 187.4,134.66 187.84,134.68 188.28,134.69 188.73,134.71 189.17,134.72 189.61,134.74 190.06,134.75 190.5,134.77 190.94,134.78 191.39,134.79 191.83,134.81 192.28,134.82 192.72,134.83 193.16,134.84 193.61,134.85 194.05,134.86 194.49,134.87 194.94,134.88 195.38,134.89 195.82,134.9 196.27,134.91 196.71,134.92 197.15,134.93 197.6,134.94 198.04,134.95 198.48,134.95 198.93,134.96 199.37,134.97 199.81,134.98 200.26,134.98 200.7,134.99 201.15,135 201.59,135 202.03,135.01 202.48,135.02 202.92,135.02 203.36,135.03 203.81,135.03 204.25,135.04 204.69,135.04 205.14,135.05 205.58,135.05 206.02,135.06 206.47,135.06 206.91,135.07 207.35,135.07 207.8,135.08 208.24,135.08 208.69,135.08 209.13,135.09 209.57,135.09 210.02,135.1 210.46,135.1 210.9,135.1 211.35,135.11 211.79,135.11 212.23,135.11 212.68,135.11 213.12,135.12 213.56,135.12 214.01,135.12 214.45,135.13 214.89,135.13 215.34,135.13 215.78,135.13 216.22,135.13 216.67,135.14 217.11,135.14 217.56,135.14 218,135.14 218.44,135.15 218.89,135.15 219.33,135.15 219.77,135.15 220.22,135.15 220.66,135.15 221.1,135.16 221.55,135.16 221.99,135.16 222.43,135.16 222.88,135.16 223.32,135.16 223.76,135.16 224.21,135.17 224.65,135.17 225.09,135.17 225.54,135.17 225.98,135.17 226.43,135.17 226.87,135.17 227.31,135.17 227.76,135.17 228.2,135.18 228.64,135.18 229.09,135.18 229.53,135.18 229.97,135.18 230.42,135.18 230.86,135.18 231.3,135.18 231.75,135.18 232.19,135.18 232.63,135.18 233.08,135.18 233.52,135.18 233.96,135.18 234.41,135.19 234.85,135.19 235.3,135.19 235.74,135.19 236.18,135.19 236.63,135.19 237.07,135.19 237.51,135.19 237.96,135.19 238.4,135.19 238.84,135.19 239.29,135.19 239.73,135.19" fill="none" stroke="#e81ee8" stroke-width="1.2" stroke-linejoin="round" />
<circle cx="62.33" cy="135.19" r="1.4" fill="#e81ee8"/>
<circle cx="64.1" cy="135.19" r="1.4" fill="#e81ee8"/>
<circle cx="65.88" cy="135.18" r="1.4" fill="#e81ee8"/>
<circle cx="67.65" cy="135.18" r="1.4" fill="#e81ee8"/>
<circle cx="69.43" cy="135.17" r="1.4" fill="#e81ee8"/>
<circle cx="71.2" cy="135.16" r="1.4" fill="#e81ee8"/>
<circle cx="72.97" cy="135.15" r="1.4" fill="#e81ee8"/>
<circle cx="74.75" cy="135.14" r="1.4" fill="#e81ee8"/>
<circle cx="76.52" cy="135.12" r="1.4" fill="#e81ee8"/>
<circle cx="78.3" cy="135.1" r="1.4" fill="#e81ee8"/>
<circle cx="80.07" cy="135.08" r="1.4" fill="#e81ee8"/>
<circle cx="81.84" cy="135.05" r="1.4" fill="#e81ee8"/>
<circle cx="83.62" cy="135.01" r="1.4" fill="#e81ee8"/>
<circle cx="85.39" cy="134.96" r="1.4" fill="#e81ee8"/>
<circle cx="87.17" cy="134.91" r="1.4" fill="#e81ee8"/>
<circle cx="88.94" cy="134.84" r="1.4" fill="#e81ee8"/>
<circle cx="90.71" cy="134.76" r="1.4" fill="#e81ee8"/>
<circle cx="92.49" cy="134.65" r="1.4" fill="#e81ee8"/>
<circle cx="94.26" cy="134.53" r="1.4" fill="#e81ee8"/>
<circle cx="96.04" cy="134.38" r="1.4" fill="#e81ee8"/>
<circle cx="97.81" cy="134.19" r="1.4" fill="#e81ee8"/>
<circle cx="99.58" cy="133.96" r="1.4" fill="#e81ee8"/>
<circle cx="101.36" cy="133.67" r="1.4" fill="#e81ee8"/>
<circle cx="103.13" cy="133.32" r="1.4" fill="#e81ee8"/>
<circle cx="104.91" cy="132.88" r="1.4" fill="#e81ee8"/>
<circle cx="106.68" cy="132.33" r="1.4" fill="#e81ee8"/>
<circle cx="108.45" cy="131.64" r="1.4" fill="#e81ee8"/>
<circle cx="110.23" cy="130.75" r="1.4" fill="#e81ee8"/>
<circle cx="112" cy="129.57" r="1.4" fill="#e81ee8"/>
<circle cx="113.78" cy="127.93" r="1.4" fill="#e81ee8"/>
<circle cx="115.55" cy="125.32" r="1.4" fill="#e81ee8"/>
<circle cx="117.32" cy="120.64" r="1.4" fill="#e81ee8"/>
<circle cx="119.1" cy="111.78" r="1.4" fill="#e81ee8"/>
<circle cx="120.87" cy="95.96" r="1.4" fill="#e81ee8"/>
<circle cx="122.65" cy="71.74" r="1.4" fill="#e81ee8"/>
<circle cx="124.42" cy="42.21" r="1.4" fill="#e81ee8"/>
<circle cx="126.19" cy="16.56" r="1.4" fill="#e81ee8"/>
<circle cx="127.97" cy="6.22" r="1.4" fill="#e81ee8"/>
<circle cx="129.74" cy="13.5" r="1.4" fill="#e81ee8"/>
<circle cx="131.52" cy="32.51" r="1.4" fill="#e81ee8"/>
<circle cx="133.29" cy="56.56" r="1.4" fill="#e81ee8"/>
<circle cx="135.06" cy="78.98" r="1.4" fill="#e81ee8"/>
<circle cx="136.84" cy="96.07" r="1.4" fill="#e81ee8"/>
<circle cx="138.61" cy="107.37" r="1.4" fill="#e81ee8"/>
<circle cx="140.39" cy="114.3" r="1.4" fill="#e81ee8"/>
<circle cx="142.16" cy="118.56" r="1.4" fill="#e81ee8"/>
<circle cx="143.93" cy="121.41" r="1.4" fill="#e81ee8"/>
<circle cx="145.71" cy="123.52" r="1.4" fill="#e81ee8"/>
<circle cx="147.48" cy="125.2" r="1.4" fill="#e81ee8"/>
<circle cx="149.26" cy="126.59" r="1.4" fill="#e81ee8"/>
<circle cx="151.03" cy="127.77" r="1.4" fill="#e81ee8"/>
<circle cx="152.8" cy="128.76" r="1.4" fill="#e81ee8"/>
<circle cx="154.58" cy="129.6" r="1.4" fill="#e81ee8"/>
<circle cx="156.35" cy="130.32" r="1.4" fill="#e81ee8"/>
<circle cx="158.13" cy="130.94" r="1.4" fill="#e81ee8"/>
<circle cx="159.9" cy="131.47" r="1.4" fill="#e81ee8"/>
<circle cx="161.67" cy="131.93" r="1.4" fill="#e81ee8"/>
<circle cx="163.45" cy="132.33" r="1.4" fill="#e81ee8"/>
<circle cx="165.22" cy="132.67" r="1.4" fill="#e81ee8"/>
<circle cx="167" cy="132.97" r="1.4" fill="#e81ee8"/>
<circle cx="168.77" cy="133.24" r="1.4" fill="#e81ee8"/>
<circle cx="170.54" cy="133.47" r="1.4" fill="#e81ee8"/>
<circle cx="172.32" cy="133.67" r="1.4" fill="#e81ee8"/>
<circle cx="174.09" cy="133.85" r="1.4" fill="#e81ee8"/>
<circle cx="175.87" cy="134" r="1.4" fill="#e81ee8"/>
<circle cx="177.64" cy="134.14" r="1.4" fill="#e81ee8"/>
<circle cx="179.41" cy="134.26" r="1.4" fill="#e81ee8"/>
<circle cx="181.19" cy="134.37" r="1.4" fill="#e81ee8"/>
<circle cx="182.96" cy="134.47" r="1.4" fill="#e81ee8"/>
<circle cx="184.74" cy="134.55" r="1.4" fill="#e81ee8"/>
<circle cx="186.51" cy="134.63" r="1.4" fill="#e81ee8"/>
<circle cx="188.28" cy="134.69" r="1.4" fill="#e81ee8"/>
<circle cx="190.06" cy="134.75" r="1.4" fill="#e81ee8"/>
<circle cx="191.83" cy="134.81" r="1.4" fill="#e81ee8"/>
<circle cx="193.61" cy="134.85" r="1.4" fill="#e81ee8"/>
<circle cx="195.38" cy="134.89" r="1.4" fill="#e81ee8"/>
<circle cx="197.15" cy="134.93" r="1.4" fill="#e81ee8"/>
<circle cx="198.93" cy="134.96" r="1.4" fill="#e81ee8"/>
<circle cx="200.7" cy="134.99" r="1.4" fill="#e81ee8"/>
<circle cx="202.48" cy="135.02" r="1.4" fill="#e81ee8"/>
<circle cx="204.25" cy="135.04" r="1.4" fill="#e81ee8"/>
<circle cx="206.02" cy="135.06" r="1.4" fill="#e81ee8"/>
<circle cx="207.8" cy="135.08" r="1.4" fill="#e81ee8"/>
<circle cx="209.57" cy="135.09" r="1.4" fill="#e81ee8"/>
<circle cx="211.35" cy="135.11" r="1.4" fill="#e81ee8"/>
<circle cx="213.12" cy="135.12" r="1.4" fill="#e81ee8"/>
<circle cx="214.89" cy="135.13" r="1.4" fill="#e81ee8"/>
<circle cx="216.67" cy="135.14" r="1.4" fill="#e81ee8"/>
<circle cx="218.44" cy="135.15" r="1.4" fill="#e81ee8"/>
<circle cx="220.22" cy="135.15" r="1.4" fill="#e81ee8"/>
<circle cx="221.99" cy="135.16" r="1.4" fill="#e81ee8"/>
<circle cx="223.76" cy="135.16" r="1.4" fill="#e81ee8"/>
<circle cx="225.54" cy="135.17" r="1.4" fill="#e81ee8"/>
<circle cx="227.31" cy="135.17" r="1.4" fill="#e81ee8"/>
<circle cx="229.09" cy="135.18" r="1.4" fill="#e81ee8"/>
<circle cx="230.86" cy="135.18" r="1.4" fill="#e81ee8"/>
<circle cx="232.63" cy="135.18" r="1.4" fill="#e81ee8"/>
<circle cx="234.41" cy="135.19" r="1.4" fill="#e81ee8"/>
<circle cx="236.18" cy="135.19" r="1.4" fill="#e81ee8"/>
<circle cx="237.96" cy="135.19" r="1.4" fill="#e81ee8"/>
<circle cx="239.73" cy="135.19" r="1.4" fill="#e81ee8"/>
<polyline points="62.33,135.19 62.77,135.19 63.22,135.19 63.66,135.19 64.1,135.19 64.55,135.19 64.99,135.19 65.43,135.19 65.88,135.19 66.32,135.19 66.77,135.19 67.21,135.19 67.65,135.18 68.1,135.18 68.54,135.18 68.98,135.18 69.43,135.18 69.87,135.18 70.31,135.18 70.76,135.18 71.2,135.18 71.64,135.17 72.09,135.17 72.53,135.17 72.97,135.17 73.42,135.17 73.86,135.16 74.3,135.16 74.75,135.16 75.19,135.16 75.64,135.16 76.08,135.15 76.52,135.15 76.97,135.15 77.41,135.14 77.85,135.14 78.3,135.14 78.74,135.13 79.18,135.13 79.63,135.13 80.07,135.12 80.51,135.12 80.96,135.11 81.4,135.11 81.84,135.1 82.29,135.1 82.73,135.09 83.17,135.09 83.62,135.08 84.06,135.07 84.5,135.07 84.95,135.06 85.39,135.05 85.84,135.04 86.28,135.03 86.72,135.02 87.17,135.01 87.61,135 88.05,134.99 88.5,134.98 88.94,134.97 89.38,134.96 89.83,134.95 90.27,134.93 90.71,134.92 91.16,134.9 91.6,134.89 92.04,134.87 92.49,134.85 92.93,134.84 93.38,134.82 93.82,134.8 94.26,134.77 94.71,134.75 95.15,134.73 95.59,134.7 96.04,134.68 96.48,134.65 96.92,134.62 97.37,134.59 97.81,134.56 98.25,134.53 98.7,134.49 99.14,134.45 99.58,134.41 100.03,134.37 100.47,134.33 100.91,134.28 101.36,134.23 101.8,134.18 102.25,134.13 102.69,134.07 103.13,134.01 103.58,133.95 104.02,133.88 104.46,133.81 104.91,133.73 105.35,133.65 105.79,133.57 106.24,133.48 106.68,133.39 107.12,133.29 107.57,133.18 108.01,133.07 108.45,132.95 108.9,132.82 109.34,132.68 109.78,132.54 110.23,132.38 110.67,132.22 111.12,132.04 111.56,131.85 112,131.64 112.45,131.41 112.89,131.17 113.33,130.89 113.78,130.59 114.22,130.26 114.66,129.88 115.11,129.44 115.55,128.94 115.99,128.37 116.44,127.7 116.88,126.91 117.32,125.98 117.77,124.89 118.21,123.61 118.65,122.12 119.1,120.37 119.54,118.34 119.99,116.01 120.43,113.35 120.87,110.35 121.32,107 121.76,103.31 122.2,99.31 122.65,95.01 123.09,90.49 123.53,85.8 123.98,81.05 124.42,76.32 124.86,71.73 125.31,67.41 125.75,63.48 126.19,60.07 126.64,57.29 127.08,55.22 127.52,53.95 127.97,53.52 128.41,53.82 128.86,54.71 129.3,56.16 129.74,58.13 130.19,60.59 130.63,63.46 131.07,66.68 131.52,70.17 131.96,73.87 132.4,77.68 132.85,81.55 133.29,85.4 133.73,89.18 134.18,92.83 134.62,96.31 135.06,99.6 135.51,102.66 135.95,105.49 136.39,108.08 136.84,110.42 137.28,112.53 137.73,114.42 138.17,116.09 138.61,117.58 139.06,118.89 139.5,120.05 139.94,121.06 140.39,121.96 140.83,122.76 141.27,123.47 141.72,124.1 142.16,124.66 142.6,125.18 143.05,125.64 143.49,126.07 143.93,126.47 144.38,126.83 144.82,127.18 145.26,127.5 145.71,127.8 146.15,128.09 146.59,128.36 147.04,128.62 147.48,128.87 147.93,129.1 148.37,129.33 148.81,129.54 149.26,129.75 149.7,129.95 150.14,130.14 150.59,130.32 151.03,130.49 151.47,130.66 151.92,130.82 152.36,130.97 152.8,131.12 153.25,131.26 153.69,131.4 154.13,131.53 154.58,131.65 155.02,131.78 155.47,131.89 155.91,132 156.35,132.11 156.8,132.21 157.24,132.31 157.68,132.41 158.13,132.5 158.57,132.59 159.01,132.68 159.46,132.76 159.9,132.84 160.34,132.91 160.79,132.99 161.23,133.06 161.67,133.13 162.12,133.19 162.56,133.26 163,133.32 163.45,133.38 163.89,133.44 164.34,133.49 164.78,133.55 165.22,133.6 165.67,133.65 166.11,133.7 166.55,133.74 167,133.79 167.44,133.83 167.88,133.88 168.33,133.92 168.77,133.96 169.21,133.99 169.66,134.03 170.1,134.07 170.54,134.1 170.99,134.14 171.43,134.17 171.87,134.2 172.32,134.23 172.76,134.26 173.2,134.29 173.65,134.32 174.09,134.34 174.54,134.37 174.98,134.39 175.42,134.42 175.87,134.44 176.31,134.46 176.75,134.49 177.2,134.51 177.64,134.53 178.08,134.55 178.53,134.57 178.97,134.59 179.41,134.61 179.86,134.63 180.3,134.64 180.74,134.66 181.19,134.68 181.63,134.69 182.07,134.71 182.52,134.72 182.96,134.74 183.41,134.75 183.85,134.76 184.29,134.78 184.74,134.79 185.18,134.8 185.62,134.81 186.07,134.83 186.51,134.84 186.95,134.85 187.4,134.86 187.84,134.87 188.28,134.88 188.73,134.89 189.17,134.9 189.61,134.91 190.06,134.92 190.5,134.93 190.94,134.93 191.39,134.94 191.83,134.95 192.28,134.96 192.72,134.97 193.16,134.97 193.61,134.98 194.05,134.99 194.49,134.99 194.94,135 195.38,135.01 195.82,135.01 196.27,135.02 196.71,135.02 197.15,135.03 197.6,135.03 198.04,135.04 198.48,135.04 198.93,135.05 199.37,135.05 199.81,135.06 200.26,135.06 200.7,135.07 201.15,135.07 201.59,135.08 202.03,135.08 202.48,135.08 202.92,135.09 203.36,135.09 203.81,135.09 204.25,135.1 204.69,135.1 205.14,135.1 205.58,135.11 206.02,135.11 206.47,135.11 206.91,135.12 207.35,135.12 207.8,135.12 208.24,135.12 208.69,135.13 209.13,135.13 209.57,135.13 210.02,135.13 210.46,135.14 210.9,135.14 211.35,135.14 211.79,135.14 212.23,135.14 212.68,135.15 213.12,135.15 213.56,135.15 214.01,135.15 214.45,135.15 214.89,135.15 215.34,135.16 215.78,135.16 216.22,135.16 216.67,135.16 217.11,135.16 217.56,135.16 218,135.16 218.44,135.17 218.89,135.17 219.33,135.17 219.77,135.17 220.22,135.17 220.66,135.17 221.1,135.17 221.55,135.17 221.99,135.17 222.43,135.17 222.88,135.18 223.32,135.18 223.76,135.18 224.21,135.18 224.65,135.18 225.09,135.18 225.54,135.18 225.98,135.18 226.43,135.18 226.87,135.18 227.31,135.18 227.76,135.18 228.2,135.18 228.64,135.18 229.09,135.19 229.53,135.19 229.97,135.19 230.42,135.19 230.86,135.19 231.3,135.19 231.75,135.19 232.19,135.19 232.63,135.19 233.08,135.19 233.52,135.19 233.96,135.19 234.41,135.19 234.85,135.19 235.3,135.19 235.74,135.19 236.18,135.19 236.63,135.19 237.07,135.19 237.51,135.19 237.96,135.19 238.4,135.19 238.84,135.19 239.29,135.19 239.73,135.19" fill="none" stroke="#d8102e" stroke-width="1.2" stroke-linejoin="round" />
<circle cx="62.33" cy="135.19" r="1.4" fill="#d8102e"/>
<circle cx="64.1" cy="135.19" r="1.4" fill="#d8102e"/>
<circle cx="65.88" cy="135.19" r="1.4" fill="#d8102e"/>
<circle cx="67.65" cy="135.18" r="1.4" fill="#d8102e"/>
<circle cx="69.43" cy="135.18" r="1.4" fill="#d8102e"/>
<circle cx="71.2" cy="135.18" r="1.4" fill="#d8102e"/>
<circle cx="72.97" cy="135.17" r="1.4" fill="#d8102e"/>
<circle cx="74.75" cy="135.16" r="1.4" fill="#d8102e"/>
<circle cx="76.52" cy="135.15" r="1.4" fill="#d8102e"/>
<circle cx="78.3" cy="135.14" r="1.4" fill="#d8102e"/>
<circle cx="80.07" cy="135.12" r="1.4" fill="#d8102e"/>
<circle cx="81.84" cy="135.1" r="1.4" fill="#d8102e"/>
<circle cx="83.62" cy="135.08" r="1.4" fill="#d8102e"/>
<circle cx="85.39" cy="135.05" r="1.4" fill="#d8102e"/>
<circle cx="87.17" cy="135.01" r="1.4" fill="#d8102e"/>
<circle cx="88.94" cy="134.97" r="1.4" fill="#d8102e"/>
<circle cx="90.71" cy="134.92" r="1.4" fill="#d8102e"/>
<circle cx="92.49" cy="134.85" r="1.4" fill="#d8102e"/>
<circle cx="94.26" cy="134.77" r="1.4" fill="#d8102e"/>
<circle cx="96.04" cy="134.68" r="1.4" fill="#d8102e"/>
<circle cx="97.81" cy="134.56" r="1.4" fill="#d8102e"/>
<circle cx="99.58" cy="134.41" r="1.4" fill="#d8102e"/>
<circle cx="101.36" cy="134.23" r="1.4" fill="#d8102e"/>
<circle cx="103.13" cy="134.01" r="1.4" fill="#d8102e"/>
<circle cx="104.91" cy="133.73" r="1.4" fill="#d8102e"/>
<circle cx="106.68" cy="133.39" r="1.4" fill="#d8102e"/>
<circle cx="108.45" cy="132.95" r="1.4" fill="#d8102e"/>
<circle cx="110.23" cy="132.38" r="1.4" fill="#d8102e"/>
<circle cx="112" cy="131.64" r="1.4" fill="#d8102e"/>
<circle cx="113.78" cy="130.59" r="1.4" fill="#d8102e"/>
<circle cx="115.55" cy="128.94" r="1.4" fill="#d8102e"/>
<circle cx="117.32" cy="125.98" r="1.4" fill="#d8102e"/>
<circle cx="119.1" cy="120.37" r="1.4" fill="#d8102e"/>
<circle cx="120.87" cy="110.35" r="1.4" fill="#d8102e"/>
<circle cx="122.65" cy="95.01" r="1.4" fill="#d8102e"/>
<circle cx="124.42" cy="76.32" r="1.4" fill="#d8102e"/>
<circle cx="126.19" cy="60.07" r="1.4" fill="#d8102e"/>
<circle cx="127.97" cy="53.52" r="1.4" fill="#d8102e"/>
<circle cx="129.74" cy="58.13" r="1.4" fill="#d8102e"/>
<circle cx="131.52" cy="70.17" r="1.4" fill="#d8102e"/>
<circle cx="133.29" cy="85.4" r="1.4" fill="#d8102e"/>
<circle cx="135.06" cy="99.6" r="1.4" fill="#d8102e"/>
<circle cx="136.84" cy="110.42" r="1.4" fill="#d8102e"/>
<circle cx="138.61" cy="117.58" r="1.4" fill="#d8102e"/>
<circle cx="140.39" cy="121.96" r="1.4" fill="#d8102e"/>
<circle cx="142.16" cy="124.66" r="1.4" fill="#d8102e"/>
<circle cx="143.93" cy="126.47" r="1.4" fill="#d8102e"/>
<circle cx="145.71" cy="127.8" r="1.4" fill="#d8102e"/>
<circle cx="147.48" cy="128.87" r="1.4" fill="#d8102e"/>
<circle cx="149.26" cy="129.75" r="1.4" fill="#d8102e"/>
<circle cx="151.03" cy="130.49" r="1.4" fill="#d8102e"/>
<circle cx="152.8" cy="131.12" r="1.4" fill="#d8102e"/>
<circle cx="154.58" cy="131.65" r="1.4" fill="#d8102e"/>
<circle cx="156.35" cy="132.11" r="1.4" fill="#d8102e"/>
<circle cx="158.13" cy="132.5" r="1.4" fill="#d8102e"/>
<circle cx="159.9" cy="132.84" r="1.4" fill="#d8102e"/>
<circle cx="161.67" cy="133.13" r="1.4" fill="#d8102e"/>
<circle cx="163.45" cy="133.38" r="1.4" fill="#d8102e"/>
<circle cx="165.22" cy="133.6" r="1.4" fill="#d8102e"/>
<circle cx="167" cy="133.79" r="1.4" fill="#d8102e"/>
<circle cx="168.77" cy="133.96" r="1.4" fill="#d8102e"/>
<circle cx="170.54" cy="134.1" r="1.4" fill="#d8102e"/>
<circle cx="172.32" cy="134.23" r="1.4" fill="#d8102e"/>
<circle cx="174.09" cy="134.34" r="1.4" fill="#d8102e"/>
<circle cx="175.87" cy="134.44" r="1.4" fill="#d8102e"/>
<circle cx="177.64" cy="134.53" r="1.4" fill="#d8102e"/>
<circle cx="179.41" cy="134.61" r="1.4" fill="#d8102e"/>
<circle cx="181.19" cy="134.68" r="1.4" fill="#d8102e"/>
<circle cx="182.96" cy="134.74" r="1.4" fill="#d8102e"/>
<circle cx="184.74" cy="134.79" r="1.4" fill="#d8102e"/>
<circle cx="186.51" cy="134.84" r="1.4" fill="#d8102e"/>
<circle cx="188.28" cy="134.88" r="1.4" fill="#d8102e"/>
<circle cx="190.06" cy="134.92" r="1.4" fill="#d8102e"/>
<circle cx="191.83" cy="134.95" r="1.4" fill="#d8102e"/>
<circle cx="193.61" cy="134.98" r="1.4" fill="#d8102e"/>
<circle cx="195.38" cy="135.01" r="1.4" fill="#d8102e"/>
<circle cx="197.15" cy="135.03" r="1.4" fill="#d8102e"/>
<circle cx="198.93" cy="135.05" r="1.4" fill="#d8102e"/>
<circle cx="200.7" cy="135.07" r="1.4" fill="#d8102e"/>
<circle cx="202.48" cy="135.08" r="1.4" fill="#d8102e"/>
<circle cx="204.25" cy="135.1" r="1.4" fill="#d8102e"/>
<circle cx="206.02" cy="135.11" r="1.4" fill="#d8102e"/>
<circle cx="207.8" cy="135.12" r="1.4" fill="#d8102e"/>
<circle cx="209.57" cy="135.13" r="1.4" fill="#d8102e"/>
<circle cx="211.35" cy="135.14" r="1.4" fill="#d8102e"/>
<circle cx="213.12" cy="135.15" r="1.4" fill="#d8102e"/>
<circle cx="214.89" cy="135.15" r="1.4" fill="#d8102e"/>
<circle cx="216.67" cy="135.16" r="1.4" fill="#d8102e"/>
<circle cx="218.44" cy="135.17" r="1.4" fill="#d8102e"/>
<circle cx="220.22" cy="135.17" r="1.4" fill="#d8102e"/>
<circle cx="221.99" cy="135.17" r="1.4" fill="#d8102e"/>
<circle cx="223.76" cy="135.18" r="1.4" fill="#d8102e"/>
<circle cx="225.54" cy="135.18" r="1.4" fill="#d8102e"/>
<circle cx="227.31" cy="135.18" r="1.4" fill="#d8102e"/>
<circle cx="229.09" cy="135.19" r="1.4" fill="#d8102e"/>
<circle cx="230.86" cy="135.19" r="1.4" fill="#d8102e"/>
<circle cx="232.63" cy="135.19" r="1.4" fill="#d8102e"/>
<circle cx="234.41" cy="135.19" r="1.4" fill="#d8102e"/>
<circle cx="236.18" cy="135.19" r="1.4" fill="#d8102e"/>
<circle cx="237.96" cy="135.19" r="1.4" fill="#d8102e"/>
<circle cx="239.73" cy="135.19" r="1.4" fill="#d8102e"/>
<polyline points="62.33,135.2 62.77,135.2 63.22,135.19 63.66,135.19 64.1,135.19 64.55,135.19 64.99,135.19 65.43,135.19 65.88,135.19 66.32,135.19 66.77,135.19 67.21,135.19 67.65,135.19 68.1,135.19 68.54,135.19 68.98,135.19 69.43,135.19 69.87,135.19 70.31,135.19 70.76,135.19 71.2,135.18 71.64,135.18 72.09,135.18 72.53,135.18 72.97,135.18 73.42,135.18 73.86,135.18 74.3,135.18 74.75,135.18 75.19,135.17 75.64,135.17 76.08,135.17 76.52,135.17 76.97,135.17 77.41,135.17 77.85,135.16 78.3,135.16 78.74,135.16 79.18,135.16 79.63,135.15 80.07,135.15 80.51,135.15 80.96,135.15 81.4,135.14 81.84,135.14 82.29,135.14 82.73,135.13 83.17,135.13 83.62,135.12 84.06,135.12 84.5,135.12 84.95,135.11 85.39,135.11 85.84,135.1 86.28,135.1 86.72,135.09 87.17,135.08 87.61,135.08 88.05,135.07 88.5,135.06 88.94,135.06 89.38,135.05 89.83,135.04 90.27,135.03 90.71,135.02 91.16,135.01 91.6,135.01 92.04,134.99 92.49,134.98 92.93,134.97 93.38,134.96 93.82,134.95 94.26,134.93 94.71,134.92 95.15,134.91 95.59,134.89 96.04,134.87 96.48,134.86 96.92,134.84 97.37,134.82 97.81,134.8 98.25,134.78 98.7,134.76 99.14,134.73 99.58,134.71 100.03,134.68 100.47,134.66 100.91,134.63 101.36,134.6 101.8,134.56 102.25,134.53 102.69,134.49 103.13,134.46 103.58,134.42 104.02,134.38 104.46,134.33 104.91,134.28 105.35,134.23 105.79,134.18 106.24,134.13 106.68,134.07 107.12,134 107.57,133.94 108.01,133.87 108.45,133.79 108.9,133.71 109.34,133.63 109.78,133.54 110.23,133.44 110.67,133.34 111.12,133.22 111.56,133.11 112,132.98 112.45,132.83 112.89,132.68 113.33,132.51 113.78,132.32 114.22,132.11 114.66,131.88 115.11,131.6 115.55,131.29 115.99,130.93 116.44,130.51 116.88,130.02 117.32,129.44 117.77,128.76 118.21,127.97 118.65,127.03 119.1,125.94 119.54,124.67 119.99,123.22 120.43,121.56 120.87,119.68 121.32,117.59 121.76,115.29 122.2,112.79 122.65,110.11 123.09,107.28 123.53,104.35 123.98,101.38 124.42,98.43 124.86,95.57 125.31,92.87 125.75,90.42 126.19,88.29 126.64,86.55 127.08,85.26 127.52,84.46 127.97,84.2 128.41,84.38 128.86,84.94 129.3,85.84 129.74,87.08 130.19,88.61 130.63,90.4 131.07,92.41 131.52,94.59 131.96,96.9 132.4,99.28 132.85,101.7 133.29,104.1 133.73,106.46 134.18,108.74 134.62,110.92 135.06,112.97 135.51,114.88 135.95,116.65 136.39,118.26 136.84,119.73 137.28,121.04 137.73,122.22 138.17,123.27 138.61,124.2 139.06,125.01 139.5,125.74 139.94,126.37 140.39,126.93 140.83,127.43 141.27,127.87 141.72,128.27 142.16,128.62 142.6,128.94 143.05,129.23 143.49,129.5 143.93,129.75 144.38,129.98 144.82,130.19 145.26,130.39 145.71,130.58 146.15,130.76 146.59,130.93 147.04,131.09 147.48,131.25 147.93,131.39 148.37,131.53 148.81,131.67 149.26,131.8 149.7,131.92 150.14,132.04 150.59,132.15 151.03,132.26 151.47,132.36 151.92,132.46 152.36,132.56 152.8,132.65 153.25,132.74 153.69,132.83 154.13,132.91 154.58,132.99 155.02,133.06 155.47,133.13 155.91,133.2 156.35,133.27 156.8,133.34 157.24,133.4 157.68,133.46 158.13,133.52 158.57,133.57 159.01,133.62 159.46,133.68 159.9,133.73 160.34,133.77 160.79,133.82 161.23,133.86 161.67,133.91 162.12,133.95 162.56,133.99 163,134.03 163.45,134.06 163.89,134.1 164.34,134.13 164.78,134.17 165.22,134.2 165.67,134.23 166.11,134.26 166.55,134.29 167,134.32 167.44,134.35 167.88,134.37 168.33,134.4 168.77,134.42 169.21,134.45 169.66,134.47 170.1,134.49 170.54,134.51 170.99,134.54 171.43,134.56 171.87,134.58 172.32,134.59 172.76,134.61 173.2,134.63 173.65,134.65 174.09,134.66 174.54,134.68 174.98,134.7 175.42,134.71 175.87,134.73 176.31,134.74 176.75,134.75 177.2,134.77 177.64,134.78 178.08,134.79 178.53,134.81 178.97,134.82 179.41,134.83 179.86,134.84 180.3,134.85 180.74,134.86 181.19,134.87 181.63,134.88 182.07,134.89 182.52,134.9 182.96,134.91 183.41,134.92 183.85,134.93 184.29,134.94 184.74,134.94 185.18,134.95 185.62,134.96 186.07,134.97 186.51,134.97 186.95,134.98 187.4,134.99 187.84,134.99 188.28,135 188.73,135.01 189.17,135.01 189.61,135.02 190.06,135.02 190.5,135.03 190.94,135.03 191.39,135.04 191.83,135.04 192.28,135.05 192.72,135.05 193.16,135.06 193.61,135.06 194.05,135.07 194.49,135.07 194.94,135.07 195.38,135.08 195.82,135.08 196.27,135.09 196.71,135.09 197.15,135.09 197.6,135.1 198.04,135.1 198.48,135.1 198.93,135.11 199.37,135.11 199.81,135.11 200.26,135.11 200.7,135.12 201.15,135.12 201.59,135.12 202.03,135.12 202.48,135.13 202.92,135.13 203.36,135.13 203.81,135.13 204.25,135.14 204.69,135.14 205.14,135.14 205.58,135.14 206.02,135.14 206.47,135.15 206.91,135.15 207.35,135.15 207.8,135.15 208.24,135.15 208.69,135.15 209.13,135.16 209.57,135.16 210.02,135.16 210.46,135.16 210.9,135.16 211.35,135.16 211.79,135.16 212.23,135.16 212.68,135.17 213.12,135.17 213.56,135.17 214.01,135.17 214.45,135.17 214.89,135.17 215.34,135.17 215.78,135.17 216.22,135.17 216.67,135.18 217.11,135.18 217.56,135.18 218,135.18 218.44,135.18 218.89,135.18 219.33,135.18 219.77,135.18 220.22,135.18 220.66,135.18 221.1,135.18 221.55,135.18 221.99,135.18 222.43,135.18 222.88,135.18 223.32,135.19 223.76,135.19 224.21,135.19 224.65,135.19 225.09,135.19 225.54,135.19 225.98,135.19 226.43,135.19 226.87,135.19 227.31,135.19 227.76,135.19 228.2,135.19 228.64,135.19 229.09,135.19 229.53,135.19 229.97,135.19 230.42,135.19 230.86,135.19 231.3,135.19 231.75,135.19 232.19,135.19 232.63,135.19 233.08,135.19 233.52,135.19 233.96,135.19 234.41,135.19 234.85,135.19 235.3,135.19 235.74,135.19 236.18,135.19 236.63,135.2 237.07,135.2 237.51,135.2 237.96,135.2 238.4,135.2 238.84,135.2 239.29,135.2 239.73,135.2" fill="none" stroke="#f0207e" stroke-width="1.2" stroke-linejoin="round" />
<circle cx="62.33" cy="135.2" r="1.3" fill="#f0207e"/>
<circle cx="64.1" cy="135.19" r="1.3" fill="#f0207e"/>
<circle cx="65.88" cy="135.19" r="1.3" fill="#f0207e"/>
<circle cx="67.65" cy="135.19" r="1.3" fill="#f0207e"/>
<circle cx="69.43" cy="135.19" r="1.3" fill="#f0207e"/>
<circle cx="71.2" cy="135.18" r="1.3" fill="#f0207e"/>
<circle cx="72.97" cy="135.18" r="1.3" fill="#f0207e"/>
<circle cx="74.75" cy="135.18" r="1.3" fill="#f0207e"/>
<circle cx="76.52" cy="135.17" r="1.3" fill="#f0207e"/>
<circle cx="78.3" cy="135.16" r="1.3" fill="#f0207e"/>
<circle cx="80.07" cy="135.15" r="1.3" fill="#f0207e"/>
<circle cx="81.84" cy="135.14" r="1.3" fill="#f0207e"/>
<circle cx="83.62" cy="135.12" r="1.3" fill="#f0207e"/>
<circle cx="85.39" cy="135.11" r="1.3" fill="#f0207e"/>
<circle cx="87.17" cy="135.08" r="1.3" fill="#f0207e"/>
<circle cx="88.94" cy="135.06" r="1.3" fill="#f0207e"/>
<circle cx="90.71" cy="135.02" r="1.3" fill="#f0207e"/>
<circle cx="92.49" cy="134.98" r="1.3" fill="#f0207e"/>
<circle cx="94.26" cy="134.93" r="1.3" fill="#f0207e"/>
<circle cx="96.04" cy="134.87" r="1.3" fill="#f0207e"/>
<circle cx="97.81" cy="134.8" r="1.3" fill="#f0207e"/>
<circle cx="99.58" cy="134.71" r="1.3" fill="#f0207e"/>
<circle cx="101.36" cy="134.6" r="1.3" fill="#f0207e"/>
<circle cx="103.13" cy="134.46" r="1.3" fill="#f0207e"/>
<circle cx="104.91" cy="134.28" r="1.3" fill="#f0207e"/>
<circle cx="106.68" cy="134.07" r="1.3" fill="#f0207e"/>
<circle cx="108.45" cy="133.79" r="1.3" fill="#f0207e"/>
<circle cx="110.23" cy="133.44" r="1.3" fill="#f0207e"/>
<circle cx="112" cy="132.98" r="1.3" fill="#f0207e"/>
<circle cx="113.78" cy="132.32" r="1.3" fill="#f0207e"/>
<circle cx="115.55" cy="131.29" r="1.3" fill="#f0207e"/>
<circle cx="117.32" cy="129.44" r="1.3" fill="#f0207e"/>
<circle cx="119.1" cy="125.94" r="1.3" fill="#f0207e"/>
<circle cx="120.87" cy="119.68" r="1.3" fill="#f0207e"/>
<circle cx="122.65" cy="110.11" r="1.3" fill="#f0207e"/>
<circle cx="124.42" cy="98.43" r="1.3" fill="#f0207e"/>
<circle cx="126.19" cy="88.29" r="1.3" fill="#f0207e"/>
<circle cx="127.97" cy="84.2" r="1.3" fill="#f0207e"/>
<circle cx="129.74" cy="87.08" r="1.3" fill="#f0207e"/>
<circle cx="131.52" cy="94.59" r="1.3" fill="#f0207e"/>
<circle cx="133.29" cy="104.1" r="1.3" fill="#f0207e"/>
<circle cx="135.06" cy="112.97" r="1.3" fill="#f0207e"/>
<circle cx="136.84" cy="119.73" r="1.3" fill="#f0207e"/>
<circle cx="138.61" cy="124.2" r="1.3" fill="#f0207e"/>
<circle cx="140.39" cy="126.93" r="1.3" fill="#f0207e"/>
<circle cx="142.16" cy="128.62" r="1.3" fill="#f0207e"/>
<circle cx="143.93" cy="129.75" r="1.3" fill="#f0207e"/>
<circle cx="145.71" cy="130.58" r="1.3" fill="#f0207e"/>
<circle cx="147.48" cy="131.25" r="1.3" fill="#f0207e"/>
<circle cx="149.26" cy="131.8" r="1.3" fill="#f0207e"/>
<circle cx="151.03" cy="132.26" r="1.3" fill="#f0207e"/>
<circle cx="152.8" cy="132.65" r="1.3" fill="#f0207e"/>
<circle cx="154.58" cy="132.99" r="1.3" fill="#f0207e"/>
<circle cx="156.35" cy="133.27" r="1.3" fill="#f0207e"/>
<circle cx="158.13" cy="133.52" r="1.3" fill="#f0207e"/>
<circle cx="159.9" cy="133.73" r="1.3" fill="#f0207e"/>
<circle cx="161.67" cy="133.91" r="1.3" fill="#f0207e"/>
<circle cx="163.45" cy="134.06" r="1.3" fill="#f0207e"/>
<circle cx="165.22" cy="134.2" r="1.3" fill="#f0207e"/>
<circle cx="167" cy="134.32" r="1.3" fill="#f0207e"/>
<circle cx="168.77" cy="134.42" r="1.3" fill="#f0207e"/>
<circle cx="170.54" cy="134.51" r="1.3" fill="#f0207e"/>
<circle cx="172.32" cy="134.59" r="1.3" fill="#f0207e"/>
<circle cx="174.09" cy="134.66" r="1.3" fill="#f0207e"/>
<circle cx="175.87" cy="134.73" r="1.3" fill="#f0207e"/>
<circle cx="177.64" cy="134.78" r="1.3" fill="#f0207e"/>
<circle cx="179.41" cy="134.83" r="1.3" fill="#f0207e"/>
<circle cx="181.19" cy="134.87" r="1.3" fill="#f0207e"/>
<circle cx="182.96" cy="134.91" r="1.3" fill="#f0207e"/>
<circle cx="184.74" cy="134.94" r="1.3" fill="#f0207e"/>
<circle cx="186.51" cy="134.97" r="1.3" fill="#f0207e"/>
<circle cx="188.28" cy="135" r="1.3" fill="#f0207e"/>
<circle cx="190.06" cy="135.02" r="1.3" fill="#f0207e"/>
<circle cx="191.83" cy="135.04" r="1.3" fill="#f0207e"/>
<circle cx="193.61" cy="135.06" r="1.3" fill="#f0207e"/>
<circle cx="195.38" cy="135.08" r="1.3" fill="#f0207e"/>
<circle cx="197.15" cy="135.09" r="1.3" fill="#f0207e"/>
<circle cx="198.93" cy="135.11" r="1.3" fill="#f0207e"/>
<circle cx="200.7" cy="135.12" r="1.3" fill="#f0207e"/>
<circle cx="202.48" cy="135.13" r="1.3" fill="#f0207e"/>
<circle cx="204.25" cy="135.14" r="1.3" fill="#f0207e"/>
<circle cx="206.02" cy="135.14" r="1.3" fill="#f0207e"/>
<circle cx="207.8" cy="135.15" r="1.3" fill="#f0207e"/>
<circle cx="209.57" cy="135.16" r="1.3" fill="#f0207e"/>
<circle cx="211.35" cy="135.16" r="1.3" fill="#f0207e"/>
<circle cx="213.12" cy="135.17" r="1.3" fill="#f0207e"/>
<circle cx="214.89" cy="135.17" r="1.3" fill="#f0207e"/>
<circle cx="216.67" cy="135.18" r="1.3" fill="#f0207e"/>
<circle cx="218.44" cy="135.18" r="1.3" fill="#f0207e"/>
<circle cx="220.22" cy="135.18" r="1.3" fill="#f0207e"/>
<circle cx="221.99" cy="135.18" r="1.3" fill="#f0207e"/>
<circle cx="223.76" cy="135.19" r="1.3" fill="#f0207e"/>
<circle cx="225.54" cy="135.19" r="1.3" fill="#f0207e"/>
<circle cx="227.31" cy="135.19" r="1.3" fill="#f0207e"/>
<circle cx="229.09" cy="135.19" r="1.3" fill="#f0207e"/>
<circle cx="230.86" cy="135.19" r="1.3" fill="#f0207e"/>
<circle cx="232.63" cy="135.19" r="1.3" fill="#f0207e"/>
<circle cx="234.41" cy="135.19" r="1.3" fill="#f0207e"/>
<circle cx="236.18" cy="135.19" r="1.3" fill="#f0207e"/>
<circle cx="237.96" cy="135.2" r="1.3" fill="#f0207e"/>
<circle cx="239.73" cy="135.2" r="1.3" fill="#f0207e"/>
<polyline points="62.33,135.2 62.77,135.2 63.22,135.2 63.66,135.2 64.1,135.2 64.55,135.2 64.99,135.2 65.43,135.2 65.88,135.2 66.32,135.2 66.77,135.2 67.21,135.2 67.65,135.19 68.1,135.19 68.54,135.19 68.98,135.19 69.43,135.19 69.87,135.19 70.31,135.19 70.76,135.19 71.2,135.19 71.64,135.19 72.09,135.19 72.53,135.19 72.97,135.19 73.42,135.19 73.86,135.19 74.3,135.19 74.75,135.19 75.19,135.19 75.64,135.19 76.08,135.18 76.52,135.18 76.97,135.18 77.41,135.18 77.85,135.18 78.3,135.18 78.74,135.18 79.18,135.18 79.63,135.18 80.07,135.17 80.51,135.17 80.96,135.17 81.4,135.17 81.84,135.17 82.29,135.17 82.73,135.16 83.17,135.16 83.62,135.16 84.06,135.16 84.5,135.16 84.95,135.15 85.39,135.15 85.84,135.15 86.28,135.15 86.72,135.14 87.17,135.14 87.61,135.14 88.05,135.13 88.5,135.13 88.94,135.12 89.38,135.12 89.83,135.12 90.27,135.11 90.71,135.11 91.16,135.1 91.6,135.1 92.04,135.09 92.49,135.09 92.93,135.08 93.38,135.07 93.82,135.07 94.26,135.06 94.71,135.05 95.15,135.04 95.59,135.04 96.04,135.03 96.48,135.02 96.92,135.01 97.37,135 97.81,134.99 98.25,134.98 98.7,134.97 99.14,134.95 99.58,134.94 100.03,134.93 100.47,134.91 100.91,134.9 101.36,134.88 101.8,134.87 102.25,134.85 102.69,134.83 103.13,134.81 103.58,134.79 104.02,134.77 104.46,134.74 104.91,134.72 105.35,134.69 105.79,134.66 106.24,134.63 106.68,134.6 107.12,134.57 107.57,134.53 108.01,134.5 108.45,134.46 108.9,134.42 109.34,134.37 109.78,134.32 110.23,134.27 110.67,134.22 111.12,134.16 111.56,134.1 112,134.03 112.45,133.95 112.89,133.87 113.33,133.78 113.78,133.68 114.22,133.57 114.66,133.45 115.11,133.31 115.55,133.14 115.99,132.95 116.44,132.73 116.88,132.47 117.32,132.17 117.77,131.81 118.21,131.39 118.65,130.9 119.1,130.32 119.54,129.65 119.99,128.89 120.43,128.01 120.87,127.02 121.32,125.92 121.76,124.71 122.2,123.39 122.65,121.98 123.09,120.49 123.53,118.95 123.98,117.38 124.42,115.83 124.86,114.32 125.31,112.9 125.75,111.61 126.19,110.48 126.64,109.57 127.08,108.89 127.52,108.47 127.97,108.33 128.41,108.43 128.86,108.72 129.3,109.2 129.74,109.85 130.19,110.65 130.63,111.6 131.07,112.66 131.52,113.81 131.96,115.02 132.4,116.28 132.85,117.55 133.29,118.82 133.73,120.06 134.18,121.26 134.62,122.41 135.06,123.49 135.51,124.5 135.95,125.43 136.39,126.28 136.84,127.05 137.28,127.74 137.73,128.36 138.17,128.91 138.61,129.4 139.06,129.83 139.5,130.21 139.94,130.55 140.39,130.85 140.83,131.11 141.27,131.34 141.72,131.55 142.16,131.73 142.6,131.9 143.05,132.06 143.49,132.2 143.93,132.33 144.38,132.45 144.82,132.56 145.26,132.67 145.71,132.77 146.15,132.86 146.59,132.95 147.04,133.04 147.48,133.12 147.93,133.19 148.37,133.27 148.81,133.34 149.26,133.41 149.7,133.47 150.14,133.53 150.59,133.59 151.03,133.65 151.47,133.71 151.92,133.76 152.36,133.81 152.8,133.86 153.25,133.9 153.69,133.95 154.13,133.99 154.58,134.03 155.02,134.07 155.47,134.11 155.91,134.15 156.35,134.18 156.8,134.22 157.24,134.25 157.68,134.28 158.13,134.31 158.57,134.34 159.01,134.37 159.46,134.4 159.9,134.42 160.34,134.45 160.79,134.47 161.23,134.5 161.67,134.52 162.12,134.54 162.56,134.56 163,134.58 163.45,134.6 163.89,134.62 164.34,134.64 164.78,134.66 165.22,134.67 165.67,134.69 166.11,134.71 166.55,134.72 167,134.74 167.44,134.75 167.88,134.76 168.33,134.78 168.77,134.79 169.21,134.8 169.66,134.82 170.1,134.83 170.54,134.84 170.99,134.85 171.43,134.86 171.87,134.87 172.32,134.88 172.76,134.89 173.2,134.9 173.65,134.91 174.09,134.92 174.54,134.93 174.98,134.93 175.42,134.94 175.87,134.95 176.31,134.96 176.75,134.97 177.2,134.97 177.64,134.98 178.08,134.99 178.53,134.99 178.97,135 179.41,135 179.86,135.01 180.3,135.02 180.74,135.02 181.19,135.03 181.63,135.03 182.07,135.04 182.52,135.04 182.96,135.05 183.41,135.05 183.85,135.06 184.29,135.06 184.74,135.07 185.18,135.07 185.62,135.07 186.07,135.08 186.51,135.08 186.95,135.08 187.4,135.09 187.84,135.09 188.28,135.09 188.73,135.1 189.17,135.1 189.61,135.1 190.06,135.11 190.5,135.11 190.94,135.11 191.39,135.12 191.83,135.12 192.28,135.12 192.72,135.12 193.16,135.13 193.61,135.13 194.05,135.13 194.49,135.13 194.94,135.13 195.38,135.14 195.82,135.14 196.27,135.14 196.71,135.14 197.15,135.14 197.6,135.15 198.04,135.15 198.48,135.15 198.93,135.15 199.37,135.15 199.81,135.15 200.26,135.16 200.7,135.16 201.15,135.16 201.59,135.16 202.03,135.16 202.48,135.16 202.92,135.16 203.36,135.16 203.81,135.17 204.25,135.17 204.69,135.17 205.14,135.17 205.58,135.17 206.02,135.17 206.47,135.17 206.91,135.17 207.35,135.17 207.8,135.17 208.24,135.18 208.69,135.18 209.13,135.18 209.57,135.18 210.02,135.18 210.46,135.18 210.9,135.18 211.35,135.18 211.79,135.18 212.23,135.18 212.68,135.18 213.12,135.18 213.56,135.18 214.01,135.18 214.45,135.18 214.89,135.18 215.34,135.19 215.78,135.19 216.22,135.19 216.67,135.19 217.11,135.19 217.56,135.19 218,135.19 218.44,135.19 218.89,135.19 219.33,135.19 219.77,135.19 220.22,135.19 220.66,135.19 221.1,135.19 221.55,135.19 221.99,135.19 222.43,135.19 222.88,135.19 223.32,135.19 223.76,135.19 224.21,135.19 224.65,135.19 225.09,135.19 225.54,135.19 225.98,135.19 226.43,135.19 226.87,135.19 227.31,135.19 227.76,135.19 228.2,135.19 228.64,135.2 229.09,135.2 229.53,135.2 229.97,135.2 230.42,135.2 230.86,135.2 231.3,135.2 231.75,135.2 232.19,135.2 232.63,135.2 233.08,135.2 233.52,135.2 233.96,135.2 234.41,135.2 234.85,135.2 235.3,135.2 235.74,135.2 236.18,135.2 236.63,135.2 237.07,135.2 237.51,135.2 237.96,135.2 238.4,135.2 238.84,135.2 239.29,135.2 239.73,135.2" fill="none" stroke="#149a1e" stroke-width="1.2" stroke-linejoin="round" />
<circle cx="62.33" cy="135.2" r="1.2" fill="#149a1e"/>
<circle cx="64.1" cy="135.2" r="1.2" fill="#149a1e"/>
<circle cx="65.88" cy="135.2" r="1.2" fill="#149a1e"/>
<circle cx="67.65" cy="135.19" r="1.2" fill="#149a1e"/>
<circle cx="69.43" cy="135.19" r="1.2" fill="#149a1e"/>
<circle cx="71.2" cy="135.19" r="1.2" fill="#149a1e"/>
<circle cx="72.97" cy="135.19" r="1.2" fill="#149a1e"/>
<circle cx="74.75" cy="135.19" r="1.2" fill="#149a1e"/>
<circle cx="76.52" cy="135.18" r="1.2" fill="#149a1e"/>
<circle cx="78.3" cy="135.18" r="1.2" fill="#149a1e"/>
<circle cx="80.07" cy="135.17" r="1.2" fill="#149a1e"/>
<circle cx="81.84" cy="135.17" r="1.2" fill="#149a1e"/>
<circle cx="83.62" cy="135.16" r="1.2" fill="#149a1e"/>
<circle cx="85.39" cy="135.15" r="1.2" fill="#149a1e"/>
<circle cx="87.17" cy="135.14" r="1.2" fill="#149a1e"/>
<circle cx="88.94" cy="135.12" r="1.2" fill="#149a1e"/>
<circle cx="90.71" cy="135.11" r="1.2" fill="#149a1e"/>
<circle cx="92.49" cy="135.09" r="1.2" fill="#149a1e"/>
<circle cx="94.26" cy="135.06" r="1.2" fill="#149a1e"/>
<circle cx="96.04" cy="135.03" r="1.2" fill="#149a1e"/>
<circle cx="97.81" cy="134.99" r="1.2" fill="#149a1e"/>
<circle cx="99.58" cy="134.94" r="1.2" fill="#149a1e"/>
<circle cx="101.36" cy="134.88" r="1.2" fill="#149a1e"/>
<circle cx="103.13" cy="134.81" r="1.2" fill="#149a1e"/>
<circle cx="104.91" cy="134.72" r="1.2" fill="#149a1e"/>
<circle cx="106.68" cy="134.6" r="1.2" fill="#149a1e"/>
<circle cx="108.45" cy="134.46" r="1.2" fill="#149a1e"/>
<circle cx="110.23" cy="134.27" r="1.2" fill="#149a1e"/>
<circle cx="112" cy="134.03" r="1.2" fill="#149a1e"/>
<circle cx="113.78" cy="133.68" r="1.2" fill="#149a1e"/>
<circle cx="115.55" cy="133.14" r="1.2" fill="#149a1e"/>
<circle cx="117.32" cy="132.17" r="1.2" fill="#149a1e"/>
<circle cx="119.1" cy="130.32" r="1.2" fill="#149a1e"/>
<circle cx="120.87" cy="127.02" r="1.2" fill="#149a1e"/>
<circle cx="122.65" cy="121.98" r="1.2" fill="#149a1e"/>
<circle cx="124.42" cy="115.83" r="1.2" fill="#149a1e"/>
<circle cx="126.19" cy="110.48" r="1.2" fill="#149a1e"/>
<circle cx="127.97" cy="108.33" r="1.2" fill="#149a1e"/>
<circle cx="129.74" cy="109.85" r="1.2" fill="#149a1e"/>
<circle cx="131.52" cy="113.81" r="1.2" fill="#149a1e"/>
<circle cx="133.29" cy="118.82" r="1.2" fill="#149a1e"/>
<circle cx="135.06" cy="123.49" r="1.2" fill="#149a1e"/>
<circle cx="136.84" cy="127.05" r="1.2" fill="#149a1e"/>
<circle cx="138.61" cy="129.4" r="1.2" fill="#149a1e"/>
<circle cx="140.39" cy="130.85" r="1.2" fill="#149a1e"/>
<circle cx="142.16" cy="131.73" r="1.2" fill="#149a1e"/>
<circle cx="143.93" cy="132.33" r="1.2" fill="#149a1e"/>
<circle cx="145.71" cy="132.77" r="1.2" fill="#149a1e"/>
<circle cx="147.48" cy="133.12" r="1.2" fill="#149a1e"/>
<circle cx="149.26" cy="133.41" r="1.2" fill="#149a1e"/>
<circle cx="151.03" cy="133.65" r="1.2" fill="#149a1e"/>
<circle cx="152.8" cy="133.86" r="1.2" fill="#149a1e"/>
<circle cx="154.58" cy="134.03" r="1.2" fill="#149a1e"/>
<circle cx="156.35" cy="134.18" r="1.2" fill="#149a1e"/>
<circle cx="158.13" cy="134.31" r="1.2" fill="#149a1e"/>
<circle cx="159.9" cy="134.42" r="1.2" fill="#149a1e"/>
<circle cx="161.67" cy="134.52" r="1.2" fill="#149a1e"/>
<circle cx="163.45" cy="134.6" r="1.2" fill="#149a1e"/>
<circle cx="165.22" cy="134.67" r="1.2" fill="#149a1e"/>
<circle cx="167" cy="134.74" r="1.2" fill="#149a1e"/>
<circle cx="168.77" cy="134.79" r="1.2" fill="#149a1e"/>
<circle cx="170.54" cy="134.84" r="1.2" fill="#149a1e"/>
<circle cx="172.32" cy="134.88" r="1.2" fill="#149a1e"/>
<circle cx="174.09" cy="134.92" r="1.2" fill="#149a1e"/>
<circle cx="175.87" cy="134.95" r="1.2" fill="#149a1e"/>
<circle cx="177.64" cy="134.98" r="1.2" fill="#149a1e"/>
<circle cx="179.41" cy="135" r="1.2" fill="#149a1e"/>
<circle cx="181.19" cy="135.03" r="1.2" fill="#149a1e"/>
<circle cx="182.96" cy="135.05" r="1.2" fill="#149a1e"/>
<circle cx="184.74" cy="135.07" r="1.2" fill="#149a1e"/>
<circle cx="186.51" cy="135.08" r="1.2" fill="#149a1e"/>
<circle cx="188.28" cy="135.09" r="1.2" fill="#149a1e"/>
<circle cx="190.06" cy="135.11" r="1.2" fill="#149a1e"/>
<circle cx="191.83" cy="135.12" r="1.2" fill="#149a1e"/>
<circle cx="193.61" cy="135.13" r="1.2" fill="#149a1e"/>
<circle cx="195.38" cy="135.14" r="1.2" fill="#149a1e"/>
<circle cx="197.15" cy="135.14" r="1.2" fill="#149a1e"/>
<circle cx="198.93" cy="135.15" r="1.2" fill="#149a1e"/>
<circle cx="200.7" cy="135.16" r="1.2" fill="#149a1e"/>
<circle cx="202.48" cy="135.16" r="1.2" fill="#149a1e"/>
<circle cx="204.25" cy="135.17" r="1.2" fill="#149a1e"/>
<circle cx="206.02" cy="135.17" r="1.2" fill="#149a1e"/>
<circle cx="207.8" cy="135.17" r="1.2" fill="#149a1e"/>
<circle cx="209.57" cy="135.18" r="1.2" fill="#149a1e"/>
<circle cx="211.35" cy="135.18" r="1.2" fill="#149a1e"/>
<circle cx="213.12" cy="135.18" r="1.2" fill="#149a1e"/>
<circle cx="214.89" cy="135.18" r="1.2" fill="#149a1e"/>
<circle cx="216.67" cy="135.19" r="1.2" fill="#149a1e"/>
<circle cx="218.44" cy="135.19" r="1.2" fill="#149a1e"/>
<circle cx="220.22" cy="135.19" r="1.2" fill="#149a1e"/>
<circle cx="221.99" cy="135.19" r="1.2" fill="#149a1e"/>
<circle cx="223.76" cy="135.19" r="1.2" fill="#149a1e"/>
<circle cx="225.54" cy="135.19" r="1.2" fill="#149a1e"/>
<circle cx="227.31" cy="135.19" r="1.2" fill="#149a1e"/>
<circle cx="229.09" cy="135.2" r="1.2" fill="#149a1e"/>
<circle cx="230.86" cy="135.2" r="1.2" fill="#149a1e"/>
<circle cx="232.63" cy="135.2" r="1.2" fill="#149a1e"/>
<circle cx="234.41" cy="135.2" r="1.2" fill="#149a1e"/>
<circle cx="236.18" cy="135.2" r="1.2" fill="#149a1e"/>
<circle cx="237.96" cy="135.2" r="1.2" fill="#149a1e"/>
<circle cx="239.73" cy="135.2" r="1.2" fill="#149a1e"/>
<polyline points="62.33,135.2 62.77,135.2 63.22,135.2 63.66,135.2 64.1,135.2 64.55,135.2 64.99,135.2 65.43,135.2 65.88,135.2 66.32,135.2 66.77,135.2 67.21,135.2 67.65,135.2 68.1,135.2 68.54,135.2 68.98,135.2 69.43,135.2 69.87,135.2 70.31,135.2 70.76,135.2 71.2,135.2 71.64,135.2 72.09,135.2 72.53,135.2 72.97,135.2 73.42,135.2 73.86,135.2 74.3,135.2 74.75,135.19 75.19,135.19 75.64,135.19 76.08,135.19 76.52,135.19 76.97,135.19 77.41,135.19 77.85,135.19 78.3,135.19 78.74,135.19 79.18,135.19 79.63,135.19 80.07,135.19 80.51,135.19 80.96,135.19 81.4,135.19 81.84,135.19 82.29,135.19 82.73,135.19 83.17,135.19 83.62,135.18 84.06,135.18 84.5,135.18 84.95,135.18 85.39,135.18 85.84,135.18 86.28,135.18 86.72,135.18 87.17,135.18 87.61,135.17 88.05,135.17 88.5,135.17 88.94,135.17 89.38,135.17 89.83,135.17 90.27,135.17 90.71,135.16 91.16,135.16 91.6,135.16 92.04,135.16 92.49,135.16 92.93,135.15 93.38,135.15 93.82,135.15 94.26,135.15 94.71,135.14 95.15,135.14 95.59,135.14 96.04,135.13 96.48,135.13 96.92,135.13 97.37,135.12 97.81,135.12 98.25,135.11 98.7,135.11 99.14,135.1 99.58,135.1 100.03,135.09 100.47,135.09 100.91,135.08 101.36,135.08 101.8,135.07 102.25,135.06 102.69,135.05 103.13,135.05 103.58,135.04 104.02,135.03 104.46,135.02 104.91,135.01 105.35,135 105.79,134.99 106.24,134.98 106.68,134.97 107.12,134.95 107.57,134.94 108.01,134.93 108.45,134.91 108.9,134.89 109.34,134.88 109.78,134.86 110.23,134.84 110.67,134.82 111.12,134.79 111.56,134.77 112,134.74 112.45,134.71 112.89,134.68 113.33,134.65 113.78,134.61 114.22,134.56 114.66,134.52 115.11,134.46 115.55,134.4 115.99,134.32 116.44,134.24 116.88,134.13 117.32,134.02 117.77,133.88 118.21,133.71 118.65,133.52 119.1,133.29 119.54,133.03 119.99,132.73 120.43,132.39 120.87,132.01 121.32,131.58 121.76,131.1 122.2,130.59 122.65,130.04 123.09,129.45 123.53,128.85 123.98,128.24 124.42,127.63 124.86,127.04 125.31,126.49 125.75,125.99 126.19,125.55 126.64,125.19 127.08,124.92 127.52,124.76 127.97,124.71 128.41,124.74 128.86,124.86 129.3,125.04 129.74,125.3 130.19,125.61 130.63,125.98 131.07,126.4 131.52,126.84 131.96,127.32 132.4,127.81 132.85,128.31 133.29,128.8 133.73,129.29 134.18,129.76 134.62,130.2 135.06,130.63 135.51,131.02 135.95,131.38 136.39,131.71 136.84,132.02 137.28,132.29 137.73,132.53 138.17,132.74 138.61,132.94 139.06,133.1 139.5,133.25 139.94,133.38 140.39,133.5 140.83,133.6 141.27,133.69 141.72,133.77 142.16,133.85 142.6,133.91 143.05,133.97 143.49,134.03 143.93,134.08 144.38,134.12 144.82,134.17 145.26,134.21 145.71,134.25 146.15,134.29 146.59,134.32 147.04,134.35 147.48,134.39 147.93,134.42 148.37,134.45 148.81,134.47 149.26,134.5 149.7,134.53 150.14,134.55 150.59,134.57 151.03,134.6 151.47,134.62 151.92,134.64 152.36,134.66 152.8,134.68 153.25,134.69 153.69,134.71 154.13,134.73 154.58,134.74 155.02,134.76 155.47,134.77 155.91,134.79 156.35,134.8 156.8,134.82 157.24,134.83 157.68,134.84 158.13,134.85 158.57,134.86 159.01,134.88 159.46,134.89 159.9,134.9 160.34,134.91 160.79,134.92 161.23,134.92 161.67,134.93 162.12,134.94 162.56,134.95 163,134.96 163.45,134.97 163.89,134.97 164.34,134.98 164.78,134.99 165.22,134.99 165.67,135 166.11,135.01 166.55,135.01 167,135.02 167.44,135.02 167.88,135.03 168.33,135.04 168.77,135.04 169.21,135.05 169.66,135.05 170.1,135.05 170.54,135.06 170.99,135.06 171.43,135.07 171.87,135.07 172.32,135.08 172.76,135.08 173.2,135.08 173.65,135.09 174.09,135.09 174.54,135.09 174.98,135.1 175.42,135.1 175.87,135.1 176.31,135.11 176.75,135.11 177.2,135.11 177.64,135.11 178.08,135.12 178.53,135.12 178.97,135.12 179.41,135.12 179.86,135.13 180.3,135.13 180.74,135.13 181.19,135.13 181.63,135.13 182.07,135.14 182.52,135.14 182.96,135.14 183.41,135.14 183.85,135.14 184.29,135.15 184.74,135.15 185.18,135.15 185.62,135.15 186.07,135.15 186.51,135.15 186.95,135.15 187.4,135.16 187.84,135.16 188.28,135.16 188.73,135.16 189.17,135.16 189.61,135.16 190.06,135.16 190.5,135.16 190.94,135.17 191.39,135.17 191.83,135.17 192.28,135.17 192.72,135.17 193.16,135.17 193.61,135.17 194.05,135.17 194.49,135.17 194.94,135.17 195.38,135.18 195.82,135.18 196.27,135.18 196.71,135.18 197.15,135.18 197.6,135.18 198.04,135.18 198.48,135.18 198.93,135.18 199.37,135.18 199.81,135.18 200.26,135.18 200.7,135.18 201.15,135.18 201.59,135.18 202.03,135.18 202.48,135.19 202.92,135.19 203.36,135.19 203.81,135.19 204.25,135.19 204.69,135.19 205.14,135.19 205.58,135.19 206.02,135.19 206.47,135.19 206.91,135.19 207.35,135.19 207.8,135.19 208.24,135.19 208.69,135.19 209.13,135.19 209.57,135.19 210.02,135.19 210.46,135.19 210.9,135.19 211.35,135.19 211.79,135.19 212.23,135.19 212.68,135.19 213.12,135.19 213.56,135.19 214.01,135.19 214.45,135.19 214.89,135.19 215.34,135.19 215.78,135.19 216.22,135.19 216.67,135.19 217.11,135.2 217.56,135.2 218,135.2 218.44,135.2 218.89,135.2 219.33,135.2 219.77,135.2 220.22,135.2 220.66,135.2 221.1,135.2 221.55,135.2 221.99,135.2 222.43,135.2 222.88,135.2 223.32,135.2 223.76,135.2 224.21,135.2 224.65,135.2 225.09,135.2 225.54,135.2 225.98,135.2 226.43,135.2 226.87,135.2 227.31,135.2 227.76,135.2 228.2,135.2 228.64,135.2 229.09,135.2 229.53,135.2 229.97,135.2 230.42,135.2 230.86,135.2 231.3,135.2 231.75,135.2 232.19,135.2 232.63,135.2 233.08,135.2 233.52,135.2 233.96,135.2 234.41,135.2 234.85,135.2 235.3,135.2 235.74,135.2 236.18,135.2 236.63,135.2 237.07,135.2 237.51,135.2 237.96,135.2 238.4,135.2 238.84,135.2 239.29,135.2 239.73,135.2" fill="none" stroke="#1c1ca8" stroke-width="1.2" stroke-linejoin="round" />
<circle cx="62.33" cy="135.2" r="1.3" fill="#1c1ca8"/>
<circle cx="64.1" cy="135.2" r="1.3" fill="#1c1ca8"/>
<circle cx="65.88" cy="135.2" r="1.3" fill="#1c1ca8"/>
<circle cx="67.65" cy="135.2" r="1.3" fill="#1c1ca8"/>
<circle cx="69.43" cy="135.2" r="1.3" fill="#1c1ca8"/>
<circle cx="71.2" cy="135.2" r="1.3" fill="#1c1ca8"/>
<circle cx="72.97" cy="135.2" r="1.3" fill="#1c1ca8"/>
<circle cx="74.75" cy="135.19" r="1.3" fill="#1c1ca8"/>
<circle cx="76.52" cy="135.19" r="1.3" fill="#1c1ca8"/>
<circle cx="78.3" cy="135.19" r="1.3" fill="#1c1ca8"/>
<circle cx="80.07" cy="135.19" r="1.3" fill="#1c1ca8"/>
<circle cx="81.84" cy="135.19" r="1.3" fill="#1c1ca8"/>
<circle cx="83.62" cy="135.18" r="1.3" fill="#1c1ca8"/>
<circle cx="85.39" cy="135.18" r="1.3" fill="#1c1ca8"/>
<circle cx="87.17" cy="135.18" r="1.3" fill="#1c1ca8"/>
<circle cx="88.94" cy="135.17" r="1.3" fill="#1c1ca8"/>
<circle cx="90.71" cy="135.16" r="1.3" fill="#1c1ca8"/>
<circle cx="92.49" cy="135.16" r="1.3" fill="#1c1ca8"/>
<circle cx="94.26" cy="135.15" r="1.3" fill="#1c1ca8"/>
<circle cx="96.04" cy="135.13" r="1.3" fill="#1c1ca8"/>
<circle cx="97.81" cy="135.12" r="1.3" fill="#1c1ca8"/>
<circle cx="99.58" cy="135.1" r="1.3" fill="#1c1ca8"/>
<circle cx="101.36" cy="135.08" r="1.3" fill="#1c1ca8"/>
<circle cx="103.13" cy="135.05" r="1.3" fill="#1c1ca8"/>
<circle cx="104.91" cy="135.01" r="1.3" fill="#1c1ca8"/>
<circle cx="106.68" cy="134.97" r="1.3" fill="#1c1ca8"/>
<circle cx="108.45" cy="134.91" r="1.3" fill="#1c1ca8"/>
<circle cx="110.23" cy="134.84" r="1.3" fill="#1c1ca8"/>
<circle cx="112" cy="134.74" r="1.3" fill="#1c1ca8"/>
<circle cx="113.78" cy="134.61" r="1.3" fill="#1c1ca8"/>
<circle cx="115.55" cy="134.4" r="1.3" fill="#1c1ca8"/>
<circle cx="117.32" cy="134.02" r="1.3" fill="#1c1ca8"/>
<circle cx="119.1" cy="133.29" r="1.3" fill="#1c1ca8"/>
<circle cx="120.87" cy="132.01" r="1.3" fill="#1c1ca8"/>
<circle cx="122.65" cy="130.04" r="1.3" fill="#1c1ca8"/>
<circle cx="124.42" cy="127.63" r="1.3" fill="#1c1ca8"/>
<circle cx="126.19" cy="125.55" r="1.3" fill="#1c1ca8"/>
<circle cx="127.97" cy="124.71" r="1.3" fill="#1c1ca8"/>
<circle cx="129.74" cy="125.3" r="1.3" fill="#1c1ca8"/>
<circle cx="131.52" cy="126.84" r="1.3" fill="#1c1ca8"/>
<circle cx="133.29" cy="128.8" r="1.3" fill="#1c1ca8"/>
<circle cx="135.06" cy="130.63" r="1.3" fill="#1c1ca8"/>
<circle cx="136.84" cy="132.02" r="1.3" fill="#1c1ca8"/>
<circle cx="138.61" cy="132.94" r="1.3" fill="#1c1ca8"/>
<circle cx="140.39" cy="133.5" r="1.3" fill="#1c1ca8"/>
<circle cx="142.16" cy="133.85" r="1.3" fill="#1c1ca8"/>
<circle cx="143.93" cy="134.08" r="1.3" fill="#1c1ca8"/>
<circle cx="145.71" cy="134.25" r="1.3" fill="#1c1ca8"/>
<circle cx="147.48" cy="134.39" r="1.3" fill="#1c1ca8"/>
<circle cx="149.26" cy="134.5" r="1.3" fill="#1c1ca8"/>
<circle cx="151.03" cy="134.6" r="1.3" fill="#1c1ca8"/>
<circle cx="152.8" cy="134.68" r="1.3" fill="#1c1ca8"/>
<circle cx="154.58" cy="134.74" r="1.3" fill="#1c1ca8"/>
<circle cx="156.35" cy="134.8" r="1.3" fill="#1c1ca8"/>
<circle cx="158.13" cy="134.85" r="1.3" fill="#1c1ca8"/>
<circle cx="159.9" cy="134.9" r="1.3" fill="#1c1ca8"/>
<circle cx="161.67" cy="134.93" r="1.3" fill="#1c1ca8"/>
<circle cx="163.45" cy="134.97" r="1.3" fill="#1c1ca8"/>
<circle cx="165.22" cy="134.99" r="1.3" fill="#1c1ca8"/>
<circle cx="167" cy="135.02" r="1.3" fill="#1c1ca8"/>
<circle cx="168.77" cy="135.04" r="1.3" fill="#1c1ca8"/>
<circle cx="170.54" cy="135.06" r="1.3" fill="#1c1ca8"/>
<circle cx="172.32" cy="135.08" r="1.3" fill="#1c1ca8"/>
<circle cx="174.09" cy="135.09" r="1.3" fill="#1c1ca8"/>
<circle cx="175.87" cy="135.1" r="1.3" fill="#1c1ca8"/>
<circle cx="177.64" cy="135.11" r="1.3" fill="#1c1ca8"/>
<circle cx="179.41" cy="135.12" r="1.3" fill="#1c1ca8"/>
<circle cx="181.19" cy="135.13" r="1.3" fill="#1c1ca8"/>
<circle cx="182.96" cy="135.14" r="1.3" fill="#1c1ca8"/>
<circle cx="184.74" cy="135.15" r="1.3" fill="#1c1ca8"/>
<circle cx="186.51" cy="135.15" r="1.3" fill="#1c1ca8"/>
<circle cx="188.28" cy="135.16" r="1.3" fill="#1c1ca8"/>
<circle cx="190.06" cy="135.16" r="1.3" fill="#1c1ca8"/>
<circle cx="191.83" cy="135.17" r="1.3" fill="#1c1ca8"/>
<circle cx="193.61" cy="135.17" r="1.3" fill="#1c1ca8"/>
<circle cx="195.38" cy="135.18" r="1.3" fill="#1c1ca8"/>
<circle cx="197.15" cy="135.18" r="1.3" fill="#1c1ca8"/>
<circle cx="198.93" cy="135.18" r="1.3" fill="#1c1ca8"/>
<circle cx="200.7" cy="135.18" r="1.3" fill="#1c1ca8"/>
<circle cx="202.48" cy="135.19" r="1.3" fill="#1c1ca8"/>
<circle cx="204.25" cy="135.19" r="1.3" fill="#1c1ca8"/>
<circle cx="206.02" cy="135.19" r="1.3" fill="#1c1ca8"/>
<circle cx="207.8" cy="135.19" r="1.3" fill="#1c1ca8"/>
<circle cx="209.57" cy="135.19" r="1.3" fill="#1c1ca8"/>
<circle cx="211.35" cy="135.19" r="1.3" fill="#1c1ca8"/>
<circle cx="213.12" cy="135.19" r="1.3" fill="#1c1ca8"/>
<circle cx="214.89" cy="135.19" r="1.3" fill="#1c1ca8"/>
<circle cx="216.67" cy="135.19" r="1.3" fill="#1c1ca8"/>
<circle cx="218.44" cy="135.2" r="1.3" fill="#1c1ca8"/>
<circle cx="220.22" cy="135.2" r="1.3" fill="#1c1ca8"/>
<circle cx="221.99" cy="135.2" r="1.3" fill="#1c1ca8"/>
<circle cx="223.76" cy="135.2" r="1.3" fill="#1c1ca8"/>
<circle cx="225.54" cy="135.2" r="1.3" fill="#1c1ca8"/>
<circle cx="227.31" cy="135.2" r="1.3" fill="#1c1ca8"/>
<circle cx="229.09" cy="135.2" r="1.3" fill="#1c1ca8"/>
<circle cx="230.86" cy="135.2" r="1.3" fill="#1c1ca8"/>
<circle cx="232.63" cy="135.2" r="1.3" fill="#1c1ca8"/>
<circle cx="234.41" cy="135.2" r="1.3" fill="#1c1ca8"/>
<circle cx="236.18" cy="135.2" r="1.3" fill="#1c1ca8"/>
<circle cx="237.96" cy="135.2" r="1.3" fill="#1c1ca8"/>
<circle cx="239.73" cy="135.2" r="1.3" fill="#1c1ca8"/>
<polyline points="62.33,135.2 62.77,135.2 63.22,135.2 63.66,135.2 64.1,135.2 64.55,135.2 64.99,135.2 65.43,135.2 65.88,135.2 66.32,135.2 66.77,135.2 67.21,135.2 67.65,135.2 68.1,135.2 68.54,135.2 68.98,135.2 69.43,135.2 69.87,135.2 70.31,135.2 70.76,135.2 71.2,135.2 71.64,135.2 72.09,135.2 72.53,135.2 72.97,135.2 73.42,135.2 73.86,135.2 74.3,135.2 74.75,135.19 75.19,135.19 75.64,135.19 76.08,135.19 76.52,135.19 76.97,135.19 77.41,135.19 77.85,135.19 78.3,135.19 78.74,135.19 79.18,135.19 79.63,135.19 80.07,135.19 80.51,135.19 80.96,135.19 81.4,135.19 81.84,135.19 82.29,135.19 82.73,135.19 83.17,135.19 83.62,135.18 84.06,135.18 84.5,135.18 84.95,135.18 85.39,135.18 85.84,135.18 86.28,135.18 86.72,135.18 87.17,135.18 87.61,135.17 88.05,135.17 88.5,135.17 88.94,135.17 89.38,135.17 89.83,135.17 90.27,135.17 90.71,135.16 91.16,135.16 91.6,135.16 92.04,135.16 92.49,135.16 92.93,135.15 93.38,135.15 93.82,135.15 94.26,135.15 94.71,135.14 95.15,135.14 95.59,135.14 96.04,135.13 96.48,135.13 96.92,135.13 97.37,135.12 97.81,135.12 98.25,135.11 98.7,135.11 99.14,135.1 99.58,135.1 100.03,135.09 100.47,135.09 100.91,135.08 101.36,135.08 101.8,135.07 102.25,135.06 102.69,135.05 103.13,135.05 103.58,135.04 104.02,135.03 104.46,135.02 104.91,135.01 105.35,135 105.79,134.99 106.24,134.98 106.68,134.97 107.12,134.95 107.57,134.94 108.01,134.93 108.45,134.91 108.9,134.89 109.34,134.88 109.78,134.86 110.23,134.84 110.67,134.82 111.12,134.79 111.56,134.77 112,134.74 112.45,134.71 112.89,134.68 113.33,134.65 113.78,134.61 114.22,134.56 114.66,134.52 115.11,134.46 115.55,134.4 115.99,134.32 116.44,134.24 116.88,134.13 117.32,134.02 117.77,133.88 118.21,133.71 118.65,133.52 119.1,133.29 119.54,133.03 119.99,132.73 120.43,132.39 120.87,132.01 121.32,131.58 121.76,131.1 122.2,130.59 122.65,130.04 123.09,129.45 123.53,128.85 123.98,128.24 124.42,127.63 124.86,127.04 125.31,126.49 125.75,125.99 126.19,125.55 126.64,125.19 127.08,124.92 127.52,124.76 127.97,124.71 128.41,124.74 128.86,124.86 129.3,125.04 129.74,125.3 130.19,125.61 130.63,125.98 131.07,126.4 131.52,126.84 131.96,127.32 132.4,127.81 132.85,128.31 133.29,128.8 133.73,129.29 134.18,129.76 134.62,130.2 135.06,130.63 135.51,131.02 135.95,131.38 136.39,131.71 136.84,132.02 137.28,132.29 137.73,132.53 138.17,132.74 138.61,132.94 139.06,133.1 139.5,133.25 139.94,133.38 140.39,133.5 140.83,133.6 141.27,133.69 141.72,133.77 142.16,133.85 142.6,133.91 143.05,133.97 143.49,134.03 143.93,134.08 144.38,134.12 144.82,134.17 145.26,134.21 145.71,134.25 146.15,134.29 146.59,134.32 147.04,134.35 147.48,134.39 147.93,134.42 148.37,134.45 148.81,134.47 149.26,134.5 149.7,134.53 150.14,134.55 150.59,134.57 151.03,134.6 151.47,134.62 151.92,134.64 152.36,134.66 152.8,134.68 153.25,134.69 153.69,134.71 154.13,134.73 154.58,134.74 155.02,134.76 155.47,134.77 155.91,134.79 156.35,134.8 156.8,134.82 157.24,134.83 157.68,134.84 158.13,134.85 158.57,134.86 159.01,134.88 159.46,134.89 159.9,134.9 160.34,134.91 160.79,134.92 161.23,134.92 161.67,134.93 162.12,134.94 162.56,134.95 163,134.96 163.45,134.97 163.89,134.97 164.34,134.98 164.78,134.99 165.22,134.99 165.67,135 166.11,135.01 166.55,135.01 167,135.02 167.44,135.02 167.88,135.03 168.33,135.04 168.77,135.04 169.21,135.05 169.66,135.05 170.1,135.05 170.54,135.06 170.99,135.06 171.43,135.07 171.87,135.07 172.32,135.08 172.76,135.08 173.2,135.08 173.65,135.09 174.09,135.09 174.54,135.09 174.98,135.1 175.42,135.1 175.87,135.1 176.31,135.11 176.75,135.11 177.2,135.11 177.64,135.11 178.08,135.12 178.53,135.12 178.97,135.12 179.41,135.12 179.86,135.13 180.3,135.13 180.74,135.13 181.19,135.13 181.63,135.13 182.07,135.14 182.52,135.14 182.96,135.14 183.41,135.14 183.85,135.14 184.29,135.15 184.74,135.15 185.18,135.15 185.62,135.15 186.07,135.15 186.51,135.15 186.95,135.15 187.4,135.16 187.84,135.16 188.28,135.16 188.73,135.16 189.17,135.16 189.61,135.16 190.06,135.16 190.5,135.16 190.94,135.17 191.39,135.17 191.83,135.17 192.28,135.17 192.72,135.17 193.16,135.17 193.61,135.17 194.05,135.17 194.49,135.17 194.94,135.17 195.38,135.18 195.82,135.18 196.27,135.18 196.71,135.18 197.15,135.18 197.6,135.18 198.04,135.18 198.48,135.18 198.93,135.18 199.37,135.18 199.81,135.18 200.26,135.18 200.7,135.18 201.15,135.18 201.59,135.18 202.03,135.18 202.48,135.19 202.92,135.19 203.36,135.19 203.81,135.19 204.25,135.19 204.69,135.19 205.14,135.19 205.58,135.19 206.02,135.19 206.47,135.19 206.91,135.19 207.35,135.19 207.8,135.19 208.24,135.19 208.69,135.19 209.13,135.19 209.57,135.19 210.02,135.19 210.46,135.19 210.9,135.19 211.35,135.19 211.79,135.19 212.23,135.19 212.68,135.19 213.12,135.19 213.56,135.19 214.01,135.19 214.45,135.19 214.89,135.19 215.34,135.19 215.78,135.19 216.22,135.19 216.67,135.19 217.11,135.2 217.56,135.2 218,135.2 218.44,135.2 218.89,135.2 219.33,135.2 219.77,135.2 220.22,135.2 220.66,135.2 221.1,135.2 221.55,135.2 221.99,135.2 222.43,135.2 222.88,135.2 223.32,135.2 223.76,135.2 224.21,135.2 224.65,135.2 225.09,135.2 225.54,135.2 225.98,135.2 226.43,135.2 226.87,135.2 227.31,135.2 227.76,135.2 228.2,135.2 228.64,135.2 229.09,135.2 229.53,135.2 229.97,135.2 230.42,135.2 230.86,135.2 231.3,135.2 231.75,135.2 232.19,135.2 232.63,135.2 233.08,135.2 233.52,135.2 233.96,135.2 234.41,135.2 234.85,135.2 235.3,135.2 235.74,135.2 236.18,135.2 236.63,135.2 237.07,135.2 237.51,135.2 237.96,135.2 238.4,135.2 238.84,135.2 239.29,135.2 239.73,135.2" fill="none" stroke="#16169c" stroke-width="2.3" stroke-linejoin="round" stroke-linecap="round"/>
<rect x="53.8" y="2.95" width="190.2" height="132.45" fill="none" stroke="#2b2b2b" stroke-width="1.2"/>
<line x1="51.2" y1="135.2" x2="53.8" y2="135.2" stroke="#2b2b2b" stroke-width="1" />
<text x="49.6" y="138.9" font-size="10.7" text-anchor="end" fill="#1a1a1a" >0.0</text>
<line x1="52.2" y1="122.52" x2="53.8" y2="122.52" stroke="#2b2b2b" stroke-width="1" />
<line x1="51.2" y1="109.85" x2="53.8" y2="109.85" stroke="#2b2b2b" stroke-width="1" />
<text x="49.6" y="113.55" font-size="10.7" text-anchor="end" fill="#1a1a1a" >0.5</text>
<line x1="52.2" y1="97.17" x2="53.8" y2="97.17" stroke="#2b2b2b" stroke-width="1" />
<line x1="51.2" y1="84.5" x2="53.8" y2="84.5" stroke="#2b2b2b" stroke-width="1" />
<text x="49.6" y="88.2" font-size="10.7" text-anchor="end" fill="#1a1a1a" >1.0</text>
<line x1="52.2" y1="71.82" x2="53.8" y2="71.82" stroke="#2b2b2b" stroke-width="1" />
<line x1="51.2" y1="59.15" x2="53.8" y2="59.15" stroke="#2b2b2b" stroke-width="1" />
<text x="49.6" y="62.85" font-size="10.7" text-anchor="end" fill="#1a1a1a" >1.5</text>
<line x1="52.2" y1="46.47" x2="53.8" y2="46.47" stroke="#2b2b2b" stroke-width="1" />
<line x1="51.2" y1="33.8" x2="53.8" y2="33.8" stroke="#2b2b2b" stroke-width="1" />
<text x="49.6" y="37.5" font-size="10.7" text-anchor="end" fill="#1a1a1a" >2.0</text>
<line x1="52.2" y1="21.12" x2="53.8" y2="21.12" stroke="#2b2b2b" stroke-width="1" />
<line x1="51.2" y1="8.45" x2="53.8" y2="8.45" stroke="#2b2b2b" stroke-width="1" />
<text x="49.6" y="12.15" font-size="10.7" text-anchor="end" fill="#1a1a1a" >2.5</text>
<line x1="71.2" y1="135.4" x2="71.2" y2="138" stroke="#2b2b2b" stroke-width="1" />
<text x="71.2" y="148.6" font-size="10.7" text-anchor="middle" fill="#1a1a1a" >400</text>
<line x1="93.38" y1="135.4" x2="93.38" y2="137" stroke="#2b2b2b" stroke-width="1" />
<line x1="115.55" y1="135.4" x2="115.55" y2="138" stroke="#2b2b2b" stroke-width="1" />
<text x="115.55" y="148.6" font-size="10.7" text-anchor="middle" fill="#1a1a1a" >500</text>
<line x1="137.73" y1="135.4" x2="137.73" y2="137" stroke="#2b2b2b" stroke-width="1" />
<line x1="159.9" y1="135.4" x2="159.9" y2="138" stroke="#2b2b2b" stroke-width="1" />
<text x="159.9" y="148.6" font-size="10.7" text-anchor="middle" fill="#1a1a1a" >600</text>
<line x1="182.07" y1="135.4" x2="182.07" y2="137" stroke="#2b2b2b" stroke-width="1" />
<line x1="204.25" y1="135.4" x2="204.25" y2="138" stroke="#2b2b2b" stroke-width="1" />
<text x="204.25" y="148.6" font-size="10.7" text-anchor="middle" fill="#1a1a1a" >700</text>
<line x1="226.43" y1="135.4" x2="226.43" y2="137" stroke="#2b2b2b" stroke-width="1" />
<text x="148.4" y="165.8" font-size="11.4" text-anchor="middle" fill="#1a1a1a" >Wavelength (nm)</text>
<text transform="translate(31.4,68.8) rotate(-90)" font-size="11.4" text-anchor="middle" fill="#1a1a1a">Intensity (a.u.)</text>
<text transform="translate(19,10.65) scale(1.06,1)" font-size="11.8" fill="#1a1a1a">(a)</text>
<line x1="170.3" y1="22.1" x2="189.8" y2="22.1" stroke="#e81ee8" stroke-width="1" />
<circle cx="180" cy="22.1" r="1.4" fill="#e81ee8"/>
<text x="192" y="25.2" font-size="8.6" text-anchor="start" fill="#1a1a1a" >5.5 V</text>
<line x1="170.3" y1="32.5" x2="189.8" y2="32.5" stroke="#d8102e" stroke-width="1" />
<circle cx="180" cy="32.5" r="1.4" fill="#d8102e"/>
<text x="192" y="35.6" font-size="8.6" text-anchor="start" fill="#1a1a1a" >5.0 V</text>
<line x1="170.3" y1="42.8" x2="189.8" y2="42.8" stroke="#f0207e" stroke-width="1" />
<circle cx="180" cy="42.8" r="1.4" fill="#f0207e"/>
<text x="192" y="45.9" font-size="8.6" text-anchor="start" fill="#1a1a1a" >4.5 V</text>
<line x1="170.3" y1="53.2" x2="189.8" y2="53.2" stroke="#149a1e" stroke-width="1" />
<circle cx="180" cy="53.2" r="1.4" fill="#149a1e"/>
<text x="192" y="56.3" font-size="8.6" text-anchor="start" fill="#1a1a1a" >4.0 V</text>
<line x1="170.3" y1="63.6" x2="189.8" y2="63.6" stroke="#1c1ca8" stroke-width="1" />
<circle cx="180" cy="63.6" r="1.4" fill="#1c1ca8"/>
<text x="192" y="66.7" font-size="8.6" text-anchor="start" fill="#1a1a1a" >3.5 V</text>
<g clip-path="url(#cie)"><rect x="320" y="12" width="3" height="1.05" fill="url(#r0)"/><rect x="315" y="13" width="13" height="1.05" fill="url(#r1)"/><rect x="313" y="14" width="20" height="1.05" fill="url(#r2)"/><rect x="311" y="15" width="25" height="1.05" fill="url(#r3)"/><rect x="310" y="16" width="29" height="1.05" fill="url(#r4)"/><rect x="309" y="17" width="33" height="1.05" fill="url(#r5)"/><rect x="308" y="18" width="37" height="1.05" fill="url(#r6)"/><rect x="307" y="19" width="40" height="1.05" fill="url(#r7)"/><rect x="306" y="20" width="43" height="1.05" fill="url(#r8)"/><rect x="306" y="21" width="46" height="1.05" fill="url(#r9)"/><rect x="305" y="22" width="49" height="1.05" fill="url(#r10)"/><rect x="305" y="23" width="51" height="1.05" fill="url(#r11)"/><rect x="304" y="24" width="54" height="1.05" fill="url(#r12)"/><rect x="304" y="25" width="56" height="1.05" fill="url(#r13)"/><rect x="304" y="26" width="58" height="1.05" fill="url(#r14)"/><rect x="303" y="27" width="61" height="1.05" fill="url(#r15)"/><rect x="303" y="28" width="63" height="1.05" fill="url(#r16)"/><rect x="303" y="29" width="65" height="1.05" fill="url(#r17)"/><rect x="303" y="30" width="67" height="1.05" fill="url(#r18)"/><rect x="303" y="31" width="69" height="1.05" fill="url(#r19)"/><rect x="302" y="32" width="71" height="1.05" fill="url(#r20)"/><rect x="302" y="33" width="73" height="1.05" fill="url(#r21)"/><rect x="302" y="34" width="75" height="1.05" fill="url(#r22)"/><rect x="302" y="35" width="77" height="1.05" fill="url(#r23)"/><rect x="302" y="36" width="78" height="1.05" fill="url(#r24)"/><rect x="302" y="37" width="80" height="1.05" fill="url(#r25)"/><rect x="302" y="38" width="82" height="1.05" fill="url(#r26)"/><rect x="302" y="39" width="84" height="1.05" fill="url(#r27)"/><rect x="302" y="40" width="85" height="1.05" fill="url(#r28)"/><rect x="302" y="41" width="87" height="1.05" fill="url(#r29)"/><rect x="302" y="42" width="89" height="1.05" fill="url(#r30)"/><rect x="302" y="43" width="90" height="1.05" fill="url(#r31)"/><rect x="302" y="44" width="92" height="1.05" fill="url(#r32)"/><rect x="302" y="45" width="94" height="1.05" fill="url(#r33)"/><rect x="302" y="46" width="95" height="1.05" fill="url(#r34)"/><rect x="302" y="47" width="97" height="1.05" fill="url(#r35)"/><rect x="302" y="48" width="99" height="1.05" fill="url(#r36)"/><rect x="302" y="49" width="100" height="1.05" fill="url(#r37)"/><rect x="302" y="50" width="102" height="1.05" fill="url(#r38)"/><rect x="302" y="51" width="103" height="1.05" fill="url(#r39)"/><rect x="302" y="52" width="105" height="1.05" fill="url(#r40)"/><rect x="302" y="53" width="107" height="1.05" fill="url(#r41)"/><rect x="303" y="54" width="107" height="1.05" fill="url(#r42)"/><rect x="303" y="55" width="109" height="1.05" fill="url(#r43)"/><rect x="303" y="56" width="111" height="1.05" fill="url(#r44)"/><rect x="303" y="57" width="112" height="1.05" fill="url(#r45)"/><rect x="303" y="58" width="114" height="1.05" fill="url(#r46)"/><rect x="303" y="59" width="116" height="1.05" fill="url(#r47)"/><rect x="303" y="60" width="117" height="1.05" fill="url(#r48)"/><rect x="304" y="61" width="118" height="1.05" fill="url(#r49)"/><rect x="304" y="62" width="119" height="1.05" fill="url(#r50)"/><rect x="304" y="63" width="121" height="1.05" fill="url(#r51)"/><rect x="304" y="64" width="123" height="1.05" fill="url(#r52)"/><rect x="304" y="65" width="124" height="1.05" fill="url(#r53)"/><rect x="305" y="66" width="125" height="1.05" fill="url(#r54)"/><rect x="305" y="67" width="127" height="1.05" fill="url(#r55)"/><rect x="305" y="68" width="128" height="1.05" fill="url(#r56)"/><rect x="305" y="69" width="130" height="1.05" fill="url(#r57)"/><rect x="305" y="70" width="131" height="1.05" fill="url(#r58)"/><rect x="306" y="71" width="132" height="1.05" fill="url(#r59)"/><rect x="306" y="72" width="134" height="1.05" fill="url(#r60)"/><rect x="306" y="73" width="135" height="1.05" fill="url(#r61)"/><rect x="306" y="74" width="137" height="1.05" fill="url(#r62)"/><rect x="307" y="75" width="138" height="1.05" fill="url(#r63)"/><rect x="307" y="76" width="139" height="1.05" fill="url(#r64)"/><rect x="307" y="77" width="141" height="1.05" fill="url(#r65)"/><rect x="307" y="78" width="142" height="1.05" fill="url(#r66)"/><rect x="308" y="79" width="143" height="1.05" fill="url(#r67)"/><rect x="308" y="80" width="145" height="1.05" fill="url(#r68)"/><rect x="308" y="81" width="146" height="1.05" fill="url(#r69)"/><rect x="309" y="82" width="147" height="1.05" fill="url(#r70)"/><rect x="309" y="83" width="149" height="1.05" fill="url(#r71)"/><rect x="309" y="84" width="150" height="1.05" fill="url(#r72)"/><rect x="309" y="85" width="152" height="1.05" fill="url(#r73)"/><rect x="310" y="86" width="152" height="1.05" fill="url(#r74)"/><rect x="310" y="87" width="154" height="1.05" fill="url(#r75)"/><rect x="310" y="88" width="156" height="1.05" fill="url(#r76)"/><rect x="311" y="89" width="156" height="1.05" fill="url(#r77)"/><rect x="311" y="90" width="158" height="1.05" fill="url(#r78)"/><rect x="311" y="91" width="160" height="1.05" fill="url(#r79)"/><rect x="312" y="92" width="160" height="1.05" fill="url(#r80)"/><rect x="312" y="93" width="162" height="1.05" fill="url(#r81)"/><rect x="312" y="94" width="163" height="1.05" fill="url(#r82)"/><rect x="313" y="95" width="164" height="1.05" fill="url(#r83)"/><rect x="313" y="96" width="166" height="1.05" fill="url(#r84)"/><rect x="314" y="97" width="161" height="1.05" fill="url(#r85)"/><rect x="314" y="98" width="158" height="1.05" fill="url(#r86)"/><rect x="314" y="99" width="154" height="1.05" fill="url(#r87)"/><rect x="315" y="100" width="150" height="1.05" fill="url(#r88)"/><rect x="315" y="101" width="146" height="1.05" fill="url(#r89)"/><rect x="316" y="102" width="142" height="1.05" fill="url(#r90)"/><rect x="316" y="103" width="138" height="1.05" fill="url(#r91)"/><rect x="316" y="104" width="135" height="1.05" fill="url(#r92)"/><rect x="317" y="105" width="130" height="1.05" fill="url(#r93)"/><rect x="317" y="106" width="127" height="1.05" fill="url(#r94)"/><rect x="318" y="107" width="122" height="1.05" fill="url(#r95)"/><rect x="318" y="108" width="119" height="1.05" fill="url(#r96)"/><rect x="319" y="109" width="114" height="1.05" fill="url(#r97)"/><rect x="319" y="110" width="111" height="1.05" fill="url(#r98)"/><rect x="320" y="111" width="106" height="1.05" fill="url(#r99)"/><rect x="321" y="112" width="102" height="1.05" fill="url(#r100)"/><rect x="321" y="113" width="98" height="1.05" fill="url(#r101)"/><rect x="322" y="114" width="94" height="1.05" fill="url(#r102)"/><rect x="322" y="115" width="90" height="1.05" fill="url(#r103)"/><rect x="323" y="116" width="86" height="1.05" fill="url(#r104)"/><rect x="323" y="117" width="82" height="1.05" fill="url(#r105)"/><rect x="324" y="118" width="78" height="1.05" fill="url(#r106)"/><rect x="325" y="119" width="73" height="1.05" fill="url(#r107)"/><rect x="325" y="120" width="70" height="1.05" fill="url(#r108)"/><rect x="326" y="121" width="65" height="1.05" fill="url(#r109)"/><rect x="327" y="122" width="61" height="1.05" fill="url(#r110)"/><rect x="327" y="123" width="58" height="1.05" fill="url(#r111)"/><rect x="328" y="124" width="53" height="1.05" fill="url(#r112)"/><rect x="329" y="125" width="49" height="1.05" fill="url(#r113)"/><rect x="330" y="126" width="44" height="1.05" fill="url(#r114)"/><rect x="331" y="127" width="40" height="1.05" fill="url(#r115)"/><rect x="332" y="128" width="35" height="1.05" fill="url(#r116)"/><rect x="333" y="129" width="31" height="1.05" fill="url(#r117)"/><rect x="334" y="130" width="26" height="1.05" fill="url(#r118)"/><rect x="336" y="131" width="21" height="1.05" fill="url(#r119)"/><rect x="337" y="132" width="16" height="1.05" fill="url(#r120)"/><rect x="339" y="133" width="11" height="1.05" fill="url(#r121)"/><rect x="341" y="134" width="5" height="1.05" fill="url(#r122)"/><rect x="342" y="135" width="3" height="1.05" fill="url(#r123)"/></g>
<path d="M343.74,134.76 L343.73,134.76 L343.73,134.76 L343.73,134.76 L343.72,134.76 L343.72,134.76 L343.71,134.76 L343.71,134.77 L343.7,134.77 L343.69,134.77 L343.68,134.78 L343.67,134.78 L343.66,134.78 L343.66,134.78 L343.65,134.78 L343.64,134.78 L343.63,134.78 L343.63,134.78 L343.62,134.78 L343.61,134.78 L343.59,134.78 L343.58,134.79 L343.57,134.79 L343.56,134.79 L343.55,134.79 L343.53,134.8 L343.52,134.8 L343.51,134.8 L343.5,134.79 L343.49,134.79 L343.47,134.79 L343.46,134.79 L343.44,134.79 L343.43,134.79 L343.41,134.79 L343.4,134.79 L343.38,134.79 L343.36,134.79 L343.34,134.8 L343.32,134.8 L343.3,134.8 L343.28,134.8 L343.26,134.79 L343.24,134.79 L343.21,134.79 L343.19,134.78 L343.16,134.77 L343.13,134.76 L343.09,134.75 L343.06,134.74 L343.02,134.72 L342.97,134.71 L342.93,134.69 L342.88,134.67 L342.83,134.65 L342.78,134.62 L342.73,134.6 L342.68,134.58 L342.62,134.55 L342.56,134.52 L342.5,134.49 L342.43,134.45 L342.35,134.41 L342.28,134.37 L342.19,134.33 L342.11,134.28 L342.02,134.24 L341.93,134.19 L341.84,134.13 L341.74,134.08 L341.64,134.02 L341.54,133.96 L341.43,133.9 L341.31,133.83 L341.19,133.77 L341.06,133.7 L340.93,133.63 L340.79,133.55 L340.64,133.47 L340.48,133.39 L340.32,133.3 L340.14,133.2 L339.96,133.11 L339.77,133 L339.57,132.9 L339.37,132.79 L339.16,132.68 L338.94,132.56 L338.72,132.44 L338.48,132.3 L338.24,132.16 L337.98,132.01 L337.72,131.86 L337.45,131.7 L337.17,131.52 L336.87,131.34 L336.57,131.13 L336.26,130.92 L335.95,130.71 L335.63,130.48 L335.29,130.24 L334.93,129.96 L334.55,129.63 L334.15,129.28 L333.72,128.9 L333.28,128.49 L332.82,128.04 L332.34,127.55 L331.84,127 L331.31,126.42 L330.77,125.8 L330.21,125.13 L329.63,124.41 L329.02,123.61 L328.38,122.74 L327.72,121.8 L327.04,120.8 L326.33,119.73 L325.59,118.57 L324.82,117.33 L324.03,115.99 L323.19,114.56 L322.32,113.04 L321.41,111.44 L320.49,109.74 L319.57,107.92 L318.65,106 L317.73,103.95 L316.8,101.79 L315.87,99.52 L314.94,97.15 L314.01,94.69 L313.11,92.14 L312.2,89.46 L311.28,86.67 L310.38,83.77 L309.5,80.81 L308.67,77.82 L307.89,74.83 L307.16,71.81 L306.47,68.71 L305.81,65.58 L305.21,62.46 L304.69,59.37 L304.25,56.36 L303.89,53.39 L303.59,50.44 L303.36,47.52 L303.22,44.67 L303.17,41.9 L303.23,39.24 L303.39,36.67 L303.64,34.16 L303.98,31.73 L304.42,29.42 L304.97,27.24 L305.61,25.22 L306.36,23.35 L307.24,21.61 L308.21,20 L309.26,18.55 L310.38,17.25 L311.56,16.14 L312.81,15.21 L314.14,14.47 L315.55,13.9 L317,13.46 L318.49,13.15 L319.98,12.93 L321.5,12.85 L323.06,12.91 L324.66,13.1 L326.26,13.38 L327.88,13.7 L329.48,14.05 L331.08,14.43 L332.7,14.88 L334.32,15.39 L335.94,15.93 L337.54,16.48 L339.12,17.03 L340.67,17.59 L342.2,18.16 L343.72,18.75 L345.23,19.36 L346.72,19.98 L348.21,20.6 L349.69,21.24 L351.15,21.9 L352.61,22.56 L354.06,23.23 L355.5,23.92 L356.94,24.62 L358.39,25.33 L359.83,26.05 L361.27,26.78 L362.7,27.52 L364.13,28.27 L365.56,29.03 L366.99,29.79 L368.41,30.57 L369.83,31.35 L371.25,32.14 L372.66,32.93 L374.08,33.73 L375.5,34.54 L376.91,35.35 L378.33,36.16 L379.74,36.99 L381.16,37.81 L382.58,38.64 L384,39.48 L385.42,40.31 L386.84,41.16 L388.26,42 L389.68,42.85 L391.1,43.7 L392.51,44.55 L393.93,45.4 L395.34,46.26 L396.75,47.12 L398.16,47.97 L399.57,48.83 L400.98,49.68 L402.39,50.54 L403.8,51.4 L405.2,52.25 L406.6,53.11 L408,53.96 L409.38,54.81 L410.77,55.66 L412.15,56.51 L413.53,57.35 L414.89,58.19 L416.25,59.03 L417.61,59.86 L418.96,60.69 L420.3,61.52 L421.63,62.34 L422.96,63.16 L424.27,63.97 L425.58,64.77 L426.88,65.57 L428.17,66.37 L429.45,67.15 L430.71,67.93 L431.96,68.7 L433.2,69.46 L434.43,70.22 L435.65,70.96 L436.85,71.7 L438.03,72.43 L439.2,73.14 L440.34,73.85 L441.47,74.55 L442.59,75.24 L443.68,75.91 L444.75,76.57 L445.79,77.21 L446.8,77.84 L447.79,78.45 L448.75,79.04 L449.7,79.62 L450.62,80.19 L451.53,80.74 L452.42,81.29 L453.29,81.83 L454.15,82.35 L454.98,82.87 L455.79,83.36 L456.57,83.84 L457.33,84.31 L458.06,84.75 L458.77,85.19 L459.45,85.6 L460.12,86.01 L460.76,86.4 L461.38,86.78 L461.98,87.15 L462.55,87.51 L463.11,87.85 L463.65,88.18 L464.16,88.5 L464.66,88.81 L465.14,89.11 L465.6,89.39 L466.04,89.66 L466.46,89.93 L466.88,90.18 L467.27,90.42 L467.66,90.66 L468.02,90.88 L468.37,91.09 L468.71,91.3 L469.04,91.5 L469.36,91.7 L469.66,91.89 L469.96,92.07 L470.24,92.24 L470.51,92.41 L470.78,92.58 L471.04,92.74 L471.29,92.89 L471.54,93.05 L471.78,93.19 L472.01,93.33 L472.23,93.47 L472.45,93.61 L472.66,93.74 L472.86,93.86 L473.05,93.98 L473.24,94.1 L473.42,94.21 L473.6,94.31 L473.77,94.42 L473.93,94.51 L474.08,94.61 L474.23,94.69 L474.37,94.78 L474.51,94.86 L474.64,94.94 L474.76,95.02 L474.87,95.09 L474.98,95.16 L475.09,95.22 L475.19,95.29 L475.29,95.35 L475.38,95.4 L475.47,95.46 L475.55,95.51 L475.64,95.56 L475.71,95.61 L475.79,95.65 L475.86,95.7 L475.92,95.74 L475.98,95.77 L476.04,95.81 L476.09,95.84 L476.14,95.87 L476.18,95.9 L476.22,95.92 L476.26,95.95 L476.3,95.97 L476.34,95.99 L476.37,96.02 L476.4,96.04 L476.44,96.06 L476.47,96.08 L476.52,96.1 L476.57,96.13 L476.62,96.17 L476.68,96.21 L476.74,96.24 L476.8,96.28 L476.85,96.31 L476.9,96.34 L476.94,96.37 L476.98,96.39 L477.02,96.42 L477.06,96.44 L477.09,96.46 L477.11,96.47 L477.13,96.48 L477.14,96.49 L477.15,96.49 L477.15,96.5 L477.16,96.5 Z" fill="none" stroke="rgba(10,50,40,0.55)" stroke-width="1.0"/>
<path d="M455.4,88.9 L373.9,47.1 L337.3,126.4 Z" fill="none" stroke="#111" stroke-width="1.3" stroke-linejoin="miter"/>
<text x="371" y="46" font-size="8.6" text-anchor="start" fill="#0a200a" stroke="#0a200a" stroke-width="0.25">G</text>
<text x="457.4" y="96.6" font-size="8.6" text-anchor="start" fill="#5a0a20" stroke="#5a0a20" stroke-width="0.2">R</text>
<text x="333" y="126.2" font-size="8.6" text-anchor="start" fill="#10205a" stroke="#10205a" stroke-width="0.2">B</text>
<circle cx="353.23" cy="27.01" r="1.3" fill="#ffffff"/>
<line x1="351.8" y1="28.4" x2="341" y2="39.4" stroke="#0a1a10" stroke-width="1.5" stroke-dasharray="6.4,4.4"/>
<path d="M339.2,41.0 L343.6,38.7 L341.6,36.7 Z" fill="#0a1a10"/>
<text x="307.6" y="49.3" font-size="8.6" text-anchor="start" fill="#0a3020" stroke="#0a3020" stroke-width="0.25">x=0.214 y=0.738</text>
<text x="430.3" y="26.6" font-size="9.2" font-weight="bold" font-style="italic" fill="#1a1a1a">CIE 1931</text>
<text x="318" y="9.3" font-size="8.6" text-anchor="middle" fill="#3c3cb8" stroke="#3c3cb8" stroke-width="0.15">520</text>
<text x="364" y="23.1" font-size="8.6" text-anchor="middle" fill="#3c3cb8" stroke="#3c3cb8" stroke-width="0.15">540</text>
<text x="398.8" y="42" font-size="8.6" text-anchor="middle" fill="#3c3cb8" stroke="#3c3cb8" stroke-width="0.15">560</text>
<text x="432" y="62.6" font-size="8.6" text-anchor="middle" fill="#3c3cb8" stroke="#3c3cb8" stroke-width="0.15">580</text>
<text x="458.8" y="79" font-size="8.6" text-anchor="middle" fill="#3c3cb8" stroke="#3c3cb8" stroke-width="0.15">600</text>
<text x="474.5" y="88.2" font-size="8.6" text-anchor="middle" fill="#3c3cb8" stroke="#3c3cb8" stroke-width="0.15">620</text>
<text x="293.3" y="60" font-size="8.6" text-anchor="middle" fill="#3c3cb8" stroke="#3c3cb8" stroke-width="0.15">500</text>
<text x="313.3" y="121.6" font-size="8.6" text-anchor="middle" fill="#3c3cb8" stroke="#3c3cb8" stroke-width="0.15">480</text>
<text x="328" y="136" font-size="8.6" text-anchor="middle" fill="#3c3cb8" stroke="#3c3cb8" stroke-width="0.15">460</text>
<rect x="302.3" y="3.3" width="190.5" height="132.2" fill="none" stroke="#2b2b2b" stroke-width="1.2"/>
<line x1="302.3" y1="135.5" x2="302.3" y2="138.1" stroke="#2b2b2b" stroke-width="1" />
<text x="302.3" y="148.6" font-size="10.7" text-anchor="middle" fill="#1a1a1a" >0.0</text>
<line x1="314.2" y1="135.5" x2="314.2" y2="137.1" stroke="#2b2b2b" stroke-width="1" />
<line x1="326.1" y1="135.5" x2="326.1" y2="138.1" stroke="#2b2b2b" stroke-width="1" />
<text x="326.1" y="148.6" font-size="10.7" text-anchor="middle" fill="#1a1a1a" >0.1</text>
<line x1="338" y1="135.5" x2="338" y2="137.1" stroke="#2b2b2b" stroke-width="1" />
<line x1="349.9" y1="135.5" x2="349.9" y2="138.1" stroke="#2b2b2b" stroke-width="1" />
<text x="349.9" y="148.6" font-size="10.7" text-anchor="middle" fill="#1a1a1a" >0.2</text>
<line x1="361.8" y1="135.5" x2="361.8" y2="137.1" stroke="#2b2b2b" stroke-width="1" />
<line x1="373.7" y1="135.5" x2="373.7" y2="138.1" stroke="#2b2b2b" stroke-width="1" />
<text x="373.7" y="148.6" font-size="10.7" text-anchor="middle" fill="#1a1a1a" >0.3</text>
<line x1="385.6" y1="135.5" x2="385.6" y2="137.1" stroke="#2b2b2b" stroke-width="1" />
<line x1="397.5" y1="135.5" x2="397.5" y2="138.1" stroke="#2b2b2b" stroke-width="1" />
<text x="397.5" y="148.6" font-size="10.7" text-anchor="middle" fill="#1a1a1a" >0.4</text>
<line x1="409.4" y1="135.5" x2="409.4" y2="137.1" stroke="#2b2b2b" stroke-width="1" />
<line x1="421.3" y1="135.5" x2="421.3" y2="138.1" stroke="#2b2b2b" stroke-width="1" />
<text x="421.3" y="148.6" font-size="10.7" text-anchor="middle" fill="#1a1a1a" >0.5</text>
<line x1="433.2" y1="135.5" x2="433.2" y2="137.1" stroke="#2b2b2b" stroke-width="1" />
<line x1="445.1" y1="135.5" x2="445.1" y2="138.1" stroke="#2b2b2b" stroke-width="1" />
<text x="445.1" y="148.6" font-size="10.7" text-anchor="middle" fill="#1a1a1a" >0.6</text>
<line x1="457" y1="135.5" x2="457" y2="137.1" stroke="#2b2b2b" stroke-width="1" />
<line x1="468.9" y1="135.5" x2="468.9" y2="138.1" stroke="#2b2b2b" stroke-width="1" />
<text x="468.9" y="148.6" font-size="10.7" text-anchor="middle" fill="#1a1a1a" >0.7</text>
<line x1="480.8" y1="135.5" x2="480.8" y2="137.1" stroke="#2b2b2b" stroke-width="1" />
<line x1="492.7" y1="135.5" x2="492.7" y2="138.1" stroke="#2b2b2b" stroke-width="1" />
<text x="492.7" y="148.6" font-size="10.7" text-anchor="middle" fill="#1a1a1a" >0.8</text>
<line x1="299.7" y1="135.5" x2="302.3" y2="135.5" stroke="#2b2b2b" stroke-width="1" />
<text x="298.1" y="139.2" font-size="10.7" text-anchor="end" fill="#1a1a1a" >0.0</text>
<line x1="300.7" y1="120.8" x2="302.3" y2="120.8" stroke="#2b2b2b" stroke-width="1" />
<line x1="299.7" y1="106.1" x2="302.3" y2="106.1" stroke="#2b2b2b" stroke-width="1" />
<text x="298.1" y="109.8" font-size="10.7" text-anchor="end" fill="#1a1a1a" >0.2</text>
<line x1="300.7" y1="91.4" x2="302.3" y2="91.4" stroke="#2b2b2b" stroke-width="1" />
<line x1="299.7" y1="76.7" x2="302.3" y2="76.7" stroke="#2b2b2b" stroke-width="1" />
<text x="298.1" y="80.4" font-size="10.7" text-anchor="end" fill="#1a1a1a" >0.4</text>
<line x1="300.7" y1="62" x2="302.3" y2="62" stroke="#2b2b2b" stroke-width="1" />
<line x1="299.7" y1="47.3" x2="302.3" y2="47.3" stroke="#2b2b2b" stroke-width="1" />
<text x="298.1" y="51" font-size="10.7" text-anchor="end" fill="#1a1a1a" >0.6</text>
<line x1="300.7" y1="32.6" x2="302.3" y2="32.6" stroke="#2b2b2b" stroke-width="1" />
<line x1="299.7" y1="17.9" x2="302.3" y2="17.9" stroke="#2b2b2b" stroke-width="1" />
<text x="298.1" y="21.6" font-size="10.7" text-anchor="end" fill="#1a1a1a" >0.8</text>
<text x="397.5" y="165.8" font-size="11.4" text-anchor="middle" fill="#1a1a1a" >X-chromiticity coordinate</text>
<text transform="translate(279.2,69.0) rotate(-90)" font-size="11.4" text-anchor="middle" fill="#1a1a1a">Y-chromiticity coordinate</text>
<text transform="translate(256.8,10.05) scale(1.06,1)" font-size="11.8" fill="#1a1a1a">(b)</text>
<g clip-path="url(#phc)">
<rect x="72.2" y="200.2" width="62.6" height="70.6" fill="url(#ph1)"/>
<g filter="url(#blr)">
<path d="M72.2,209 L77,210.5 L96,215.5 L92,228 L88,240 L87.5,255 L91,270.8 L72.2,270.8 Z" fill="#1c5e1c"/>
<path d="M83,220 L89,221 L86,252 L82,250 Z" fill="#2e7c2c" opacity="0.55"/>
<path d="M72.2,209 L77.5,210.5 L78.8,237 L72.2,242 Z" fill="url(#ph6)"/>
<path d="M72.2,242 L78.8,237 L82,270.8 L72.2,270.8 Z" fill="#3c7a34"/>
<path d="M72.2,200.2 L103,200.2 L102.5,204 L100,208 L96,211 L92,212 L86,210.5 L80,210 L72.2,209 Z" fill="url(#ph2)"/>
<ellipse cx="83.5" cy="205.8" rx="6" ry="2.6" transform="rotate(40 83.5 205.8)" fill="#8e3e30" opacity="0.75"/>
<path d="M85,209.5 L96,215.5" stroke="#0a300a" stroke-width="2" opacity="0.8"/>
<ellipse cx="83.5" cy="213" rx="3" ry="1.5" fill="#eef4e8" opacity="0.9"/>
<ellipse cx="110.6" cy="233" rx="5" ry="3.4" fill="url(#ph5)"/>
<ellipse cx="113" cy="257" rx="2.2" ry="1.3" fill="#9cf090" opacity="0.6"/>
<path d="M126,210 L131,212 L130,236 L126,230 Z" fill="#6af05a" opacity="0.35"/>
<rect x="130" y="200.2" width="5" height="70.6" fill="#0a6a0a" opacity="0.3"/>
</g>
<rect x="72.2" y="200.2" width="62.6" height="70.6" fill="url(#ph3)"/>
<rect x="72.2" y="200.2" width="62.6" height="70.6" fill="url(#ph4)"/>
</g>
<polyline points="54.5,307.5 66.17,307.5 77.85,307.5 89.53,307.5 101.2,307.5 112.88,307.46 124.55,305.82 136.23,299.11 147.9,287.66 159.57,274.23 171.25,259.74 182.93,245.32 194.6,231.2 206.28,216.7 217.95,202.97 229.62,190.38 240.37,180.84" fill="none" stroke="#e4559e" stroke-width="1.05" stroke-linejoin="round" />
<circle cx="54.5" cy="307.5" r="1.25" fill="#c23c84"/>
<circle cx="66.17" cy="307.5" r="1.25" fill="#c23c84"/>
<circle cx="77.85" cy="307.5" r="1.25" fill="#c23c84"/>
<circle cx="89.53" cy="307.5" r="1.25" fill="#c23c84"/>
<circle cx="101.2" cy="307.5" r="1.25" fill="#c23c84"/>
<circle cx="112.88" cy="307.46" r="1.25" fill="#c23c84"/>
<circle cx="124.55" cy="305.82" r="1.25" fill="#c23c84"/>
<circle cx="136.23" cy="299.11" r="1.25" fill="#c23c84"/>
<circle cx="147.9" cy="287.66" r="1.25" fill="#c23c84"/>
<circle cx="159.57" cy="274.23" r="1.25" fill="#c23c84"/>
<circle cx="171.25" cy="259.74" r="1.25" fill="#c23c84"/>
<circle cx="182.93" cy="245.32" r="1.25" fill="#c23c84"/>
<circle cx="194.6" cy="231.2" r="1.25" fill="#c23c84"/>
<circle cx="206.28" cy="216.7" r="1.25" fill="#c23c84"/>
<circle cx="217.95" cy="202.97" r="1.25" fill="#c23c84"/>
<circle cx="229.62" cy="190.38" r="1.25" fill="#c23c84"/>
<circle cx="240.37" cy="180.84" r="3.1" fill="none" stroke="#a02878" stroke-width="1.1" stroke-dasharray="3.2,1.4"/>
<rect x="53.5" y="176.8" width="190.3" height="132" fill="none" stroke="#2b2b2b" stroke-width="1.2"/>
<line x1="54.5" y1="308.8" x2="54.5" y2="311.4" stroke="#2b2b2b" stroke-width="1" />
<text x="54.5" y="322.2" font-size="10.7" text-anchor="middle" fill="#1a1a1a" >0</text>
<line x1="77.85" y1="308.8" x2="77.85" y2="310.4" stroke="#2b2b2b" stroke-width="1" />
<line x1="101.2" y1="308.8" x2="101.2" y2="311.4" stroke="#2b2b2b" stroke-width="1" />
<text x="101.2" y="322.2" font-size="10.7" text-anchor="middle" fill="#1a1a1a" >2</text>
<line x1="124.55" y1="308.8" x2="124.55" y2="310.4" stroke="#2b2b2b" stroke-width="1" />
<line x1="147.9" y1="308.8" x2="147.9" y2="311.4" stroke="#2b2b2b" stroke-width="1" />
<text x="147.9" y="322.2" font-size="10.7" text-anchor="middle" fill="#1a1a1a" >4</text>
<line x1="171.25" y1="308.8" x2="171.25" y2="310.4" stroke="#2b2b2b" stroke-width="1" />
<line x1="194.6" y1="308.8" x2="194.6" y2="311.4" stroke="#2b2b2b" stroke-width="1" />
<text x="194.6" y="322.2" font-size="10.7" text-anchor="middle" fill="#1a1a1a" >6</text>
<line x1="217.95" y1="308.8" x2="217.95" y2="310.4" stroke="#2b2b2b" stroke-width="1" />
<line x1="241.3" y1="308.8" x2="241.3" y2="311.4" stroke="#2b2b2b" stroke-width="1" />
<text x="241.3" y="322.2" font-size="10.7" text-anchor="middle" fill="#1a1a1a" >8</text>
<line x1="50.9" y1="307.5" x2="53.5" y2="307.5" stroke="#2b2b2b" stroke-width="1" />
<text x="49.3" y="311.2" font-size="10.7" text-anchor="end" fill="#1a1a1a" >0.0</text>
<line x1="51.9" y1="292.24" x2="53.5" y2="292.24" stroke="#2b2b2b" stroke-width="1" />
<line x1="50.9" y1="276.98" x2="53.5" y2="276.98" stroke="#2b2b2b" stroke-width="1" />
<text x="49.5" y="280.68" font-size="10.2" text-anchor="end" fill="#1a1a1a" >4.0x10<tspan dy="-4" font-size="7.2">5</tspan></text>
<line x1="51.9" y1="261.72" x2="53.5" y2="261.72" stroke="#2b2b2b" stroke-width="1" />
<line x1="50.9" y1="246.46" x2="53.5" y2="246.46" stroke="#2b2b2b" stroke-width="1" />
<text x="49.5" y="250.16" font-size="10.2" text-anchor="end" fill="#1a1a1a" >8.0x10<tspan dy="-4" font-size="7.2">5</tspan></text>
<line x1="51.9" y1="231.2" x2="53.5" y2="231.2" stroke="#2b2b2b" stroke-width="1" />
<line x1="50.9" y1="215.94" x2="53.5" y2="215.94" stroke="#2b2b2b" stroke-width="1" />
<text x="49.5" y="219.64" font-size="10.2" text-anchor="end" fill="#1a1a1a" >1.2x10<tspan dy="-4" font-size="7.2">6</tspan></text>
<line x1="51.9" y1="200.68" x2="53.5" y2="200.68" stroke="#2b2b2b" stroke-width="1" />
<line x1="50.9" y1="185.42" x2="53.5" y2="185.42" stroke="#2b2b2b" stroke-width="1" />
<text x="49.5" y="189.12" font-size="10.2" text-anchor="end" fill="#1a1a1a" >1.6x10<tspan dy="-4" font-size="7.2">6</tspan></text>
<text x="148.7" y="333.6" font-size="11.4" text-anchor="middle" fill="#1a1a1a" >Volgate (V)</text>
<text transform="translate(9.6,243.2) rotate(-90)" font-size="11.4" text-anchor="middle" fill="#1a1a1a">Brightness (nit)</text>
<text transform="translate(19,175.6) scale(1.06,1)" font-size="11.8" fill="#1a1a1a">(c)</text>
<text x="134.4" y="194.4" font-size="8.5" text-anchor="start" fill="#1a1a1a" >8 V &amp; 1.66×10<tspan dy="-3.6" font-size="6.4">6</tspan><tspan dy="3.6"> nit</tspan></text>
<line x1="211.5" y1="189.3" x2="236.8" y2="182" stroke="#111" stroke-width="1.4" stroke-dasharray="5,3"/>
<path d="M206.8,190.7 L212.0,187.4 L212.9,190.9 Z" fill="#111"/>
<text x="57.6" y="285" font-size="8.5" text-anchor="start" fill="#1a1a1a" >2.45 V &amp; 189 nit</text>
<line x1="102.4" y1="292.4" x2="115.3" y2="303.9" stroke="#111" stroke-width="1.3" stroke-dasharray="5.6,5.8"/>
<path d="M103.6,294.6 L107.6,297.0 L105.0,293.4 Z" fill="#111"/>
<polyline points="308.5,306.52 323.59,303.4 338.68,268 353.77,235 368.86,212.56 383.95,198.64 399.04,190.12 414.13,185.44 429.22,183.04 444.31,182.44 459.4,182.8 474.49,184 489.58,185.8" fill="none" stroke="#5a1e4e" stroke-width="1.1" stroke-linejoin="round" />
<circle cx="308.5" cy="306.52" r="1.5" fill="#3a0e30"/>
<circle cx="323.59" cy="303.4" r="1.5" fill="#3a0e30"/>
<circle cx="338.68" cy="268" r="1.5" fill="#3a0e30"/>
<circle cx="353.77" cy="235" r="1.5" fill="#3a0e30"/>
<circle cx="368.86" cy="212.56" r="1.5" fill="#3a0e30"/>
<circle cx="383.95" cy="198.64" r="1.5" fill="#3a0e30"/>
<circle cx="399.04" cy="190.12" r="1.5" fill="#3a0e30"/>
<circle cx="414.13" cy="185.44" r="1.5" fill="#3a0e30"/>
<circle cx="429.22" cy="183.04" r="1.5" fill="#3a0e30"/>
<circle cx="444.31" cy="182.44" r="1.5" fill="#3a0e30"/>
<circle cx="459.4" cy="182.8" r="1.5" fill="#3a0e30"/>
<circle cx="474.49" cy="184" r="1.5" fill="#3a0e30"/>
<circle cx="489.58" cy="185.8" r="1.5" fill="#3a0e30"/>
<polyline points="328.3,299.2 339.2,277.6 348.9,262.6 357.9,254.6 366.2,248.2 374.6,243.2 382.4,239.4 390,236.6 397.6,234.4 404.8,233 412.2,232.2 420.5,231.8 429,231.7 437.5,231.8 446,232.2 454.5,233 462.8,234.2 471,235.8 478.8,237.8 486.2,240.1" fill="none" stroke="#f0961e" stroke-width="1.1" stroke-linejoin="round" />
<circle cx="328.3" cy="299.2" r="1.2" fill="#e88a1a"/>
<circle cx="339.2" cy="277.6" r="1.2" fill="#e88a1a"/>
<circle cx="348.9" cy="262.6" r="1.2" fill="#e88a1a"/>
<circle cx="357.9" cy="254.6" r="1.2" fill="#e88a1a"/>
<circle cx="366.2" cy="248.2" r="1.2" fill="#e88a1a"/>
<circle cx="374.6" cy="243.2" r="1.2" fill="#e88a1a"/>
<circle cx="382.4" cy="239.4" r="1.2" fill="#e88a1a"/>
<circle cx="390" cy="236.6" r="1.2" fill="#e88a1a"/>
<circle cx="397.6" cy="234.4" r="1.2" fill="#e88a1a"/>
<circle cx="404.8" cy="233" r="1.2" fill="#e88a1a"/>
<circle cx="412.2" cy="232.2" r="1.2" fill="#e88a1a"/>
<circle cx="420.5" cy="231.8" r="1.2" fill="#e88a1a"/>
<circle cx="429" cy="231.7" r="1.2" fill="#e88a1a"/>
<circle cx="437.5" cy="231.8" r="1.2" fill="#e88a1a"/>
<circle cx="446" cy="232.2" r="1.2" fill="#e88a1a"/>
<circle cx="454.5" cy="233" r="1.2" fill="#e88a1a"/>
<circle cx="462.8" cy="234.2" r="1.2" fill="#e88a1a"/>
<circle cx="471" cy="235.8" r="1.2" fill="#e88a1a"/>
<circle cx="478.8" cy="237.8" r="1.2" fill="#e88a1a"/>
<circle cx="486.2" cy="240.1" r="1.2" fill="#e88a1a"/>
<ellipse cx="375.8" cy="206.6" rx="4.8" ry="4.4" fill="none" stroke="#5a1e4e" stroke-width="0.9" stroke-dasharray="2.2,1.6"/>
<line x1="370.8" y1="207.2" x2="338.5" y2="207.2" stroke="#5a1e4e" stroke-width="1.4" stroke-dasharray="7,2.5,1.6,2.5"/>
<path d="M332.8,207.2 L339.2,204.9 L339.2,209.5 Z" fill="#5a1e4e"/>
<ellipse cx="361" cy="252.8" rx="4.2" ry="4.4" fill="none" stroke="#f0961e" stroke-width="0.9" stroke-dasharray="2.2,1.6"/>
<line x1="365.4" y1="252.4" x2="399.5" y2="252.4" stroke="#f0961e" stroke-width="1.4" stroke-dasharray="7,2.5,1.6,2.5"/>
<path d="M405.2,252.4 L398.8,250.1 L398.8,254.7 Z" fill="#f0961e"/>
<line x1="304.6" y1="182.8" x2="324.8" y2="182.8" stroke="#5a1e4e" stroke-width="1.1" />
<circle cx="314.7" cy="182.8" r="1.5" fill="#3a0e30"/>
<line x1="304.6" y1="193" x2="324.8" y2="193" stroke="#f0961e" stroke-width="1.1" />
<circle cx="314.7" cy="193" r="1.3" fill="#e88a1a"/>
<text x="326.2" y="185.8" font-size="9" font-style="italic" fill="#1a1a1a">η</text>
<text x="326.2" y="196.1" font-size="8.6" font-style="italic" fill="#1a1a1a">EQE</text>
<line x1="302.3" y1="176.6" x2="492.8" y2="176.6" stroke="#2b2b2b" stroke-width="1.2" />
<line x1="302.3" y1="309.3" x2="492.8" y2="309.3" stroke="#2b2b2b" stroke-width="1.2" />
<line x1="302.3" y1="176" x2="302.3" y2="309.9" stroke="#5a1e4e" stroke-width="1.2" />
<line x1="492.8" y1="176" x2="492.8" y2="309.9" stroke="#f0962a" stroke-width="1.2" />
<line x1="308.5" y1="309.3" x2="308.5" y2="311.9" stroke="#2b2b2b" stroke-width="1" />
<text x="308.5" y="322.4" font-size="10.7" text-anchor="middle" fill="#1a1a1a" >2</text>
<line x1="323.59" y1="309.3" x2="323.59" y2="310.9" stroke="#2b2b2b" stroke-width="1" />
<line x1="338.68" y1="309.3" x2="338.68" y2="311.9" stroke="#2b2b2b" stroke-width="1" />
<text x="338.68" y="322.4" font-size="10.7" text-anchor="middle" fill="#1a1a1a" >3</text>
<line x1="353.77" y1="309.3" x2="353.77" y2="310.9" stroke="#2b2b2b" stroke-width="1" />
<line x1="368.86" y1="309.3" x2="368.86" y2="311.9" stroke="#2b2b2b" stroke-width="1" />
<text x="368.86" y="322.4" font-size="10.7" text-anchor="middle" fill="#1a1a1a" >4</text>
<line x1="383.95" y1="309.3" x2="383.95" y2="310.9" stroke="#2b2b2b" stroke-width="1" />
<line x1="399.04" y1="309.3" x2="399.04" y2="311.9" stroke="#2b2b2b" stroke-width="1" />
<text x="399.04" y="322.4" font-size="10.7" text-anchor="middle" fill="#1a1a1a" >5</text>
<line x1="414.13" y1="309.3" x2="414.13" y2="310.9" stroke="#2b2b2b" stroke-width="1" />
<line x1="429.22" y1="309.3" x2="429.22" y2="311.9" stroke="#2b2b2b" stroke-width="1" />
<text x="429.22" y="322.4" font-size="10.7" text-anchor="middle" fill="#1a1a1a" >6</text>
<line x1="444.31" y1="309.3" x2="444.31" y2="310.9" stroke="#2b2b2b" stroke-width="1" />
<line x1="459.4" y1="309.3" x2="459.4" y2="311.9" stroke="#2b2b2b" stroke-width="1" />
<text x="459.4" y="322.4" font-size="10.7" text-anchor="middle" fill="#1a1a1a" >7</text>
<line x1="474.49" y1="309.3" x2="474.49" y2="310.9" stroke="#2b2b2b" stroke-width="1" />
<line x1="489.58" y1="309.3" x2="489.58" y2="311.9" stroke="#2b2b2b" stroke-width="1" />
<text x="489.58" y="322.4" font-size="10.7" text-anchor="middle" fill="#1a1a1a" >8</text>
<line x1="299.7" y1="308.2" x2="302.3" y2="308.2" stroke="#6a2256" stroke-width="1" />
<text x="298.3" y="311.9" font-size="10.7" text-anchor="end" fill="#6a2256" >0</text>
<line x1="300.7" y1="296.2" x2="302.3" y2="296.2" stroke="#6a2256" stroke-width="1" />
<line x1="299.7" y1="284.2" x2="302.3" y2="284.2" stroke="#6a2256" stroke-width="1" />
<text x="298.3" y="287.9" font-size="10.7" text-anchor="end" fill="#6a2256" >20</text>
<line x1="300.7" y1="272.2" x2="302.3" y2="272.2" stroke="#6a2256" stroke-width="1" />
<line x1="299.7" y1="260.2" x2="302.3" y2="260.2" stroke="#6a2256" stroke-width="1" />
<text x="298.3" y="263.9" font-size="10.7" text-anchor="end" fill="#6a2256" >40</text>
<line x1="300.7" y1="248.2" x2="302.3" y2="248.2" stroke="#6a2256" stroke-width="1" />
<line x1="299.7" y1="236.2" x2="302.3" y2="236.2" stroke="#6a2256" stroke-width="1" />
<text x="298.3" y="239.9" font-size="10.7" text-anchor="end" fill="#6a2256" >60</text>
<line x1="300.7" y1="224.2" x2="302.3" y2="224.2" stroke="#6a2256" stroke-width="1" />
<line x1="299.7" y1="212.2" x2="302.3" y2="212.2" stroke="#6a2256" stroke-width="1" />
<text x="298.3" y="215.9" font-size="10.7" text-anchor="end" fill="#6a2256" >80</text>
<line x1="300.7" y1="200.2" x2="302.3" y2="200.2" stroke="#6a2256" stroke-width="1" />
<line x1="299.7" y1="188.2" x2="302.3" y2="188.2" stroke="#6a2256" stroke-width="1" />
<text x="298.3" y="191.9" font-size="10.7" text-anchor="end" fill="#6a2256" >100</text>
<line x1="492.8" y1="297.44" x2="494.4" y2="297.44" stroke="#ef9a40" stroke-width="1" />
<line x1="492.8" y1="280.23" x2="495.4" y2="280.23" stroke="#ef9a40" stroke-width="1" />
<text x="496.8" y="283.93" font-size="10.7" text-anchor="start" fill="#ef9a40" >6</text>
<line x1="492.8" y1="263.02" x2="494.4" y2="263.02" stroke="#ef9a40" stroke-width="1" />
<line x1="492.8" y1="245.82" x2="495.4" y2="245.82" stroke="#ef9a40" stroke-width="1" />
<text x="496.8" y="249.52" font-size="10.7" text-anchor="start" fill="#ef9a40" >9</text>
<line x1="492.8" y1="228.62" x2="494.4" y2="228.62" stroke="#ef9a40" stroke-width="1" />
<line x1="492.8" y1="211.41" x2="495.4" y2="211.41" stroke="#ef9a40" stroke-width="1" />
<text x="496.8" y="215.11" font-size="10.7" text-anchor="start" fill="#ef9a40" >12</text>
<line x1="492.8" y1="194.21" x2="494.4" y2="194.21" stroke="#ef9a40" stroke-width="1" />
<line x1="492.8" y1="177" x2="495.4" y2="177" stroke="#ef9a40" stroke-width="1" />
<text x="496.8" y="180.7" font-size="10.7" text-anchor="start" fill="#ef9a40" >15</text>
<text x="400.2" y="333" font-size="11.4" text-anchor="middle" fill="#1a1a1a" >Voltage (V)</text>
<text transform="translate(273.9,244.6) rotate(-90)" font-size="11.4" text-anchor="middle" fill="#1a1a1a">Current efficiency (cd/A)</text>
<text transform="translate(515.7,240.8) rotate(-90)" font-size="11.4" text-anchor="middle" fill="#1a1a1a">EQE (%)</text>
<text transform="translate(256.7,174.65) scale(1.06,1)" font-size="11.8" fill="#1a1a1a">(d)</text>
</svg>
</body></html>
